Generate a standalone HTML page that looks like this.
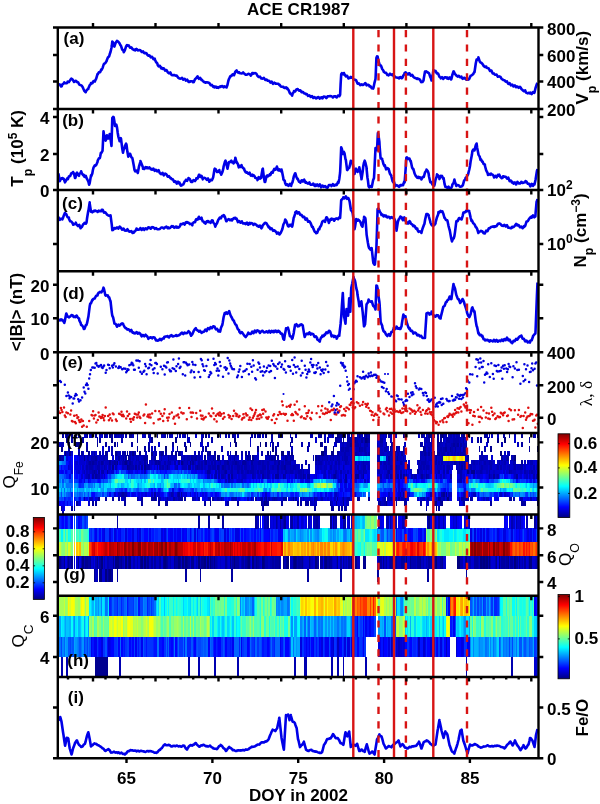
<!DOCTYPE html>
<html><head><meta charset="utf-8"><style>
html,body{margin:0;padding:0;background:#fff;}
svg{display:block;will-change:transform;}
</style></head><body>
<svg width="600" height="804" viewBox="0 0 600 804">
<rect width="600" height="804" fill="#fff"/>
<g fill="none" shape-rendering="crispEdges">
<path d="M62.1 512.4H63.9" stroke="#0000a0" stroke-width="5.23"/>
<path d="M60.7 507.9H62.5M70.7 507.9H72.5M73.6 507.9H75.4M262.4 507.9H264.3M313.9 507.9H315.8M331.1 507.9H334.4M338.3 507.9H340.1M341.1 507.9H343.0M344.0 507.9H347.2M425.5 507.9H427.4M435.6 507.9H437.4M438.4 507.9H440.3" stroke="#0000a0" stroke-width="5.23"/>
<path d="M62.1 507.9H63.9" stroke="#0000e1" stroke-width="5.23"/>
<path d="M63.5 507.9H65.4" stroke="#0000f1" stroke-width="5.23"/>
<path d="M59.3 503.4H61.1M62.1 503.4H65.4M66.4 503.4H68.2M332.5 503.4H334.4M338.3 503.4H340.1M391.2 503.4H393.0" stroke="#0000f1" stroke-width="5.23"/>
<path d="M60.7 503.4H62.5M69.3 503.4H71.1M73.6 503.4H75.4M79.3 503.4H81.1" stroke="#0002ff" stroke-width="5.23"/>
<path d="M65.0 503.4H66.8M67.8 503.4H69.7M70.7 503.4H72.5" stroke="#0022ff" stroke-width="5.23"/>
<path d="M76.4 503.4H78.3M92.2 503.4H94.0M95.0 503.4H96.9M123.6 503.4H125.5M140.8 503.4H142.6M158.0 503.4H159.8M165.1 503.4H168.4M203.8 503.4H205.6M209.5 503.4H211.3M226.7 503.4H228.5M236.7 503.4H238.5M261.0 503.4H262.8M266.7 503.4H268.6M281.0 503.4H282.9M296.8 503.4H298.6M299.6 503.4H301.5M305.4 503.4H308.6M329.7 503.4H331.5M378.3 503.4H381.6M395.5 503.4H397.3M404.1 503.4H407.3M419.8 503.4H421.7M439.9 503.4H441.7M462.7 503.4H464.6M489.9 503.4H491.8M521.4 503.4H526.1M537.1 503.4H539.0" stroke="#0000a0" stroke-width="5.23"/>
<path d="M77.9 503.4H79.7M87.9 503.4H89.7M225.2 503.4H227.1M312.5 503.4H314.3M339.7 503.4H343.0M386.9 503.4H388.7M427.0 503.4H428.8M461.3 503.4H463.1" stroke="#0000d0" stroke-width="5.23"/>
<path d="M262.4 503.4H264.3M309.6 503.4H311.5M313.9 503.4H315.8M384.1 503.4H385.9M458.5 503.4H460.3" stroke="#0000b0" stroke-width="5.23"/>
<path d="M263.9 503.4H265.7" stroke="#000080" stroke-width="5.23"/>
<path d="M265.3 503.4H267.1M335.4 503.4H337.2M342.6 503.4H344.4M385.5 503.4H387.3M434.1 503.4H437.4M441.3 503.4H443.1" stroke="#000090" stroke-width="5.23"/>
<path d="M311.1 503.4H312.9M315.4 503.4H317.2M331.1 503.4H332.9M345.4 503.4H348.7M381.2 503.4H384.4" stroke="#0000c0" stroke-width="5.23"/>
<path d="M334.0 503.4H335.8M336.8 503.4H338.7M344.0 503.4H345.8M388.3 503.4H391.6M425.5 503.4H427.4M437.0 503.4H440.3M459.9 503.4H461.7" stroke="#0000e1" stroke-width="5.23"/>
<path d="M57.8 498.8H59.7M63.5 498.8H65.4M82.1 498.8H84.0M223.8 498.8H225.6M226.7 498.8H228.5M229.5 498.8H231.4M241.0 498.8H244.2M245.3 498.8H247.1M418.4 498.8H420.2" stroke="#0012ff" stroke-width="5.23"/>
<path d="M59.3 498.8H61.1M62.1 498.8H63.9" stroke="#0053ff" stroke-width="5.23"/>
<path d="M60.7 498.8H62.5M70.7 498.8H72.5M76.4 498.8H78.3M80.7 498.8H82.5" stroke="#0043ff" stroke-width="5.23"/>
<path d="M65.0 498.8H66.8M67.8 498.8H71.1M77.9 498.8H79.7M87.9 498.8H89.7" stroke="#0022ff" stroke-width="5.23"/>
<path d="M66.4 498.8H68.2M75.0 498.8H76.8" stroke="#0033ff" stroke-width="5.23"/>
<path d="M73.6 498.8H75.4M85.0 498.8H86.8M93.6 498.8H95.4M225.2 498.8H227.1M236.7 498.8H238.5M239.5 498.8H241.4M243.8 498.8H245.7M248.1 498.8H250.0M478.5 498.8H481.7M488.5 498.8H490.3M518.5 498.8H520.4M522.8 498.8H524.7M528.6 498.8H530.4" stroke="#0002ff" stroke-width="5.23"/>
<path d="M79.3 498.8H81.1M86.4 498.8H88.3M92.2 498.8H94.0M163.7 498.8H165.5M195.2 498.8H197.0M202.3 498.8H204.2M205.2 498.8H207.0M228.1 498.8H229.9M249.6 498.8H251.4M256.7 498.8H258.5M262.4 498.8H264.3M293.9 498.8H295.7M296.8 498.8H298.6M301.1 498.8H302.9M312.5 498.8H314.3M325.4 498.8H327.2M328.2 498.8H330.1M331.1 498.8H332.9M335.4 498.8H337.2M396.9 498.8H398.8M424.1 498.8H425.9M429.8 498.8H431.7M434.1 498.8H436.0M459.9 498.8H461.7M484.2 498.8H486.0M489.9 498.8H491.8M494.2 498.8H496.1M524.3 498.8H527.5M531.4 498.8H533.3M534.3 498.8H536.1" stroke="#0000f1" stroke-width="5.23"/>
<path d="M83.6 498.8H85.4M97.9 498.8H99.7M105.0 498.8H106.9M112.2 498.8H114.0M117.9 498.8H119.7M123.6 498.8H125.5M136.5 498.8H138.3M140.8 498.8H142.6M150.8 498.8H154.1M172.3 498.8H175.5M179.4 498.8H182.7M183.7 498.8H185.6M212.3 498.8H214.2M220.9 498.8H222.8M251.0 498.8H252.8M255.3 498.8H257.1M261.0 498.8H262.8M273.9 498.8H275.7M282.5 498.8H287.2M295.3 498.8H297.2M313.9 498.8H315.8M336.8 498.8H338.7M342.6 498.8H344.4M356.9 498.8H360.1M368.3 498.8H370.1M392.6 498.8H394.5M395.5 498.8H397.3M398.4 498.8H400.2M439.9 498.8H441.7M458.5 498.8H460.3M461.3 498.8H464.6M465.6 498.8H467.4M469.9 498.8H471.7M508.5 498.8H511.8M512.8 498.8H514.7" stroke="#0000a0" stroke-width="5.23"/>
<path d="M89.3 498.8H92.6M137.9 498.8H139.8M175.1 498.8H177.0M193.7 498.8H195.6M218.1 498.8H219.9M222.4 498.8H224.2M231.0 498.8H232.8M233.8 498.8H235.6M246.7 498.8H248.5M276.7 498.8H278.6M291.0 498.8H292.9M309.6 498.8H311.5M316.8 498.8H318.6M334.0 498.8H335.8M341.1 498.8H343.0M345.4 498.8H347.2M378.3 498.8H380.2M381.2 498.8H384.4M388.3 498.8H390.2M394.1 498.8H395.9M417.0 498.8H418.8M419.8 498.8H423.1M435.6 498.8H437.4M441.3 498.8H443.1M445.6 498.8H447.4M482.8 498.8H484.6M485.6 498.8H488.9" stroke="#0000c0" stroke-width="5.23"/>
<path d="M95.0 498.8H98.3M120.8 498.8H124.0M155.1 498.8H156.9M162.3 498.8H164.1M165.1 498.8H167.0M168.0 498.8H171.3M176.6 498.8H178.4M213.8 498.8H217.0M219.5 498.8H221.3M252.4 498.8H254.2M258.1 498.8H260.0M269.6 498.8H272.8M278.2 498.8H282.9M289.6 498.8H291.4M303.9 498.8H310.0M311.1 498.8H312.9M319.7 498.8H321.5M326.8 498.8H328.6M329.7 498.8H331.5M344.0 498.8H345.8M399.8 498.8H401.6M405.5 498.8H408.8M425.5 498.8H427.4M428.4 498.8H430.2M437.0 498.8H438.8M448.4 498.8H450.3M537.1 498.8H539.0" stroke="#0000d0" stroke-width="5.23"/>
<path d="M139.4 498.8H141.2M160.8 498.8H162.7M170.9 498.8H172.7M196.6 498.8H198.4M203.8 498.8H205.6M206.6 498.8H208.5M238.1 498.8H239.9M266.7 498.8H268.6M288.2 498.8H290.0M318.2 498.8H320.1M322.5 498.8H325.8M332.5 498.8H334.4M338.3 498.8H341.5M349.7 498.8H351.5M376.9 498.8H378.7M379.8 498.8H381.6M391.2 498.8H393.0M432.7 498.8H434.5M444.1 498.8H446.0M449.9 498.8H451.7M457.0 498.8H458.9M477.1 498.8H478.9M481.3 498.8H483.2M495.7 498.8H498.9M527.1 498.8H529.0M532.9 498.8H534.7" stroke="#0000e1" stroke-width="5.23"/>
<path d="M153.7 498.8H155.5M265.3 498.8H267.1M292.5 498.8H294.3M404.1 498.8H405.9M438.4 498.8H440.3" stroke="#000090" stroke-width="5.23"/>
<path d="M158.0 498.8H161.2M166.6 498.8H168.4M178.0 498.8H179.8M192.3 498.8H194.1M198.0 498.8H199.9M208.1 498.8H211.3M216.6 498.8H218.5M232.4 498.8H234.2M235.2 498.8H237.1M259.6 498.8H261.4M263.9 498.8H265.7M268.2 498.8H270.0M272.4 498.8H274.3M275.3 498.8H277.1M299.6 498.8H301.5M302.5 498.8H304.3M315.4 498.8H317.2M321.1 498.8H322.9M346.8 498.8H350.1M384.1 498.8H385.9M386.9 498.8H388.7M389.8 498.8H391.6M401.2 498.8H404.5M422.7 498.8H424.5M427.0 498.8H428.8M442.7 498.8H444.5M464.2 498.8H466.0M467.0 498.8H468.9M471.3 498.8H473.2M520.0 498.8H523.2M530.0 498.8H531.8M535.7 498.8H537.5" stroke="#0000b0" stroke-width="5.23"/>
<path d="M447.0 498.8H448.8" stroke="#000080" stroke-width="5.23"/>
<path d="M57.8 494.3H59.7M63.5 494.3H65.4M73.6 494.3H75.4M77.9 494.3H79.7M86.4 494.3H88.3M100.7 494.3H102.6M103.6 494.3H105.4M232.4 494.3H234.2M235.2 494.3H237.1M255.3 494.3H257.1M273.9 494.3H275.7M279.6 494.3H281.4M298.2 494.3H300.0M301.1 494.3H302.9M311.1 494.3H312.9M479.9 494.3H481.7M485.6 494.3H488.9M515.7 494.3H518.9" stroke="#0073ff" stroke-width="5.23"/>
<path d="M59.3 494.3H61.1M65.0 494.3H66.8M82.1 494.3H84.0M220.9 494.3H224.2M233.8 494.3H235.6M241.0 494.3H242.8M302.5 494.3H305.8M309.6 494.3H311.5M361.2 494.3H363.0M520.0 494.3H523.2M528.6 494.3H530.4M535.7 494.3H539.0" stroke="#0094ff" stroke-width="5.23"/>
<path d="M60.7 494.3H62.5M69.3 494.3H71.1M87.9 494.3H89.7M96.5 494.3H98.3M252.4 494.3H254.2M269.6 494.3H271.4M272.4 494.3H274.3M285.3 494.3H288.6M312.5 494.3H314.3M359.7 494.3H361.6M362.6 494.3H364.4M437.0 494.3H438.8M478.5 494.3H480.3M482.8 494.3H484.6M492.8 494.3H494.6M524.3 494.3H526.1M530.0 494.3H531.8M532.9 494.3H534.7" stroke="#0043ff" stroke-width="5.23"/>
<path d="M62.1 494.3H63.9M223.8 494.3H225.6M236.7 494.3H238.5M239.5 494.3H241.4M243.8 494.3H245.7M299.6 494.3H301.5M305.4 494.3H307.2M422.7 494.3H424.5" stroke="#00a4ff" stroke-width="5.23"/>
<path d="M66.4 494.3H68.2M76.4 494.3H78.3M80.7 494.3H82.5M105.0 494.3H106.9M229.5 494.3H232.8M246.7 494.3H248.5M253.8 494.3H255.7M271.0 494.3H272.8M275.3 494.3H277.1M278.2 494.3H280.0M308.2 494.3H310.0M364.0 494.3H365.8M368.3 494.3H370.1M481.3 494.3H483.2M484.2 494.3H486.0M514.3 494.3H516.1M531.4 494.3H533.3M534.3 494.3H536.1" stroke="#0063ff" stroke-width="5.23"/>
<path d="M67.8 494.3H69.7M79.3 494.3H81.1M83.6 494.3H85.4M97.9 494.3H101.1M165.1 494.3H167.0M248.1 494.3H250.0M282.5 494.3H285.7M288.2 494.3H290.0M293.9 494.3H295.7M488.5 494.3H490.3M491.4 494.3H493.2M497.1 494.3H498.9M518.5 494.3H520.4" stroke="#0053ff" stroke-width="5.23"/>
<path d="M70.7 494.3H72.5M106.5 494.3H108.3M112.2 494.3H114.0M135.1 494.3H136.9M198.0 494.3H199.9M212.3 494.3H214.2M218.1 494.3H219.9M251.0 494.3H252.8M276.7 494.3H278.6M281.0 494.3H282.9M289.6 494.3H291.4M296.8 494.3H298.6M318.2 494.3H320.1M322.5 494.3H324.4M326.8 494.3H328.6M346.8 494.3H350.1M355.4 494.3H357.3M409.8 494.3H413.1M432.7 494.3H434.5M458.5 494.3H461.7M511.4 494.3H513.2" stroke="#0022ff" stroke-width="5.23"/>
<path d="M75.0 494.3H76.8M85.0 494.3H86.8M89.3 494.3H91.1M225.2 494.3H227.1M228.1 494.3H229.9M238.1 494.3H239.9M245.3 494.3H247.1M249.6 494.3H251.4M258.1 494.3H260.0M421.3 494.3H423.1M424.1 494.3H425.9M512.8 494.3H514.7M522.8 494.3H524.7M527.1 494.3H529.0" stroke="#0084ff" stroke-width="5.23"/>
<path d="M90.7 494.3H92.6M166.6 494.3H168.4M186.6 494.3H189.9M190.9 494.3H192.7M195.2 494.3H197.0M206.6 494.3H208.5M209.5 494.3H211.3M213.8 494.3H215.6M291.0 494.3H294.3M295.3 494.3H297.2M313.9 494.3H315.8M316.8 494.3H318.6M321.1 494.3H322.9M331.1 494.3H332.9M341.1 494.3H343.0M344.0 494.3H347.2M352.6 494.3H354.4M379.8 494.3H381.6M392.6 494.3H395.9M427.0 494.3H428.8M467.0 494.3H468.9M469.9 494.3H471.7M494.2 494.3H497.5M502.8 494.3H504.6" stroke="#0012ff" stroke-width="5.23"/>
<path d="M92.2 494.3H95.4M115.1 494.3H116.9M130.8 494.3H132.6M136.5 494.3H138.3M139.4 494.3H141.2M146.5 494.3H148.4M149.4 494.3H151.2M152.3 494.3H154.1M162.3 494.3H164.1M192.3 494.3H194.1M200.9 494.3H202.7M203.8 494.3H205.6M210.9 494.3H212.8M216.6 494.3H218.5M263.9 494.3H265.7M266.7 494.3H270.0M328.2 494.3H330.1M338.3 494.3H341.5M381.2 494.3H383.0M385.5 494.3H388.7M389.8 494.3H393.0M395.5 494.3H397.3M425.5 494.3H427.4M431.3 494.3H433.1M457.0 494.3H458.9M477.1 494.3H478.9" stroke="#0002ff" stroke-width="5.23"/>
<path d="M95.0 494.3H96.9M102.2 494.3H104.0M107.9 494.3H109.7M110.8 494.3H112.6M129.4 494.3H131.2M163.7 494.3H165.5M208.1 494.3H209.9M219.5 494.3H221.3M256.7 494.3H258.5M259.6 494.3H262.8M315.4 494.3H317.2M324.0 494.3H325.8M332.5 494.3H334.4M356.9 494.3H360.1M412.7 494.3H414.5M435.6 494.3H437.4M475.6 494.3H477.5M489.9 494.3H491.8M510.0 494.3H511.8M525.7 494.3H527.5" stroke="#0033ff" stroke-width="5.23"/>
<path d="M109.3 494.3H111.2M116.5 494.3H118.3M127.9 494.3H129.8M133.7 494.3H135.5M142.2 494.3H145.5M148.0 494.3H149.8M155.1 494.3H156.9M159.4 494.3H162.7M168.0 494.3H169.8M173.7 494.3H175.5M179.4 494.3H181.3M199.5 494.3H201.3M262.4 494.3H264.3M319.7 494.3H321.5M351.1 494.3H353.0M378.3 494.3H380.2M382.6 494.3H385.9M396.9 494.3H398.8M428.4 494.3H430.2M434.1 494.3H436.0M439.9 494.3H441.7M447.0 494.3H448.8M461.3 494.3H463.1M465.6 494.3H467.4M498.5 494.3H500.3M501.4 494.3H503.2M507.1 494.3H510.4" stroke="#0000f1" stroke-width="5.23"/>
<path d="M113.6 494.3H115.5M145.1 494.3H146.9M156.5 494.3H159.8M169.4 494.3H171.3M185.2 494.3H187.0M189.5 494.3H191.3M196.6 494.3H198.4M334.0 494.3H335.8M376.9 494.3H378.7M398.4 494.3H400.2M444.1 494.3H446.0" stroke="#0000d0" stroke-width="5.23"/>
<path d="M117.9 494.3H121.2M150.8 494.3H152.7M172.3 494.3H174.1M265.3 494.3H267.1M335.4 494.3H337.2M388.3 494.3H390.2M406.9 494.3H408.8M449.9 494.3H451.7M462.7 494.3H464.6M472.8 494.3H476.0M499.9 494.3H501.8M504.2 494.3H506.1" stroke="#0000c0" stroke-width="5.23"/>
<path d="M120.8 494.3H122.6M123.6 494.3H126.9M170.9 494.3H172.7M176.6 494.3H178.4M399.8 494.3H401.6M405.5 494.3H407.3M429.8 494.3H431.7M448.4 494.3H450.3M464.2 494.3H466.0" stroke="#0000b0" stroke-width="5.23"/>
<path d="M122.2 494.3H124.0M153.7 494.3H155.5M178.0 494.3H179.8M180.9 494.3H182.7M402.7 494.3H404.5M441.3 494.3H443.1" stroke="#0000a0" stroke-width="5.23"/>
<path d="M126.5 494.3H128.3M132.2 494.3H134.1M137.9 494.3H139.8M140.8 494.3H142.6M175.1 494.3H177.0M182.3 494.3H185.6M193.7 494.3H195.6M202.3 494.3H204.2M205.2 494.3H207.0M215.2 494.3H217.0M325.4 494.3H327.2M329.7 494.3H331.5M336.8 494.3H338.7M342.6 494.3H344.4M349.7 494.3H351.5M354.0 494.3H355.8M401.2 494.3H403.1M404.1 494.3H405.9M408.4 494.3H410.2M438.4 494.3H440.3M468.5 494.3H470.3M471.3 494.3H473.2M505.7 494.3H507.5" stroke="#0000e1" stroke-width="5.23"/>
<path d="M226.7 494.3H228.5M306.8 494.3H308.6M414.1 494.3H417.4M418.4 494.3H420.2" stroke="#00b4ff" stroke-width="5.23"/>
<path d="M242.4 494.3H244.2" stroke="#00e5ff" stroke-width="5.23"/>
<path d="M417.0 494.3H418.8" stroke="#00f5ff" stroke-width="5.23"/>
<path d="M419.8 494.3H421.7" stroke="#00c4ff" stroke-width="5.23"/>
<path d="M442.7 494.3H444.5M445.6 494.3H447.4" stroke="#000090" stroke-width="5.23"/>
<path d="M57.8 489.8H59.7M66.4 489.8H68.2M76.4 489.8H78.3M82.1 489.8H84.0M102.2 489.8H104.0M110.8 489.8H112.6M127.9 489.8H129.8M146.5 489.8H148.4M162.3 489.8H164.1M168.0 489.8H169.8M198.0 489.8H199.9M202.3 489.8H204.2M205.2 489.8H207.0M212.3 489.8H215.6M268.2 489.8H270.0M376.9 489.8H378.7M437.0 489.8H438.8M499.9 489.8H501.8" stroke="#0094ff" stroke-width="5.23"/>
<path d="M59.3 489.8H61.1M75.0 489.8H76.8M95.0 489.8H96.9M105.0 489.8H106.9M165.1 489.8H167.0M219.5 489.8H221.3M266.7 489.8H268.6M313.9 489.8H317.2M324.0 489.8H325.8M409.8 489.8H411.6M505.7 489.8H507.5M532.9 489.8H534.7" stroke="#00d4ff" stroke-width="5.23"/>
<path d="M60.7 489.8H62.5M106.5 489.8H111.2M132.2 489.8H134.1M140.8 489.8H142.6M193.7 489.8H195.6M196.6 489.8H198.4M203.8 489.8H205.6M263.9 489.8H267.1M354.0 489.8H355.8M428.4 489.8H430.2M438.4 489.8H440.3M459.9 489.8H461.7" stroke="#0084ff" stroke-width="5.23"/>
<path d="M62.1 489.8H63.9M65.0 489.8H66.8M73.6 489.8H75.4M77.9 489.8H79.7M83.6 489.8H85.4M93.6 489.8H95.4M99.3 489.8H101.1M163.7 489.8H165.5M215.2 489.8H219.9M328.2 489.8H331.5M332.5 489.8H334.4M358.3 489.8H360.1M434.1 489.8H436.0M501.4 489.8H503.2" stroke="#00c4ff" stroke-width="5.23"/>
<path d="M63.5 489.8H65.4M69.3 489.8H71.1M185.2 489.8H187.0M188.0 489.8H189.9M334.0 489.8H338.7M381.2 489.8H383.0M391.2 489.8H393.0M457.0 489.8H458.9" stroke="#0063ff" stroke-width="5.23"/>
<path d="M67.8 489.8H69.7M70.7 489.8H72.5M79.3 489.8H82.5M90.7 489.8H92.6M100.7 489.8H102.6M112.2 489.8H115.5M142.2 489.8H144.1M206.6 489.8H208.5M210.9 489.8H212.8M269.6 489.8H271.4M331.1 489.8H332.9M431.3 489.8H433.1M458.5 489.8H460.3M468.5 489.8H470.3M474.2 489.8H476.0M502.8 489.8H506.1" stroke="#00a4ff" stroke-width="5.23"/>
<path d="M85.0 489.8H86.8M89.3 489.8H91.1M103.6 489.8H105.4M285.3 489.8H288.6M291.0 489.8H292.9M295.3 489.8H297.2M325.4 489.8H327.2M359.7 489.8H361.6M435.6 489.8H437.4M477.1 489.8H478.9M511.4 489.8H513.2M531.4 489.8H533.3M535.7 489.8H539.0" stroke="#00e5ff" stroke-width="5.23"/>
<path d="M86.4 489.8H89.7M92.2 489.8H94.0M96.5 489.8H98.3M130.8 489.8H132.6M199.5 489.8H201.3M208.1 489.8H211.3M262.4 489.8H264.3M427.0 489.8H428.8M469.9 489.8H471.7" stroke="#00b4ff" stroke-width="5.23"/>
<path d="M97.9 489.8H99.7M166.6 489.8H168.4M220.9 489.8H222.8M246.7 489.8H248.5M289.6 489.8H291.4M311.1 489.8H312.9M319.7 489.8H321.5M361.2 489.8H364.4M425.5 489.8H427.4M475.6 489.8H477.5M478.5 489.8H480.3M497.1 489.8H498.9M508.5 489.8H510.4M528.6 489.8H530.4" stroke="#00f5ff" stroke-width="5.23"/>
<path d="M115.1 489.8H116.9M117.9 489.8H119.7M135.1 489.8H136.9M148.0 489.8H149.8M155.1 489.8H156.9M183.7 489.8H185.6M186.6 489.8H188.4M195.2 489.8H197.0M406.9 489.8H408.8M448.4 489.8H450.3M465.6 489.8H467.4" stroke="#0053ff" stroke-width="5.23"/>
<path d="M116.5 489.8H118.3M122.2 489.8H124.0M136.5 489.8H139.8M156.5 489.8H158.4M160.8 489.8H162.7M170.9 489.8H172.7M175.1 489.8H177.0M189.5 489.8H191.3M352.6 489.8H354.4M379.8 489.8H381.6M382.6 489.8H384.4M392.6 489.8H394.5M408.4 489.8H410.2M439.9 489.8H441.7M449.9 489.8H451.7M462.7 489.8H464.6" stroke="#0043ff" stroke-width="5.23"/>
<path d="M119.3 489.8H121.2M123.6 489.8H125.5M152.3 489.8H154.1M169.4 489.8H171.3M173.7 489.8H175.5M176.6 489.8H178.4M182.3 489.8H184.1M190.9 489.8H192.7M385.5 489.8H388.7M405.5 489.8H407.3M445.6 489.8H447.4" stroke="#0033ff" stroke-width="5.23"/>
<path d="M120.8 489.8H122.6M149.4 489.8H151.2M192.3 489.8H194.1M338.3 489.8H340.1M342.6 489.8H344.4M384.1 489.8H385.9M388.3 489.8H390.2M396.9 489.8H398.8" stroke="#0022ff" stroke-width="5.23"/>
<path d="M125.1 489.8H126.9M153.7 489.8H155.5M159.4 489.8H161.2M178.0 489.8H179.8M180.9 489.8H182.7M344.0 489.8H345.8M351.1 489.8H353.0M389.8 489.8H391.6M394.1 489.8H395.9M441.3 489.8H443.1M447.0 489.8H448.8" stroke="#0012ff" stroke-width="5.23"/>
<path d="M126.5 489.8H128.3M129.4 489.8H131.2M133.7 489.8H135.5M139.4 489.8H141.2M143.7 489.8H146.9M200.9 489.8H202.7M355.4 489.8H358.7M378.3 489.8H380.2M429.8 489.8H431.7M432.7 489.8H434.5M461.3 489.8H463.1M467.0 489.8H468.9M471.3 489.8H474.6" stroke="#0073ff" stroke-width="5.23"/>
<path d="M150.8 489.8H152.7M158.0 489.8H159.8M399.8 489.8H401.6M442.7 489.8H444.5" stroke="#0002ff" stroke-width="5.23"/>
<path d="M172.3 489.8H174.1M339.7 489.8H341.5M345.4 489.8H347.2M402.7 489.8H404.5" stroke="#0000e1" stroke-width="5.23"/>
<path d="M179.4 489.8H181.3M341.1 489.8H343.0M346.8 489.8H350.1M395.5 489.8H397.3M404.1 489.8H405.9M444.1 489.8H446.0M464.2 489.8H466.0" stroke="#0000f1" stroke-width="5.23"/>
<path d="M222.4 489.8H224.2M231.0 489.8H232.8M235.2 489.8H238.5M248.1 489.8H250.0M271.0 489.8H272.8M281.0 489.8H284.3M293.9 489.8H295.7M321.1 489.8H322.9M424.1 489.8H425.9M487.1 489.8H494.6M521.4 489.8H523.2M525.7 489.8H527.5M534.3 489.8H536.1" stroke="#16ffe9" stroke-width="5.23"/>
<path d="M223.8 489.8H225.6M232.4 489.8H235.6M249.6 489.8H251.4M253.8 489.8H255.7M256.7 489.8H258.5M273.9 489.8H277.1M283.9 489.8H285.7M288.2 489.8H290.0M292.5 489.8H294.3M296.8 489.8H300.0M308.2 489.8H310.0M365.4 489.8H368.7M421.3 489.8H424.5M482.8 489.8H484.6M495.7 489.8H497.5" stroke="#26ffd9" stroke-width="5.23"/>
<path d="M225.2 489.8H227.1M243.8 489.8H245.7M259.6 489.8H261.4M272.4 489.8H274.3M278.2 489.8H280.0M412.7 489.8H414.5M524.3 489.8H526.1M530.0 489.8H531.8" stroke="#47ffb8" stroke-width="5.23"/>
<path d="M226.7 489.8H229.9M245.3 489.8H247.1M251.0 489.8H254.2M312.5 489.8H314.3M316.8 489.8H320.1M322.5 489.8H324.4M326.8 489.8H328.6M364.0 489.8H365.8M368.3 489.8H370.1M494.2 489.8H496.1M498.5 489.8H500.3M507.1 489.8H508.9M510.0 489.8H511.8M527.1 489.8H529.0" stroke="#06fff9" stroke-width="5.23"/>
<path d="M229.5 489.8H231.4M238.1 489.8H239.9M255.3 489.8H257.1M261.0 489.8H262.8M309.6 489.8H311.5M411.2 489.8H413.1M479.9 489.8H481.7M484.2 489.8H487.5M520.0 489.8H521.8M522.8 489.8H524.7" stroke="#37ffc8" stroke-width="5.23"/>
<path d="M239.5 489.8H241.4M481.3 489.8H483.2M512.8 489.8H517.5M518.5 489.8H520.4" stroke="#67ff98" stroke-width="5.23"/>
<path d="M241.0 489.8H244.2M258.1 489.8H260.0M276.7 489.8H278.6M279.6 489.8H281.4M306.8 489.8H308.6M418.4 489.8H421.7M517.1 489.8H518.9" stroke="#57ffa8" stroke-width="5.23"/>
<path d="M299.6 489.8H301.5" stroke="#98ff67" stroke-width="5.23"/>
<path d="M301.1 489.8H302.9M303.9 489.8H305.8M414.1 489.8H415.9M417.0 489.8H418.8" stroke="#77ff88" stroke-width="5.23"/>
<path d="M302.5 489.8H304.3M305.4 489.8H307.2" stroke="#a8ff57" stroke-width="5.23"/>
<path d="M349.7 489.8H351.5M398.4 489.8H400.2M401.2 489.8H403.1" stroke="#0000d0" stroke-width="5.23"/>
<path d="M415.5 489.8H417.4" stroke="#88ff77" stroke-width="5.23"/>
<path d="M57.8 485.2H59.7M73.6 485.2H75.4M76.4 485.2H78.3M83.6 485.2H86.8M102.2 485.2H104.0M137.9 485.2H139.8M159.4 485.2H161.2M222.4 485.2H224.2M243.8 485.2H245.7M248.1 485.2H250.0M358.3 485.2H360.1M364.0 485.2H367.3M532.9 485.2H534.7" stroke="#0094ff" stroke-width="5.23"/>
<path d="M59.3 485.2H61.1M65.0 485.2H66.8M75.0 485.2H76.8M86.4 485.2H88.3M92.2 485.2H94.0M109.3 485.2H111.2M120.8 485.2H122.6M153.7 485.2H155.5M176.6 485.2H178.4M188.0 485.2H189.9M232.4 485.2H234.2M236.7 485.2H239.9M249.6 485.2H251.4M286.8 485.2H288.6M308.2 485.2H310.0M362.6 485.2H364.4M366.9 485.2H368.7M535.7 485.2H537.5" stroke="#00a4ff" stroke-width="5.23"/>
<path d="M60.7 485.2H62.5M96.5 485.2H99.7M122.2 485.2H124.0M136.5 485.2H138.3M156.5 485.2H159.8M162.3 485.2H164.1M170.9 485.2H174.1M202.3 485.2H205.6M218.1 485.2H219.9M229.5 485.2H231.4M235.2 485.2H237.1M241.0 485.2H242.8M263.9 485.2H265.7M289.6 485.2H291.4M306.8 485.2H308.6M359.7 485.2H361.6M376.9 485.2H380.2M415.5 485.2H417.4M534.3 485.2H536.1M537.1 485.2H539.0" stroke="#00b4ff" stroke-width="5.23"/>
<path d="M62.1 485.2H63.9M66.4 485.2H72.5M89.3 485.2H92.6M93.6 485.2H95.4M99.3 485.2H101.1M220.9 485.2H222.8M228.1 485.2H229.9M335.4 485.2H337.2M338.3 485.2H340.1M381.2 485.2H383.0M392.6 485.2H394.5M465.6 485.2H467.4" stroke="#0073ff" stroke-width="5.23"/>
<path d="M63.5 485.2H65.4M95.0 485.2H96.9M100.7 485.2H102.6M117.9 485.2H119.7M126.5 485.2H128.3M139.4 485.2H142.6M152.3 485.2H154.1M160.8 485.2H162.7M179.4 485.2H181.3M189.5 485.2H192.7M193.7 485.2H195.6M196.6 485.2H199.9M208.1 485.2H209.9M239.5 485.2H241.4M252.4 485.2H254.2M266.7 485.2H268.6M269.6 485.2H271.4M487.1 485.2H491.8M525.7 485.2H527.5M530.0 485.2H533.3" stroke="#00c4ff" stroke-width="5.23"/>
<path d="M77.9 485.2H79.7M173.7 485.2H175.5M355.4 485.2H357.3M388.3 485.2H390.2M441.3 485.2H443.1M448.4 485.2H450.3" stroke="#0053ff" stroke-width="5.23"/>
<path d="M79.3 485.2H81.1M342.6 485.2H344.4M395.5 485.2H397.3M402.7 485.2H404.5M447.0 485.2H448.8" stroke="#0022ff" stroke-width="5.23"/>
<path d="M80.7 485.2H84.0M346.8 485.2H348.7M352.6 485.2H354.4M404.1 485.2H405.9M444.1 485.2H446.0M458.5 485.2H463.1" stroke="#0033ff" stroke-width="5.23"/>
<path d="M87.9 485.2H89.7M175.1 485.2H177.0M178.0 485.2H179.8M223.8 485.2H228.5M231.0 485.2H232.8M242.4 485.2H244.2M246.7 485.2H248.5M354.0 485.2H355.8M356.9 485.2H358.7M386.9 485.2H388.7M405.5 485.2H408.8M439.9 485.2H441.7M449.9 485.2H451.7" stroke="#0063ff" stroke-width="5.23"/>
<path d="M103.6 485.2H106.9M107.9 485.2H109.7M123.6 485.2H125.5M127.9 485.2H129.8M149.4 485.2H152.7M169.4 485.2H171.3M186.6 485.2H188.4M195.2 485.2H197.0M255.3 485.2H257.1M271.0 485.2H272.8M291.0 485.2H292.9M361.2 485.2H363.0M414.1 485.2H415.9M485.6 485.2H487.5M491.4 485.2H493.2" stroke="#00d4ff" stroke-width="5.23"/>
<path d="M106.5 485.2H108.3M116.5 485.2H118.3M119.3 485.2H121.2M125.1 485.2H126.9M142.2 485.2H145.5M180.9 485.2H182.7M183.7 485.2H187.0M205.2 485.2H207.0M215.2 485.2H217.0M219.5 485.2H221.3M259.6 485.2H262.8M283.9 485.2H287.2M292.5 485.2H294.3M309.6 485.2H311.5M332.5 485.2H335.8M437.0 485.2H438.8M484.2 485.2H486.0M492.8 485.2H494.6M524.3 485.2H526.1M528.6 485.2H530.4" stroke="#00e5ff" stroke-width="5.23"/>
<path d="M110.8 485.2H112.6M113.6 485.2H115.5M129.4 485.2H131.2M135.1 485.2H136.9M145.1 485.2H146.9M155.1 485.2H156.9M182.3 485.2H184.1M199.5 485.2H201.3M209.5 485.2H211.3M212.3 485.2H214.2M251.0 485.2H252.8M258.1 485.2H260.0M273.9 485.2H275.7M288.2 485.2H290.0M293.9 485.2H295.7M299.6 485.2H301.5M302.5 485.2H307.2M311.1 485.2H312.9M419.8 485.2H423.1M427.0 485.2H428.8M429.8 485.2H431.7M468.5 485.2H470.3M472.8 485.2H474.6M477.1 485.2H478.9M481.3 485.2H483.2M520.0 485.2H521.8M522.8 485.2H524.7M527.1 485.2H529.0" stroke="#06fff9" stroke-width="5.23"/>
<path d="M112.2 485.2H114.0M133.7 485.2H135.5M192.3 485.2H194.1M200.9 485.2H202.7M206.6 485.2H208.5M216.6 485.2H218.5M253.8 485.2H255.7M265.3 485.2H267.1M268.2 485.2H270.0M275.3 485.2H278.6M295.3 485.2H297.2M301.1 485.2H302.9M408.4 485.2H410.2M412.7 485.2H414.5M417.0 485.2H418.8M422.7 485.2H425.9M431.3 485.2H433.1M469.9 485.2H471.7M478.5 485.2H480.3M515.7 485.2H517.5" stroke="#00f5ff" stroke-width="5.23"/>
<path d="M115.1 485.2H116.9M132.2 485.2H134.1M146.5 485.2H149.8M165.1 485.2H167.0M256.7 485.2H258.5M272.4 485.2H274.3M281.0 485.2H282.9M312.5 485.2H314.3M432.7 485.2H434.5M474.2 485.2H476.0M482.8 485.2H484.6M494.2 485.2H497.5" stroke="#26ffd9" stroke-width="5.23"/>
<path d="M130.8 485.2H132.6M210.9 485.2H212.8M296.8 485.2H298.6M428.4 485.2H430.2M471.3 485.2H473.2M517.1 485.2H520.4" stroke="#37ffc8" stroke-width="5.23"/>
<path d="M163.7 485.2H165.5M213.8 485.2H215.6M262.4 485.2H264.3M279.6 485.2H281.4M282.5 485.2H284.3M368.3 485.2H370.1M409.8 485.2H411.6M418.4 485.2H420.2M425.5 485.2H427.4M435.6 485.2H437.4M479.9 485.2H481.7M514.3 485.2H516.1M521.4 485.2H523.2" stroke="#16ffe9" stroke-width="5.23"/>
<path d="M166.6 485.2H168.4M278.2 485.2H280.0M498.5 485.2H501.8M511.4 485.2H513.2" stroke="#67ff98" stroke-width="5.23"/>
<path d="M168.0 485.2H169.8M298.2 485.2H300.0M434.1 485.2H436.0M475.6 485.2H477.5M508.5 485.2H510.4M512.8 485.2H514.7" stroke="#47ffb8" stroke-width="5.23"/>
<path d="M233.8 485.2H235.6M245.3 485.2H247.1M379.8 485.2H381.6M384.1 485.2H387.3M389.8 485.2H393.0M438.4 485.2H440.3M467.0 485.2H468.9" stroke="#0084ff" stroke-width="5.23"/>
<path d="M313.9 485.2H315.8M501.4 485.2H503.2M507.1 485.2H508.9" stroke="#88ff77" stroke-width="5.23"/>
<path d="M315.4 485.2H317.2M319.7 485.2H321.5M325.4 485.2H327.2M505.7 485.2H507.5M510.0 485.2H511.8" stroke="#77ff88" stroke-width="5.23"/>
<path d="M316.8 485.2H318.6M502.8 485.2H504.6" stroke="#a8ff57" stroke-width="5.23"/>
<path d="M318.2 485.2H320.1M321.1 485.2H322.9" stroke="#b8ff47" stroke-width="5.23"/>
<path d="M322.5 485.2H324.4" stroke="#d9ff26" stroke-width="5.23"/>
<path d="M324.0 485.2H325.8" stroke="#c8ff37" stroke-width="5.23"/>
<path d="M326.8 485.2H328.6M331.1 485.2H332.9M411.2 485.2H413.1M497.1 485.2H498.9M504.2 485.2H506.1" stroke="#57ffa8" stroke-width="5.23"/>
<path d="M328.2 485.2H331.5" stroke="#98ff67" stroke-width="5.23"/>
<path d="M336.8 485.2H338.7M382.6 485.2H384.4M442.7 485.2H444.5M445.6 485.2H447.4M457.0 485.2H458.9" stroke="#0043ff" stroke-width="5.23"/>
<path d="M339.7 485.2H341.5M348.3 485.2H351.5" stroke="#0000f1" stroke-width="5.23"/>
<path d="M341.1 485.2H343.0M351.1 485.2H353.0M399.8 485.2H403.1" stroke="#0002ff" stroke-width="5.23"/>
<path d="M344.0 485.2H347.2M394.1 485.2H395.9" stroke="#0000e1" stroke-width="5.23"/>
<path d="M396.9 485.2H398.8M462.7 485.2H466.0" stroke="#0012ff" stroke-width="5.23"/>
<path d="M398.4 485.2H400.2" stroke="#0000d0" stroke-width="5.23"/>
<path d="M57.8 480.7H59.7M203.8 480.7H207.0M210.9 480.7H212.8M325.4 480.7H330.1M331.1 480.7H332.9M431.3 480.7H433.1M468.5 480.7H470.3M474.2 480.7H476.0M497.1 480.7H498.9" stroke="#0094ff" stroke-width="5.23"/>
<path d="M59.3 480.7H61.1M65.0 480.7H66.8M67.8 480.7H69.7M202.3 480.7H204.2M209.5 480.7H211.3M263.9 480.7H267.1M334.0 480.7H335.8M427.0 480.7H428.8M475.6 480.7H477.5M511.4 480.7H513.2" stroke="#0073ff" stroke-width="5.23"/>
<path d="M60.7 480.7H62.5M107.9 480.7H109.7M140.8 480.7H142.6M212.3 480.7H214.2M429.8 480.7H431.7M432.7 480.7H434.5" stroke="#00a4ff" stroke-width="5.23"/>
<path d="M62.1 480.7H63.9M69.3 480.7H72.5M75.0 480.7H76.8M259.6 480.7H261.4M262.4 480.7H264.3M281.0 480.7H282.9M283.9 480.7H287.2M298.2 480.7H300.0M332.5 480.7H334.4M385.5 480.7H388.7M434.1 480.7H436.0M438.4 480.7H440.3M444.1 480.7H447.4M467.0 480.7H468.9M488.5 480.7H491.8M520.0 480.7H521.8M524.3 480.7H526.1" stroke="#0043ff" stroke-width="5.23"/>
<path d="M63.5 480.7H65.4M66.4 480.7H68.2M109.3 480.7H111.2M206.6 480.7H209.9M312.5 480.7H314.3M329.7 480.7H331.5M408.4 480.7H410.2M428.4 480.7H430.2M471.3 480.7H473.2M477.1 480.7H478.9M510.0 480.7H511.8" stroke="#0084ff" stroke-width="5.23"/>
<path d="M73.6 480.7H75.4M76.4 480.7H78.3M85.0 480.7H88.3M95.0 480.7H96.9M102.2 480.7H104.0M216.6 480.7H218.5M271.0 480.7H272.8M273.9 480.7H275.7M279.6 480.7H281.4M282.5 480.7H284.3M289.6 480.7H291.4M296.8 480.7H298.6M303.9 480.7H305.8M405.5 480.7H407.3M424.1 480.7H427.4M465.6 480.7H467.4M482.8 480.7H484.6M491.4 480.7H494.6M512.8 480.7H514.7M521.4 480.7H524.7M527.1 480.7H529.0M531.4 480.7H533.3M535.7 480.7H537.5" stroke="#0033ff" stroke-width="5.23"/>
<path d="M77.9 480.7H79.7M90.7 480.7H95.4M275.3 480.7H277.1M278.2 480.7H280.0M293.9 480.7H295.7M309.6 480.7H311.5M356.9 480.7H358.7M362.6 480.7H364.4M391.2 480.7H393.0M406.9 480.7H408.8M419.8 480.7H421.7M435.6 480.7H438.8M464.2 480.7H466.0M481.3 480.7H483.2M484.2 480.7H486.0M517.1 480.7H520.4" stroke="#0022ff" stroke-width="5.23"/>
<path d="M79.3 480.7H82.5M218.1 480.7H219.9M226.7 480.7H228.5M242.4 480.7H244.2M245.3 480.7H247.1M248.1 480.7H251.4M252.4 480.7H254.2M255.3 480.7H257.1M258.1 480.7H260.0M299.6 480.7H301.5M302.5 480.7H304.3M346.8 480.7H348.7M352.6 480.7H354.4M359.7 480.7H361.6M381.2 480.7H384.4M392.6 480.7H394.5M401.2 480.7H403.1M421.3 480.7H424.5M515.7 480.7H517.5M530.0 480.7H531.8" stroke="#0000f1" stroke-width="5.23"/>
<path d="M82.1 480.7H84.0M96.5 480.7H98.3M99.3 480.7H101.1M222.4 480.7H224.2M251.0 480.7H252.8M253.8 480.7H255.7M256.7 480.7H258.5M266.7 480.7H270.0M276.7 480.7H278.6M311.1 480.7H312.9M336.8 480.7H338.7M348.3 480.7H350.1M358.3 480.7H360.1M368.3 480.7H370.1M389.8 480.7H391.6M414.1 480.7H415.9M418.4 480.7H420.2M441.3 480.7H443.1M479.9 480.7H481.7M485.6 480.7H487.5M525.7 480.7H527.5M528.6 480.7H530.4M534.3 480.7H536.1" stroke="#0012ff" stroke-width="5.23"/>
<path d="M83.6 480.7H85.4M87.9 480.7H89.7M219.5 480.7H221.3M232.4 480.7H234.2M235.2 480.7H237.1M243.8 480.7H245.7M286.8 480.7H288.6M301.1 480.7H302.9M305.4 480.7H307.2M349.7 480.7H353.0M354.0 480.7H357.3M415.5 480.7H417.4M448.4 480.7H451.7M532.9 480.7H534.7M537.1 480.7H539.0" stroke="#0000e1" stroke-width="5.23"/>
<path d="M89.3 480.7H91.1M97.9 480.7H99.7M220.9 480.7H222.8M223.8 480.7H225.6M233.8 480.7H235.6M246.7 480.7H248.5M261.0 480.7H262.8M269.6 480.7H271.4M272.4 480.7H274.3M288.2 480.7H290.0M291.0 480.7H292.9M341.1 480.7H344.4M361.2 480.7H363.0M365.4 480.7H367.3M376.9 480.7H380.2M384.1 480.7H385.9M388.3 480.7H390.2M395.5 480.7H398.8M399.8 480.7H401.6M402.7 480.7H405.9M412.7 480.7H414.5M417.0 480.7H418.8M439.9 480.7H441.7M447.0 480.7H448.8M461.3 480.7H463.1M487.1 480.7H488.9" stroke="#0002ff" stroke-width="5.23"/>
<path d="M100.7 480.7H102.6M103.6 480.7H108.3M215.2 480.7H217.0M292.5 480.7H294.3M335.4 480.7H337.2M409.8 480.7H411.6M478.5 480.7H480.3M514.3 480.7H516.1" stroke="#0053ff" stroke-width="5.23"/>
<path d="M110.8 480.7H112.6M129.4 480.7H131.2M137.9 480.7H139.8M178.0 480.7H179.8M196.6 480.7H198.4M199.5 480.7H201.3M316.8 480.7H318.6M472.8 480.7H474.6" stroke="#00c4ff" stroke-width="5.23"/>
<path d="M112.2 480.7H114.0M175.1 480.7H177.0M322.5 480.7H324.4M507.1 480.7H508.9" stroke="#00e5ff" stroke-width="5.23"/>
<path d="M113.6 480.7H115.5M117.9 480.7H119.7M122.2 480.7H125.5M132.2 480.7H134.1M163.7 480.7H167.0M180.9 480.7H187.0M504.2 480.7H506.1" stroke="#26ffd9" stroke-width="5.23"/>
<path d="M115.1 480.7H118.3M148.0 480.7H149.8" stroke="#67ff98" stroke-width="5.23"/>
<path d="M119.3 480.7H122.6M130.8 480.7H132.6M186.6 480.7H189.9M501.4 480.7H503.2" stroke="#37ffc8" stroke-width="5.23"/>
<path d="M125.1 480.7H128.3M135.1 480.7H138.3M139.4 480.7H141.2M162.3 480.7H164.1M172.3 480.7H174.1M189.5 480.7H191.3M192.3 480.7H194.1M195.2 480.7H197.0M200.9 480.7H202.7M324.0 480.7H325.8" stroke="#00d4ff" stroke-width="5.23"/>
<path d="M127.9 480.7H129.8M145.1 480.7H146.9M153.7 480.7H158.4M169.4 480.7H171.3M176.6 480.7H178.4M179.4 480.7H181.3M190.9 480.7H192.7M193.7 480.7H195.6M319.7 480.7H321.5M502.8 480.7H504.6" stroke="#06fff9" stroke-width="5.23"/>
<path d="M133.7 480.7H135.5M142.2 480.7H144.1M146.5 480.7H148.4M158.0 480.7H161.2M170.9 480.7H172.7M173.7 480.7H175.5M499.9 480.7H501.8M505.7 480.7H507.5M508.5 480.7H510.4" stroke="#00f5ff" stroke-width="5.23"/>
<path d="M143.7 480.7H145.5M160.8 480.7H162.7M198.0 480.7H199.9M313.9 480.7H317.2M318.2 480.7H320.1M321.1 480.7H322.9M498.5 480.7H500.3" stroke="#00b4ff" stroke-width="5.23"/>
<path d="M149.4 480.7H151.2M152.3 480.7H154.1M166.6 480.7H168.4" stroke="#57ffa8" stroke-width="5.23"/>
<path d="M150.8 480.7H152.7M168.0 480.7H169.8" stroke="#16ffe9" stroke-width="5.23"/>
<path d="M213.8 480.7H215.6M295.3 480.7H297.2M411.2 480.7H413.1M442.7 480.7H444.5M469.9 480.7H471.7M494.2 480.7H497.5" stroke="#0063ff" stroke-width="5.23"/>
<path d="M225.2 480.7H227.1M241.0 480.7H242.8M339.7 480.7H341.5M344.0 480.7H345.8M364.0 480.7H365.8M458.5 480.7H460.3" stroke="#0000c0" stroke-width="5.23"/>
<path d="M228.1 480.7H229.9M459.9 480.7H461.7" stroke="#0000b0" stroke-width="5.23"/>
<path d="M229.5 480.7H232.8M236.7 480.7H241.4M306.8 480.7H310.0M338.3 480.7H340.1M366.9 480.7H368.7M379.8 480.7H381.6M394.1 480.7H395.9M398.4 480.7H400.2M457.0 480.7H458.9M462.7 480.7H464.6" stroke="#0000d0" stroke-width="5.23"/>
<path d="M345.4 480.7H347.2" stroke="#0000a0" stroke-width="5.23"/>
<path d="M57.8 476.2H59.7M107.9 476.2H109.7M127.9 476.2H129.8M130.8 476.2H132.6M139.4 476.2H141.2M143.7 476.2H145.5M166.6 476.2H168.4M502.8 476.2H504.6" stroke="#0053ff" stroke-width="5.23"/>
<path d="M59.3 476.2H62.5M110.8 476.2H112.6M136.5 476.2H138.3M142.2 476.2H144.1M193.7 476.2H195.6M196.6 476.2H198.4" stroke="#0073ff" stroke-width="5.23"/>
<path d="M62.1 476.2H63.9M132.2 476.2H135.5M140.8 476.2H142.6M145.1 476.2H146.9" stroke="#0063ff" stroke-width="5.23"/>
<path d="M63.5 476.2H66.8M70.7 476.2H72.5" stroke="#0043ff" stroke-width="5.23"/>
<path d="M66.4 476.2H69.7M77.9 476.2H79.7M106.5 476.2H108.3M198.0 476.2H199.9M200.9 476.2H204.2M321.1 476.2H322.9M501.4 476.2H503.2M507.1 476.2H511.8" stroke="#0022ff" stroke-width="5.23"/>
<path d="M69.3 476.2H71.1M89.3 476.2H91.1M102.2 476.2H104.0M219.5 476.2H221.3M225.2 476.2H227.1M229.5 476.2H231.4M236.7 476.2H238.5M251.0 476.2H252.8M255.3 476.2H257.1M261.0 476.2H262.8M273.9 476.2H275.7M285.3 476.2H287.2M289.6 476.2H291.4M292.5 476.2H294.3M305.4 476.2H307.2M309.6 476.2H314.3M338.3 476.2H340.1M344.0 476.2H345.8M346.8 476.2H351.5M368.3 476.2H370.1M381.2 476.2H383.0M409.8 476.2H411.6M429.8 476.2H431.7M437.0 476.2H438.8M441.3 476.2H443.1M447.0 476.2H450.3M467.0 476.2H468.9M469.9 476.2H471.7M474.2 476.2H477.5M484.2 476.2H486.0M504.2 476.2H506.1M517.1 476.2H518.9M522.8 476.2H524.7M527.1 476.2H529.0" stroke="#0000f1" stroke-width="5.23"/>
<path d="M73.6 476.2H76.8M203.8 476.2H205.6M212.3 476.2H214.2M318.2 476.2H321.5M431.3 476.2H434.5M471.3 476.2H473.2" stroke="#0012ff" stroke-width="5.23"/>
<path d="M76.4 476.2H78.3M79.3 476.2H81.1M82.1 476.2H84.0M105.0 476.2H106.9M205.2 476.2H207.0M209.5 476.2H211.3M216.6 476.2H218.5M271.0 476.2H272.8M316.8 476.2H318.6M326.8 476.2H328.6M329.7 476.2H331.5M341.1 476.2H343.0M354.0 476.2H355.8M364.0 476.2H367.3M392.6 476.2H394.5M398.4 476.2H400.2M408.4 476.2H410.2M417.0 476.2H418.8M434.1 476.2H436.0M464.2 476.2H466.0M468.5 476.2H470.3M482.8 476.2H484.6M498.5 476.2H500.3M505.7 476.2H507.5M511.4 476.2H513.2M521.4 476.2H523.2" stroke="#0002ff" stroke-width="5.23"/>
<path d="M80.7 476.2H82.5M85.0 476.2H86.8M93.6 476.2H95.4M100.7 476.2H102.6M210.9 476.2H212.8M232.4 476.2H237.1M238.1 476.2H239.9M241.0 476.2H242.8M245.3 476.2H247.1M256.7 476.2H258.5M259.6 476.2H261.4M265.3 476.2H267.1M279.6 476.2H281.4M288.2 476.2H290.0M315.4 476.2H317.2M322.5 476.2H324.4M328.2 476.2H330.1M331.1 476.2H332.9M336.8 476.2H338.7M339.7 476.2H341.5M342.6 476.2H344.4M384.1 476.2H385.9M395.5 476.2H397.3M404.1 476.2H405.9M406.9 476.2H408.8M412.7 476.2H414.5M424.1 476.2H425.9M428.4 476.2H430.2M458.5 476.2H460.3M461.3 476.2H464.6M477.1 476.2H480.3M487.1 476.2H488.9M491.4 476.2H493.2M494.2 476.2H496.1M520.0 476.2H521.8M524.3 476.2H526.1M530.0 476.2H531.8" stroke="#0000d0" stroke-width="5.23"/>
<path d="M83.6 476.2H85.4M90.7 476.2H92.6M99.3 476.2H101.1M226.7 476.2H228.5M239.5 476.2H241.4M246.7 476.2H251.4M269.6 476.2H271.4M278.2 476.2H280.0M281.0 476.2H282.9M286.8 476.2H288.6M291.0 476.2H292.9M293.9 476.2H295.7M296.8 476.2H298.6M313.9 476.2H315.8M325.4 476.2H327.2M358.3 476.2H361.6M366.9 476.2H368.7M376.9 476.2H380.2M382.6 476.2H384.4M388.3 476.2H390.2M401.2 476.2H403.1M418.4 476.2H420.2M438.4 476.2H440.3M444.1 476.2H447.4M457.0 476.2H458.9M465.6 476.2H467.4M479.9 476.2H483.2M485.6 476.2H487.5M512.8 476.2H514.7M518.5 476.2H520.4M531.4 476.2H533.3M534.3 476.2H536.1M537.1 476.2H539.0" stroke="#0000e1" stroke-width="5.23"/>
<path d="M86.4 476.2H88.3M103.6 476.2H105.4M206.6 476.2H209.9M213.8 476.2H215.6M223.8 476.2H225.6M242.4 476.2H245.7M253.8 476.2H255.7M258.1 476.2H260.0M263.9 476.2H265.7M268.2 476.2H270.0M272.4 476.2H274.3M298.2 476.2H300.0M301.1 476.2H302.9M324.0 476.2H325.8M335.4 476.2H337.2M361.2 476.2H363.0M391.2 476.2H393.0M419.8 476.2H421.7M422.7 476.2H424.5M439.9 476.2H441.7M442.7 476.2H444.5M472.8 476.2H474.6M489.9 476.2H491.8M495.7 476.2H497.5M514.3 476.2H516.1M525.7 476.2H527.5M528.6 476.2H530.4" stroke="#0000c0" stroke-width="5.23"/>
<path d="M87.9 476.2H89.7M96.5 476.2H99.7M215.2 476.2H217.0M218.1 476.2H219.9M220.9 476.2H224.2M252.4 476.2H254.2M266.7 476.2H268.6M283.9 476.2H285.7M295.3 476.2H297.2M299.6 476.2H301.5M303.9 476.2H305.8M332.5 476.2H334.4M351.1 476.2H354.4M379.8 476.2H381.6M385.5 476.2H388.7M389.8 476.2H391.6M394.1 476.2H395.9M396.9 476.2H398.8M411.2 476.2H413.1M414.1 476.2H417.4M427.0 476.2H428.8M435.6 476.2H437.4M459.9 476.2H461.7M497.1 476.2H498.9M532.9 476.2H534.7M535.7 476.2H537.5" stroke="#0000b0" stroke-width="5.23"/>
<path d="M92.2 476.2H94.0M95.0 476.2H96.9M228.1 476.2H229.9M231.0 476.2H232.8M262.4 476.2H264.3M275.3 476.2H278.6M282.5 476.2H284.3M302.5 476.2H304.3M306.8 476.2H310.0M334.0 476.2H335.8M345.4 476.2H347.2M355.4 476.2H358.7M362.6 476.2H364.4M399.8 476.2H401.6M402.7 476.2H404.5M405.5 476.2H407.3M421.3 476.2H423.1M425.5 476.2H427.4M449.9 476.2H451.7M488.5 476.2H490.3M492.8 476.2H494.6M515.7 476.2H517.5" stroke="#0000a0" stroke-width="5.23"/>
<path d="M109.3 476.2H111.2M163.7 476.2H165.5M199.5 476.2H201.3M499.9 476.2H501.8" stroke="#0033ff" stroke-width="5.23"/>
<path d="M112.2 476.2H115.5M129.4 476.2H131.2M135.1 476.2H136.9M146.5 476.2H148.4M165.1 476.2H167.0M168.0 476.2H169.8M186.6 476.2H188.4M189.5 476.2H191.3" stroke="#0084ff" stroke-width="5.23"/>
<path d="M115.1 476.2H116.9M159.4 476.2H161.2M172.3 476.2H177.0M178.0 476.2H181.3" stroke="#00c4ff" stroke-width="5.23"/>
<path d="M116.5 476.2H118.3M152.3 476.2H154.1" stroke="#00e5ff" stroke-width="5.23"/>
<path d="M117.9 476.2H122.6M156.5 476.2H158.4M170.9 476.2H172.7" stroke="#00f5ff" stroke-width="5.23"/>
<path d="M122.2 476.2H124.0M149.4 476.2H151.2" stroke="#16ffe9" stroke-width="5.23"/>
<path d="M123.6 476.2H126.9M148.0 476.2H149.8M158.0 476.2H159.8M176.6 476.2H178.4M195.2 476.2H197.0" stroke="#00a4ff" stroke-width="5.23"/>
<path d="M126.5 476.2H128.3M183.7 476.2H185.6M188.0 476.2H189.9M190.9 476.2H192.7" stroke="#00b4ff" stroke-width="5.23"/>
<path d="M137.9 476.2H139.8M160.8 476.2H164.1M192.3 476.2H194.1" stroke="#0094ff" stroke-width="5.23"/>
<path d="M150.8 476.2H152.7M155.1 476.2H156.9M180.9 476.2H182.7" stroke="#06fff9" stroke-width="5.23"/>
<path d="M153.7 476.2H155.5M169.4 476.2H171.3M182.3 476.2H184.1M185.2 476.2H187.0" stroke="#00d4ff" stroke-width="5.23"/>
<path d="M57.8 471.6H59.7M66.4 471.6H68.2M69.3 471.6H71.1M75.0 471.6H76.8M125.1 471.6H128.3M132.2 471.6H135.5M139.4 471.6H141.2M160.8 471.6H165.5" stroke="#0012ff" stroke-width="5.23"/>
<path d="M59.3 471.6H61.1M62.1 471.6H63.9M115.1 471.6H116.9M137.9 471.6H139.8M142.2 471.6H144.1M145.1 471.6H146.9M159.4 471.6H161.2M165.1 471.6H167.0M196.6 471.6H198.4M202.3 471.6H204.2M406.9 471.6H408.8" stroke="#0002ff" stroke-width="5.23"/>
<path d="M60.7 471.6H62.5M65.0 471.6H66.8M73.6 471.6H75.4M79.3 471.6H82.5M99.3 471.6H101.1M135.1 471.6H136.9M190.9 471.6H195.6M198.0 471.6H201.3M203.8 471.6H205.6M212.3 471.6H215.6M318.2 471.6H321.5M325.4 471.6H328.6M398.4 471.6H400.2M404.1 471.6H405.9M439.9 471.6H441.7M444.1 471.6H446.0M448.4 471.6H450.3M464.2 471.6H466.0M501.4 471.6H503.2M504.2 471.6H506.1" stroke="#0000f1" stroke-width="5.23"/>
<path d="M63.5 471.6H65.4M113.6 471.6H115.5M120.8 471.6H122.6M155.1 471.6H156.9M158.0 471.6H159.8M170.9 471.6H172.7M178.0 471.6H179.8M183.7 471.6H187.0M189.5 471.6H191.3" stroke="#0033ff" stroke-width="5.23"/>
<path d="M67.8 471.6H69.7M116.5 471.6H119.7M146.5 471.6H148.4M152.3 471.6H154.1M156.5 471.6H158.4M166.6 471.6H171.3M180.9 471.6H182.7M188.0 471.6H189.9" stroke="#0022ff" stroke-width="5.23"/>
<path d="M70.7 471.6H72.5M76.4 471.6H78.3M85.0 471.6H86.8M96.5 471.6H98.3M103.6 471.6H106.9M109.3 471.6H111.2M127.9 471.6H132.6M136.5 471.6H138.3M140.8 471.6H142.6M195.2 471.6H197.0M200.9 471.6H202.7M210.9 471.6H212.8M216.6 471.6H218.5M315.4 471.6H318.6M331.1 471.6H332.9M338.3 471.6H340.1M341.1 471.6H343.0M345.4 471.6H347.2M348.3 471.6H350.1M351.1 471.6H353.0M356.9 471.6H358.7M366.9 471.6H370.1M382.6 471.6H384.4M401.2 471.6H403.1M408.4 471.6H410.2M422.7 471.6H424.5M427.0 471.6H428.8M431.3 471.6H434.5M441.3 471.6H443.1M449.9 471.6H451.7M462.7 471.6H464.6M465.6 471.6H467.4M474.2 471.6H476.0M499.9 471.6H501.8M522.8 471.6H524.7M535.7 471.6H537.5" stroke="#0000e1" stroke-width="5.23"/>
<path d="M77.9 471.6H79.7M82.1 471.6H84.0M87.9 471.6H89.7M107.9 471.6H109.7M110.8 471.6H114.0M205.2 471.6H207.0M219.5 471.6H221.3M226.7 471.6H229.9M232.4 471.6H237.1M239.5 471.6H241.4M243.8 471.6H245.7M255.3 471.6H257.1M258.1 471.6H260.0M265.3 471.6H267.1M269.6 471.6H277.1M278.2 471.6H281.4M282.5 471.6H285.7M293.9 471.6H295.7M303.9 471.6H307.2M321.1 471.6H324.4M329.7 471.6H331.5M332.5 471.6H335.8M336.8 471.6H338.7M342.6 471.6H345.8M349.7 471.6H351.5M352.6 471.6H357.3M361.2 471.6H363.0M379.8 471.6H383.0M384.1 471.6H387.3M389.8 471.6H393.0M396.9 471.6H398.8M402.7 471.6H404.5M409.8 471.6H411.6M418.4 471.6H420.2M424.1 471.6H425.9M428.4 471.6H431.7M434.1 471.6H438.8M461.3 471.6H463.1M469.9 471.6H471.7M482.8 471.6H486.0M487.1 471.6H488.9M489.9 471.6H493.2M494.2 471.6H500.3M502.8 471.6H504.6M505.7 471.6H508.9M515.7 471.6H520.4M521.4 471.6H523.2M527.1 471.6H529.0M534.3 471.6H536.1" stroke="#0000d0" stroke-width="5.23"/>
<path d="M83.6 471.6H85.4M86.4 471.6H88.3M89.3 471.6H92.6M143.7 471.6H145.5M209.5 471.6H211.3M220.9 471.6H224.2M229.5 471.6H231.4M238.1 471.6H239.9M242.4 471.6H244.2M245.3 471.6H247.1M248.1 471.6H250.0M253.8 471.6H255.7M263.9 471.6H265.7M281.0 471.6H282.9M286.8 471.6H290.0M292.5 471.6H294.3M295.3 471.6H298.6M301.1 471.6H302.9M306.8 471.6H310.0M324.0 471.6H325.8M328.2 471.6H330.1M346.8 471.6H348.7M358.3 471.6H361.6M364.0 471.6H367.3M376.9 471.6H378.7M392.6 471.6H397.3M405.5 471.6H407.3M419.8 471.6H423.1M425.5 471.6H427.4M445.6 471.6H447.4M468.5 471.6H470.3M475.6 471.6H480.3M481.3 471.6H483.2M485.6 471.6H487.5M492.8 471.6H494.6M511.4 471.6H516.1M520.0 471.6H521.8M525.7 471.6H527.5M530.0 471.6H531.8M532.9 471.6H534.7M537.1 471.6H539.0" stroke="#0000c0" stroke-width="5.23"/>
<path d="M92.2 471.6H94.0M95.0 471.6H96.9M100.7 471.6H104.0M215.2 471.6H217.0M218.1 471.6H219.9M223.8 471.6H225.6M231.0 471.6H232.8M236.7 471.6H238.5M241.0 471.6H242.8M246.7 471.6H248.5M249.6 471.6H254.2M256.7 471.6H258.5M259.6 471.6H264.3M266.7 471.6H270.0M276.7 471.6H278.6M285.3 471.6H287.2M289.6 471.6H292.9M298.2 471.6H301.5M302.5 471.6H304.3M335.4 471.6H337.2M339.7 471.6H341.5M362.6 471.6H364.4M378.3 471.6H380.2M386.9 471.6H388.7M399.8 471.6H401.6M438.4 471.6H440.3M442.7 471.6H444.5M447.0 471.6H448.8M457.0 471.6H461.7M479.9 471.6H481.7M488.5 471.6H490.3M510.0 471.6H511.8M524.3 471.6H526.1M528.6 471.6H530.4M531.4 471.6H533.3" stroke="#0000b0" stroke-width="5.23"/>
<path d="M93.6 471.6H95.4M97.9 471.6H99.7M106.5 471.6H108.3M206.6 471.6H209.9M225.2 471.6H227.1M388.3 471.6H390.2M417.0 471.6H418.8M508.5 471.6H510.4" stroke="#0000a0" stroke-width="5.23"/>
<path d="M119.3 471.6H121.2M149.4 471.6H151.2" stroke="#0084ff" stroke-width="5.23"/>
<path d="M122.2 471.6H125.5M148.0 471.6H149.8M150.8 471.6H152.7M172.3 471.6H175.5M176.6 471.6H178.4" stroke="#0043ff" stroke-width="5.23"/>
<path d="M153.7 471.6H155.5M182.3 471.6H184.1" stroke="#0063ff" stroke-width="5.23"/>
<path d="M175.1 471.6H177.0M179.4 471.6H181.3M186.6 471.6H188.4" stroke="#0053ff" stroke-width="5.23"/>
<path d="M467.0 471.6H468.9M471.3 471.6H474.6" stroke="#000090" stroke-width="5.23"/>
<path d="M57.8 467.1H59.7M60.7 467.1H62.5M73.6 467.1H75.4M113.6 467.1H115.5M117.9 467.1H121.2M158.0 467.1H159.8M172.3 467.1H174.1M178.0 467.1H181.3" stroke="#0002ff" stroke-width="5.23"/>
<path d="M59.3 467.1H61.1" stroke="#0033ff" stroke-width="5.23"/>
<path d="M62.1 467.1H63.9" stroke="#0022ff" stroke-width="5.23"/>
<path d="M63.5 467.1H68.2" stroke="#0012ff" stroke-width="5.23"/>
<path d="M67.8 467.1H69.7M79.3 467.1H81.1M85.0 467.1H86.8M93.6 467.1H95.4M99.3 467.1H101.1M102.2 467.1H104.0M123.6 467.1H126.9M133.7 467.1H135.5M136.5 467.1H138.3M149.4 467.1H152.7M153.7 467.1H155.5M163.7 467.1H165.5M202.3 467.1H204.2M205.2 467.1H208.5M215.2 467.1H217.0M219.5 467.1H221.3M229.5 467.1H231.4M232.4 467.1H234.2M242.4 467.1H244.2M249.6 467.1H251.4M256.7 467.1H258.5M265.3 467.1H267.1M268.2 467.1H270.0M298.2 467.1H300.0M315.4 467.1H317.2M318.2 467.1H320.1M321.1 467.1H324.4M328.2 467.1H330.1M331.1 467.1H334.4M344.0 467.1H345.8M352.6 467.1H354.4M355.4 467.1H357.3M359.7 467.1H361.6M366.9 467.1H368.7M378.3 467.1H383.0M386.9 467.1H388.7M399.8 467.1H407.3M434.1 467.1H437.4M441.3 467.1H443.1M449.9 467.1H453.1M462.7 467.1H464.6M465.6 467.1H467.4M468.5 467.1H470.3M471.3 467.1H473.2M475.6 467.1H478.9M487.1 467.1H488.9M491.4 467.1H496.1M498.5 467.1H500.3M501.4 467.1H503.2M505.7 467.1H507.5M510.0 467.1H513.2M515.7 467.1H517.5M531.4 467.1H533.3" stroke="#0000d0" stroke-width="5.23"/>
<path d="M69.3 467.1H71.1M75.0 467.1H79.7M83.6 467.1H85.4M110.8 467.1H112.6M116.5 467.1H118.3M173.7 467.1H175.5M180.9 467.1H182.7M193.7 467.1H195.6M326.8 467.1H328.6M336.8 467.1H338.7M339.7 467.1H343.0M345.4 467.1H350.1M358.3 467.1H360.1M365.4 467.1H367.3M429.8 467.1H431.7M444.1 467.1H446.0M522.8 467.1H524.7M525.7 467.1H530.4M534.3 467.1H536.1" stroke="#0000e1" stroke-width="5.23"/>
<path d="M70.7 467.1H72.5M80.7 467.1H82.5M106.5 467.1H108.3M120.8 467.1H122.6M139.4 467.1H141.2M142.2 467.1H144.1M152.3 467.1H154.1M155.1 467.1H156.9M169.4 467.1H172.7M186.6 467.1H188.4M190.9 467.1H192.7" stroke="#0000f1" stroke-width="5.23"/>
<path d="M82.1 467.1H84.0M87.9 467.1H89.7M92.2 467.1H94.0M95.0 467.1H96.9M100.7 467.1H102.6M105.0 467.1H106.9M107.9 467.1H109.7M122.2 467.1H124.0M160.8 467.1H162.7M165.1 467.1H167.0M168.0 467.1H169.8M175.1 467.1H177.0M182.3 467.1H187.0M192.3 467.1H194.1M199.5 467.1H201.3M203.8 467.1H205.6M210.9 467.1H212.8M220.9 467.1H222.8M225.2 467.1H228.5M233.8 467.1H237.1M239.5 467.1H241.4M246.7 467.1H250.0M253.8 467.1H257.1M258.1 467.1H262.8M269.6 467.1H272.8M273.9 467.1H277.1M278.2 467.1H281.4M285.3 467.1H290.0M291.0 467.1H292.9M295.3 467.1H298.6M316.8 467.1H318.6M319.7 467.1H321.5M324.0 467.1H327.2M334.0 467.1H337.2M338.3 467.1H340.1M349.7 467.1H351.5M354.0 467.1H355.8M361.2 467.1H363.0M368.3 467.1H370.1M376.9 467.1H378.7M382.6 467.1H385.9M388.3 467.1H390.2M392.6 467.1H394.5M396.9 467.1H400.2M408.4 467.1H410.2M418.4 467.1H420.2M421.3 467.1H423.1M424.1 467.1H425.9M428.4 467.1H430.2M431.3 467.1H433.1M437.0 467.1H441.7M445.6 467.1H447.4M455.6 467.1H458.9M459.9 467.1H461.7M467.0 467.1H468.9M472.8 467.1H476.0M478.5 467.1H481.7M482.8 467.1H487.5M488.5 467.1H490.3M495.7 467.1H497.5M502.8 467.1H506.1M507.1 467.1H508.9M512.8 467.1H514.7M517.1 467.1H520.4M524.3 467.1H526.1M530.0 467.1H531.8M535.7 467.1H539.0" stroke="#0000c0" stroke-width="5.23"/>
<path d="M86.4 467.1H88.3M89.3 467.1H92.6M96.5 467.1H99.7M103.6 467.1H105.4M109.3 467.1H111.2M115.1 467.1H116.9M129.4 467.1H134.1M137.9 467.1H139.8M145.1 467.1H149.8M156.5 467.1H158.4M159.4 467.1H161.2M162.3 467.1H164.1M176.6 467.1H178.4M195.2 467.1H197.0M198.0 467.1H199.9M200.9 467.1H202.7M208.1 467.1H211.3M212.3 467.1H215.6M218.1 467.1H219.9M223.8 467.1H225.6M228.1 467.1H229.9M231.0 467.1H232.8M236.7 467.1H239.9M241.0 467.1H242.8M243.8 467.1H247.1M251.0 467.1H254.2M262.4 467.1H265.7M266.7 467.1H268.6M272.4 467.1H274.3M281.0 467.1H284.3M289.6 467.1H291.4M292.5 467.1H295.7M301.1 467.1H302.9M308.2 467.1H310.0M329.7 467.1H331.5M342.6 467.1H344.4M351.1 467.1H353.0M356.9 467.1H358.7M362.6 467.1H365.8M385.5 467.1H387.3M389.8 467.1H393.0M394.1 467.1H397.3M406.9 467.1H408.8M419.8 467.1H421.7M422.7 467.1H424.5M425.5 467.1H428.8M432.7 467.1H434.5M442.7 467.1H444.5M447.0 467.1H450.3M458.5 467.1H460.3M464.2 467.1H466.0M469.9 467.1H471.7M481.3 467.1H483.2M489.9 467.1H491.8M497.1 467.1H498.9M499.9 467.1H501.8M508.5 467.1H510.4M514.3 467.1H516.1M520.0 467.1H523.2M532.9 467.1H534.7" stroke="#0000b0" stroke-width="5.23"/>
<path d="M112.2 467.1H114.0M126.5 467.1H128.3M143.7 467.1H145.5" stroke="#000090" stroke-width="5.23"/>
<path d="M127.9 467.1H129.8M135.1 467.1H136.9M140.8 467.1H142.6M166.6 467.1H168.4M188.0 467.1H191.3M196.6 467.1H198.4M216.6 467.1H218.5M222.4 467.1H224.2M276.7 467.1H278.6M283.9 467.1H285.7M461.3 467.1H463.1" stroke="#0000a0" stroke-width="5.23"/>
<path d="M57.8 462.6H59.7" stroke="#0084ff" stroke-width="5.23"/>
<path d="M59.3 462.6H61.1" stroke="#00a4ff" stroke-width="5.23"/>
<path d="M60.7 462.6H62.5" stroke="#0094ff" stroke-width="5.23"/>
<path d="M62.1 462.6H65.4" stroke="#0073ff" stroke-width="5.23"/>
<path d="M65.0 462.6H66.8" stroke="#0063ff" stroke-width="5.23"/>
<path d="M66.4 462.6H68.2" stroke="#0012ff" stroke-width="5.23"/>
<path d="M67.8 462.6H69.7M70.7 462.6H72.5" stroke="#0002ff" stroke-width="5.23"/>
<path d="M69.3 462.6H71.1M75.0 462.6H76.8M85.0 462.6H86.8M172.3 462.6H174.1M176.6 462.6H178.4M195.2 462.6H197.0M324.0 462.6H325.8M332.5 462.6H334.4M341.1 462.6H343.0M352.6 462.6H354.4M356.9 462.6H358.7M381.2 462.6H383.0M408.4 462.6H410.2M528.6 462.6H530.4M534.3 462.6H536.1M537.1 462.6H539.0" stroke="#0000e1" stroke-width="5.23"/>
<path d="M73.6 462.6H75.4M77.9 462.6H79.7M117.9 462.6H119.7M175.1 462.6H177.0M179.4 462.6H181.3" stroke="#0000f1" stroke-width="5.23"/>
<path d="M76.4 462.6H78.3M79.3 462.6H85.4M96.5 462.6H98.3M103.6 462.6H105.4M120.8 462.6H122.6M132.2 462.6H135.5M136.5 462.6H138.3M142.2 462.6H144.1M145.1 462.6H146.9M149.4 462.6H151.2M152.3 462.6H154.1M160.8 462.6H164.1M165.1 462.6H167.0M170.9 462.6H172.7M188.0 462.6H189.9M196.6 462.6H198.4M202.3 462.6H204.2M206.6 462.6H208.5M209.5 462.6H211.3M212.3 462.6H214.2M215.2 462.6H218.5M220.9 462.6H224.2M241.0 462.6H242.8M248.1 462.6H251.4M269.6 462.6H274.3M279.6 462.6H281.4M283.9 462.6H285.7M291.0 462.6H294.3M322.5 462.6H324.4M326.8 462.6H328.6M329.7 462.6H331.5M334.0 462.6H335.8M336.8 462.6H338.7M339.7 462.6H341.5M342.6 462.6H345.8M348.3 462.6H351.5M359.7 462.6H361.6M368.3 462.6H370.1M395.5 462.6H400.2M402.7 462.6H404.5M417.0 462.6H418.8M428.4 462.6H433.1M437.0 462.6H438.8M439.9 462.6H441.7M442.7 462.6H447.4M448.4 462.6H450.3M452.7 462.6H454.6M467.0 462.6H468.9M477.1 462.6H478.9M481.3 462.6H483.2M492.8 462.6H494.6M499.9 462.6H501.8M505.7 462.6H508.9M510.0 462.6H513.2M532.9 462.6H534.7M535.7 462.6H537.5" stroke="#0000d0" stroke-width="5.23"/>
<path d="M86.4 462.6H88.3M99.3 462.6H101.1M105.0 462.6H109.7M110.8 462.6H112.6M119.3 462.6H121.2M127.9 462.6H129.8M135.1 462.6H136.9M137.9 462.6H139.8M140.8 462.6H142.6M150.8 462.6H152.7M153.7 462.6H155.5M166.6 462.6H168.4M183.7 462.6H187.0M190.9 462.6H192.7M193.7 462.6H195.6M199.5 462.6H201.3M208.1 462.6H209.9M218.1 462.6H219.9M228.1 462.6H232.8M238.1 462.6H241.4M246.7 462.6H248.5M252.4 462.6H258.5M261.0 462.6H262.8M263.9 462.6H267.1M268.2 462.6H270.0M275.3 462.6H278.6M293.9 462.6H295.7M316.8 462.6H318.6M321.1 462.6H322.9M325.4 462.6H327.2M328.2 462.6H330.1M331.1 462.6H332.9M346.8 462.6H348.7M355.4 462.6H357.3M358.3 462.6H360.1M361.2 462.6H363.0M364.0 462.6H368.7M382.6 462.6H384.4M385.5 462.6H388.7M389.8 462.6H393.0M401.2 462.6H403.1M404.1 462.6H405.9M419.8 462.6H421.7M425.5 462.6H428.8M447.0 462.6H448.8M449.9 462.6H453.1M457.0 462.6H458.9M459.9 462.6H461.7M462.7 462.6H464.6M471.3 462.6H473.2M474.2 462.6H477.5M479.9 462.6H481.7M482.8 462.6H484.6M485.6 462.6H488.9M491.4 462.6H493.2M497.1 462.6H498.9M501.4 462.6H504.6M524.3 462.6H526.1M527.1 462.6H529.0" stroke="#0000c0" stroke-width="5.23"/>
<path d="M87.9 462.6H89.7M90.7 462.6H92.6M93.6 462.6H96.9M97.9 462.6H99.7M102.2 462.6H104.0M112.2 462.6H114.0M115.1 462.6H116.9M122.2 462.6H124.0M126.5 462.6H128.3M130.8 462.6H132.6M139.4 462.6H141.2M156.5 462.6H158.4M159.4 462.6H161.2M163.7 462.6H165.5M168.0 462.6H171.3M173.7 462.6H175.5M182.3 462.6H184.1M186.6 462.6H188.4M198.0 462.6H199.9M200.9 462.6H202.7M203.8 462.6H205.6M210.9 462.6H212.8M213.8 462.6H215.6M219.5 462.6H221.3M223.8 462.6H227.1M232.4 462.6H235.6M236.7 462.6H238.5M245.3 462.6H247.1M258.1 462.6H261.4M262.4 462.6H264.3M266.7 462.6H268.6M273.9 462.6H275.7M281.0 462.6H284.3M285.3 462.6H290.0M305.4 462.6H307.2M315.4 462.6H317.2M318.2 462.6H321.5M335.4 462.6H337.2M338.3 462.6H340.1M345.4 462.6H347.2M351.1 462.6H353.0M354.0 462.6H355.8M362.6 462.6H364.4M376.9 462.6H381.6M384.1 462.6H385.9M388.3 462.6H390.2M392.6 462.6H395.9M399.8 462.6H401.6M418.4 462.6H420.2M421.3 462.6H425.9M432.7 462.6H437.4M438.4 462.6H440.3M441.3 462.6H443.1M455.6 462.6H457.4M461.3 462.6H463.1M464.2 462.6H467.4M472.8 462.6H474.6M478.5 462.6H480.3M484.2 462.6H486.0M488.5 462.6H491.8M498.5 462.6H500.3M504.2 462.6H506.1M512.8 462.6H516.1M530.0 462.6H533.3" stroke="#0000b0" stroke-width="5.23"/>
<path d="M89.3 462.6H91.1M92.2 462.6H94.0M100.7 462.6H102.6M109.3 462.6H111.2M113.6 462.6H115.5M123.6 462.6H125.5M129.4 462.6H131.2M143.7 462.6H145.5M146.5 462.6H148.4M155.1 462.6H156.9M158.0 462.6H159.8M178.0 462.6H179.8M192.3 462.6H194.1M205.2 462.6H207.0M226.7 462.6H228.5M235.2 462.6H237.1M242.4 462.6H245.7M251.0 462.6H252.8M278.2 462.6H280.0M289.6 462.6H291.4M454.2 462.6H456.0M458.5 462.6H460.3M521.4 462.6H523.2" stroke="#0000a0" stroke-width="5.23"/>
<path d="M116.5 462.6H118.3M125.1 462.6H126.9M180.9 462.6H182.7M189.5 462.6H191.3" stroke="#000090" stroke-width="5.23"/>
<path d="M405.5 462.6H407.3" stroke="#000080" stroke-width="5.23"/>
<path d="M57.8 458.1H61.1M83.6 458.1H85.4M127.9 458.1H129.8M252.4 458.1H254.2M315.4 458.1H317.2" stroke="#000090" stroke-width="5.23"/>
<path d="M60.7 458.1H63.9M86.4 458.1H89.7M90.7 458.1H95.4M102.2 458.1H105.4M106.5 458.1H108.3M129.4 458.1H131.2M135.1 458.1H136.9M137.9 458.1H139.8M142.2 458.1H144.1M145.1 458.1H146.9M150.8 458.1H152.7M160.8 458.1H162.7M175.1 458.1H177.0M180.9 458.1H182.7M183.7 458.1H185.6M186.6 458.1H189.9M192.3 458.1H195.6M198.0 458.1H199.9M209.5 458.1H211.3M213.8 458.1H215.6M229.5 458.1H231.4M248.1 458.1H250.0M268.2 458.1H271.4M272.4 458.1H274.3M276.7 458.1H278.6M286.8 458.1H288.6M291.0 458.1H294.3M312.5 458.1H314.3M316.8 458.1H318.6M321.1 458.1H322.9M326.8 458.1H328.6M329.7 458.1H331.5M332.5 458.1H334.4M336.8 458.1H340.1M341.1 458.1H343.0M344.0 458.1H348.7M351.1 458.1H353.0M354.0 458.1H355.8M378.3 458.1H380.2M391.2 458.1H393.0M394.1 458.1H395.9M402.7 458.1H404.5M419.8 458.1H421.7M424.1 458.1H425.9M432.7 458.1H434.5M441.3 458.1H443.1M479.9 458.1H484.6M505.7 458.1H507.5M511.4 458.1H514.7" stroke="#0000b0" stroke-width="5.23"/>
<path d="M63.5 458.1H65.4" stroke="#0084ff" stroke-width="5.23"/>
<path d="M65.0 458.1H66.8" stroke="#0073ff" stroke-width="5.23"/>
<path d="M66.4 458.1H68.2M69.3 458.1H71.1M76.4 458.1H78.3" stroke="#0000e1" stroke-width="5.23"/>
<path d="M67.8 458.1H69.7M70.7 458.1H72.5M73.6 458.1H76.8" stroke="#0002ff" stroke-width="5.23"/>
<path d="M77.9 458.1H79.7" stroke="#0000f1" stroke-width="5.23"/>
<path d="M79.3 458.1H84.0M85.0 458.1H86.8M89.3 458.1H91.1M97.9 458.1H99.7M112.2 458.1H114.0M116.5 458.1H118.3M119.3 458.1H121.2M123.6 458.1H125.5M130.8 458.1H132.6M133.7 458.1H135.5M139.4 458.1H141.2M159.4 458.1H161.2M162.3 458.1H168.4M189.5 458.1H191.3M199.5 458.1H202.7M206.6 458.1H208.5M231.0 458.1H232.8M236.7 458.1H238.5M241.0 458.1H242.8M256.7 458.1H258.5M281.0 458.1H282.9M283.9 458.1H285.7M328.2 458.1H330.1M334.0 458.1H335.8M339.7 458.1H341.5M348.3 458.1H350.1M386.9 458.1H388.7M392.6 458.1H394.5M401.2 458.1H403.1M404.1 458.1H405.9M427.0 458.1H428.8M431.3 458.1H433.1M437.0 458.1H438.8M464.2 458.1H466.0M491.4 458.1H493.2M502.8 458.1H504.6" stroke="#0000d0" stroke-width="5.23"/>
<path d="M95.0 458.1H96.9M117.9 458.1H119.7M122.2 458.1H124.0M125.1 458.1H126.9M143.7 458.1H145.5M146.5 458.1H148.4M153.7 458.1H155.5M168.0 458.1H169.8M190.9 458.1H192.7M195.2 458.1H197.0M203.8 458.1H205.6M212.3 458.1H214.2M218.1 458.1H219.9M233.8 458.1H235.6M246.7 458.1H248.5M249.6 458.1H251.4M271.0 458.1H272.8M273.9 458.1H275.7M285.3 458.1H287.2M289.6 458.1H291.4M318.2 458.1H320.1M388.3 458.1H390.2M396.9 458.1H398.8M435.6 458.1H437.4M467.0 458.1H468.9M501.4 458.1H503.2M507.1 458.1H508.9" stroke="#0000a0" stroke-width="5.23"/>
<path d="M96.5 458.1H98.3M99.3 458.1H102.6M105.0 458.1H106.9M115.1 458.1H116.9M120.8 458.1H122.6M132.2 458.1H134.1M136.5 458.1H138.3M140.8 458.1H142.6M152.3 458.1H154.1M169.4 458.1H175.5M182.3 458.1H184.1M185.2 458.1H187.0M196.6 458.1H198.4M208.1 458.1H209.9M210.9 458.1H212.8M222.4 458.1H224.2M228.1 458.1H229.9M232.4 458.1H234.2M235.2 458.1H237.1M245.3 458.1H247.1M253.8 458.1H257.1M265.3 458.1H268.6M282.5 458.1H284.3M288.2 458.1H290.0M319.7 458.1H321.5M322.5 458.1H327.2M331.1 458.1H332.9M335.4 458.1H337.2M342.6 458.1H344.4M349.7 458.1H351.5M352.6 458.1H354.4M376.9 458.1H378.7M385.5 458.1H387.3M389.8 458.1H391.6M395.5 458.1H397.3M398.4 458.1H401.6M421.3 458.1H424.5M425.5 458.1H427.4M428.4 458.1H431.7M434.1 458.1H436.0M438.4 458.1H441.7M465.6 458.1H467.4M478.5 458.1H480.3M484.2 458.1H487.5M504.2 458.1H506.1" stroke="#0000c0" stroke-width="5.23"/>
<path d="M216.6 458.1H218.5M514.3 458.1H516.1" stroke="#000080" stroke-width="5.23"/>
<path d="M355.4 458.1H357.3M381.2 458.1H383.0" stroke="#06fff9" stroke-width="5.23"/>
<path d="M356.9 458.1H358.7M361.2 458.1H363.0" stroke="#00f5ff" stroke-width="5.23"/>
<path d="M358.3 458.1H360.1M384.1 458.1H385.9" stroke="#00b4ff" stroke-width="5.23"/>
<path d="M359.7 458.1H361.6" stroke="#00d4ff" stroke-width="5.23"/>
<path d="M362.6 458.1H364.4M365.4 458.1H367.3M368.3 458.1H370.1M382.6 458.1H384.4" stroke="#00c4ff" stroke-width="5.23"/>
<path d="M364.0 458.1H365.8M366.9 458.1H368.7M379.8 458.1H381.6" stroke="#00e5ff" stroke-width="5.23"/>
<path d="M442.7 458.1H444.5" stroke="#c8ff37" stroke-width="5.23"/>
<path d="M444.1 458.1H446.0M457.0 458.1H458.9" stroke="#f9ff06" stroke-width="5.23"/>
<path d="M445.6 458.1H447.4M451.3 458.1H453.1M458.5 458.1H461.7" stroke="#ffe500" stroke-width="5.23"/>
<path d="M447.0 458.1H448.8M449.9 458.1H451.7" stroke="#e9ff16" stroke-width="5.23"/>
<path d="M448.4 458.1H450.3M454.2 458.1H456.0M461.3 458.1H463.1" stroke="#ffd500" stroke-width="5.23"/>
<path d="M452.7 458.1H454.6" stroke="#ffc400" stroke-width="5.23"/>
<path d="M455.6 458.1H457.4" stroke="#b8ff47" stroke-width="5.23"/>
<path d="M462.7 458.1H464.6" stroke="#fff500" stroke-width="5.23"/>
<path d="M63.5 453.5H65.4M67.8 453.5H69.7M70.7 453.5H72.5M82.1 453.5H84.0M92.2 453.5H94.0M95.0 453.5H96.9M102.2 453.5H104.0M152.3 453.5H155.5M180.9 453.5H182.7M200.9 453.5H202.7M256.7 453.5H258.5M286.8 453.5H288.6M349.7 453.5H351.5M358.3 453.5H360.1M361.2 453.5H364.4M366.9 453.5H368.7M384.1 453.5H387.3M395.5 453.5H397.3M399.8 453.5H401.6M402.7 453.5H404.5M429.8 453.5H431.7M445.6 453.5H447.4M465.6 453.5H467.4" stroke="#0000d0" stroke-width="5.23"/>
<path d="M65.0 453.5H66.8M150.8 453.5H152.7M235.2 453.5H237.1M275.3 453.5H277.1M281.0 453.5H284.3M321.1 453.5H324.4M499.9 453.5H501.8" stroke="#000080" stroke-width="5.23"/>
<path d="M66.4 453.5H68.2M90.7 453.5H92.6M110.8 453.5H112.6M117.9 453.5H121.2M130.8 453.5H132.6M145.1 453.5H146.9M162.3 453.5H164.1M193.7 453.5H195.6M226.7 453.5H228.5M269.6 453.5H271.4M338.3 453.5H344.4M345.4 453.5H350.1M352.6 453.5H355.8M356.9 453.5H358.7M359.7 453.5H361.6M364.0 453.5H365.8M376.9 453.5H378.7M379.8 453.5H384.4M386.9 453.5H390.2M391.2 453.5H393.0M398.4 453.5H400.2M419.8 453.5H421.7M422.7 453.5H424.5M427.0 453.5H428.8M439.9 453.5H441.7M444.1 453.5H446.0M448.4 453.5H451.7M452.7 453.5H454.6M455.6 453.5H457.4M458.5 453.5H460.3M504.2 453.5H506.1M507.1 453.5H508.9" stroke="#0000c0" stroke-width="5.23"/>
<path d="M69.3 453.5H71.1M87.9 453.5H89.7M105.0 453.5H106.9M115.1 453.5H116.9M132.2 453.5H134.1M139.4 453.5H141.2M160.8 453.5H162.7M175.1 453.5H177.0M178.0 453.5H181.3M208.1 453.5H209.9M266.7 453.5H268.6M291.0 453.5H292.9M331.1 453.5H334.4" stroke="#000090" stroke-width="5.23"/>
<path d="M77.9 453.5H79.7M80.7 453.5H82.5M93.6 453.5H95.4M99.3 453.5H101.1M123.6 453.5H125.5M126.5 453.5H128.3M129.4 453.5H131.2M165.1 453.5H167.0M170.9 453.5H172.7M198.0 453.5H199.9M206.6 453.5H208.5M209.5 453.5H211.3M213.8 453.5H215.6M245.3 453.5H247.1M288.2 453.5H290.0M336.8 453.5H338.7M394.1 453.5H395.9M401.2 453.5H403.1M424.1 453.5H425.9M428.4 453.5H430.2M431.3 453.5H433.1M437.0 453.5H440.3M459.9 453.5H461.7M464.2 453.5H466.0" stroke="#0000a0" stroke-width="5.23"/>
<path d="M106.5 453.5H108.3M116.5 453.5H118.3M122.2 453.5H124.0M133.7 453.5H135.5M155.1 453.5H156.9M159.4 453.5H161.2M229.5 453.5H231.4M241.0 453.5H242.8M248.1 453.5H250.0M261.0 453.5H262.8M324.0 453.5H327.2M344.0 453.5H345.8M351.1 453.5H353.0M355.4 453.5H357.3M365.4 453.5H367.3M368.3 453.5H370.1M378.3 453.5H380.2M389.8 453.5H391.6M392.6 453.5H394.5M396.9 453.5H398.8M421.3 453.5H423.1M425.5 453.5H427.4M432.7 453.5H434.5M441.3 453.5H444.5M447.0 453.5H448.8M451.3 453.5H453.1M454.2 453.5H456.0M457.0 453.5H458.9M461.3 453.5H464.6M481.3 453.5H483.2M508.5 453.5H510.4" stroke="#0000b0" stroke-width="5.23"/>
<path d="M60.7 449.0H62.5M205.2 449.0H207.0M256.7 449.0H258.5M389.8 449.0H391.6M422.7 449.0H424.5M489.9 449.0H491.8M537.1 449.0H539.0" stroke="#000090" stroke-width="5.23"/>
<path d="M67.8 449.0H69.7M86.4 449.0H88.3M136.5 449.0H138.3M143.7 449.0H145.5M148.0 449.0H149.8M176.6 449.0H178.4M275.3 449.0H277.1M324.0 449.0H327.2M358.3 449.0H360.1M378.3 449.0H380.2M395.5 449.0H397.3M398.4 449.0H400.2M424.1 449.0H425.9M444.1 449.0H447.4M449.9 449.0H451.7M454.2 449.0H456.0M459.9 449.0H461.7M462.7 449.0H466.0M478.5 449.0H480.3M528.6 449.0H530.4" stroke="#0000a0" stroke-width="5.23"/>
<path d="M77.9 449.0H79.7M107.9 449.0H109.7M150.8 449.0H152.7M291.0 449.0H292.9M344.0 449.0H345.8M348.3 449.0H351.5M355.4 449.0H358.7M362.6 449.0H364.4M365.4 449.0H367.3M368.3 449.0H370.1M376.9 449.0H378.7M379.8 449.0H383.0M391.2 449.0H393.0M396.9 449.0H398.8M429.8 449.0H431.7M441.3 449.0H443.1M447.0 449.0H450.3M452.7 449.0H454.6M455.6 449.0H460.3M465.6 449.0H467.4" stroke="#0000c0" stroke-width="5.23"/>
<path d="M102.2 449.0H104.0M172.3 449.0H174.1M339.7 449.0H341.5M352.6 449.0H355.8M366.9 449.0H368.7M382.6 449.0H384.4M386.9 449.0H388.7M425.5 449.0H428.8M431.3 449.0H433.1M461.3 449.0H463.1" stroke="#0000d0" stroke-width="5.23"/>
<path d="M110.8 449.0H112.6M153.7 449.0H155.5M202.3 449.0H204.2M220.9 449.0H222.8M306.8 449.0H308.6M341.1 449.0H344.4M345.4 449.0H348.7M351.1 449.0H353.0M359.7 449.0H363.0M364.0 449.0H365.8M384.1 449.0H387.3M392.6 449.0H394.5M402.7 449.0H404.5M428.4 449.0H430.2M437.0 449.0H441.7M442.7 449.0H444.5M451.3 449.0H453.1M484.2 449.0H486.0" stroke="#0000b0" stroke-width="5.23"/>
<path d="M165.1 449.0H167.0M185.2 449.0H187.0M272.4 449.0H274.3M332.5 449.0H334.4" stroke="#000080" stroke-width="5.23"/>
<path d="M59.3 444.5H61.1M62.1 444.5H63.9M79.3 444.5H81.1M206.6 444.5H208.5M229.5 444.5H231.4M249.6 444.5H251.4M341.1 444.5H344.4M345.4 444.5H347.2M354.0 444.5H355.8M358.3 444.5H360.1M404.1 444.5H405.9M421.3 444.5H423.1M424.1 444.5H425.9M427.0 444.5H431.7M439.9 444.5H443.1M447.0 444.5H451.7M461.3 444.5H463.1M464.2 444.5H466.0M517.1 444.5H518.9" stroke="#0000c0" stroke-width="5.23"/>
<path d="M60.7 444.5H62.5M86.4 444.5H88.3M116.5 444.5H118.3M148.0 444.5H149.8M276.7 444.5H278.6M301.1 444.5H302.9M308.2 444.5H310.0M321.1 444.5H322.9M335.4 444.5H337.2M346.8 444.5H350.1M351.1 444.5H354.4M355.4 444.5H358.7M359.7 444.5H361.6M364.0 444.5H368.7M376.9 444.5H378.7M379.8 444.5H383.0M431.3 444.5H433.1M438.4 444.5H440.3M444.1 444.5H447.4M451.3 444.5H453.1M454.2 444.5H457.4M462.7 444.5H464.6M501.4 444.5H503.2" stroke="#0000b0" stroke-width="5.23"/>
<path d="M67.8 444.5H69.7M105.0 444.5H106.9M130.8 444.5H132.6M172.3 444.5H174.1M183.7 444.5H185.6M272.4 444.5H274.3M391.2 444.5H393.0M419.8 444.5H421.7M437.0 444.5H438.8M452.7 444.5H454.6M457.0 444.5H458.9M459.9 444.5H461.7M465.6 444.5H467.4M521.4 444.5H523.2" stroke="#0000a0" stroke-width="5.23"/>
<path d="M75.0 444.5H76.8M77.9 444.5H79.7M235.2 444.5H237.1M259.6 444.5H261.4M265.3 444.5H267.1M319.7 444.5H321.5" stroke="#000080" stroke-width="5.23"/>
<path d="M76.4 444.5H78.3M96.5 444.5H98.3M113.6 444.5H115.5M189.5 444.5H191.3M289.6 444.5H291.4M349.7 444.5H351.5M385.5 444.5H387.3" stroke="#000090" stroke-width="5.23"/>
<path d="M158.0 444.5H159.8M199.5 444.5H202.7M269.6 444.5H271.4M334.0 444.5H335.8M339.7 444.5H341.5M344.0 444.5H345.8M361.2 444.5H364.4M368.3 444.5H370.1M378.3 444.5H380.2M382.6 444.5H385.9M425.5 444.5H427.4M442.7 444.5H444.5M458.5 444.5H460.3M485.6 444.5H487.5" stroke="#0000d0" stroke-width="5.23"/>
<path d="M66.4 439.9H68.2M110.8 439.9H112.6M150.8 439.9H152.7M175.1 439.9H177.0M342.6 439.9H344.4M366.9 439.9H368.7M437.0 439.9H438.8M497.1 439.9H498.9" stroke="#000090" stroke-width="5.23"/>
<path d="M70.7 439.9H72.5M82.1 439.9H84.0M96.5 439.9H98.3M120.8 439.9H122.6M200.9 439.9H202.7M210.9 439.9H212.8M271.0 439.9H272.8M324.0 439.9H325.8M336.8 439.9H340.1M346.8 439.9H350.1M351.1 439.9H353.0M355.4 439.9H358.7M364.0 439.9H365.8M425.5 439.9H427.4M428.4 439.9H430.2M445.6 439.9H450.3M452.7 439.9H458.9M459.9 439.9H461.7M465.6 439.9H467.4" stroke="#0000b0" stroke-width="5.23"/>
<path d="M73.6 439.9H75.4M186.6 439.9H189.9M249.6 439.9H251.4M339.7 439.9H341.5M358.3 439.9H361.6M362.6 439.9H364.4M389.8 439.9H391.6M424.1 439.9H425.9M427.0 439.9H428.8M431.3 439.9H433.1M442.7 439.9H444.5M449.9 439.9H453.1M458.5 439.9H460.3M461.3 439.9H463.1M471.3 439.9H473.2" stroke="#0000c0" stroke-width="5.23"/>
<path d="M99.3 439.9H101.1M136.5 439.9H138.3M291.0 439.9H292.9M335.4 439.9H337.2M349.7 439.9H351.5M352.6 439.9H355.8M361.2 439.9H363.0M368.3 439.9H370.1M379.8 439.9H383.0M439.9 439.9H441.7M462.7 439.9H464.6M477.1 439.9H478.9M479.9 439.9H481.7M487.1 439.9H488.9M528.6 439.9H530.4" stroke="#0000a0" stroke-width="5.23"/>
<path d="M149.4 439.9H151.2M315.4 439.9H317.2M326.8 439.9H328.6M376.9 439.9H380.2M382.6 439.9H385.9M444.1 439.9H446.0M464.2 439.9H466.0M514.3 439.9H516.1" stroke="#0000d0" stroke-width="5.23"/>
<path d="M233.8 439.9H235.6M365.4 439.9H367.3M504.2 439.9H506.1" stroke="#000080" stroke-width="5.23"/>
<path d="M62.1 435.4H63.9M95.0 435.4H96.9M110.8 435.4H112.6M120.8 435.4H122.6M136.5 435.4H138.3M148.0 435.4H151.2M166.6 435.4H168.4M251.0 435.4H252.8M253.8 435.4H255.7M271.0 435.4H272.8M279.6 435.4H281.4M339.7 435.4H341.5M342.6 435.4H344.4M368.3 435.4H370.1M392.6 435.4H394.5M425.5 435.4H427.4M431.3 435.4H433.1M437.0 435.4H438.8M442.7 435.4H444.5M445.6 435.4H447.4M484.2 435.4H486.0M502.8 435.4H504.6M508.5 435.4H510.4M532.9 435.4H534.7" stroke="#0000a0" stroke-width="5.23"/>
<path d="M65.0 435.4H66.8M67.8 435.4H69.7M83.6 435.4H85.4M89.3 435.4H91.1M100.7 435.4H102.6M106.5 435.4H108.3M113.6 435.4H115.5M195.2 435.4H197.0M200.9 435.4H202.7M332.5 435.4H334.4M384.1 435.4H385.9M395.5 435.4H397.3M427.0 435.4H428.8M451.3 435.4H453.1M454.2 435.4H456.0M488.5 435.4H490.3" stroke="#0000d0" stroke-width="5.23"/>
<path d="M66.4 435.4H68.2M86.4 435.4H88.3M103.6 435.4H105.4M109.3 435.4H111.2M205.2 435.4H207.0M265.3 435.4H267.1M336.8 435.4H338.7M441.3 435.4H443.1" stroke="#000080" stroke-width="5.23"/>
<path d="M70.7 435.4H72.5M129.4 435.4H132.6M156.5 435.4H158.4M216.6 435.4H218.5M232.4 435.4H234.2M258.1 435.4H261.4M278.2 435.4H280.0M319.7 435.4H321.5M331.1 435.4H332.9M338.3 435.4H340.1M341.1 435.4H343.0M344.0 435.4H345.8M346.8 435.4H348.7M358.3 435.4H360.1M365.4 435.4H367.3M402.7 435.4H404.5M421.3 435.4H423.1M428.4 435.4H431.7M439.9 435.4H441.7M462.7 435.4H464.6M521.4 435.4H523.2M537.1 435.4H539.0" stroke="#000090" stroke-width="5.23"/>
<path d="M75.0 435.4H76.8M77.9 435.4H79.7M90.7 435.4H92.6M105.0 435.4H106.9M115.1 435.4H116.9M117.9 435.4H119.7M125.1 435.4H126.9M160.8 435.4H162.7M163.7 435.4H165.5M169.4 435.4H171.3M179.4 435.4H181.3M183.7 435.4H185.6M186.6 435.4H188.4M202.3 435.4H204.2M219.5 435.4H221.3M225.2 435.4H227.1M228.1 435.4H229.9M256.7 435.4H258.5M295.3 435.4H297.2M309.6 435.4H312.9M318.2 435.4H320.1M348.3 435.4H350.1M351.1 435.4H353.0M359.7 435.4H361.6M364.0 435.4H365.8M366.9 435.4H368.7M378.3 435.4H381.6M385.5 435.4H387.3M388.3 435.4H390.2M432.7 435.4H434.5M449.9 435.4H451.7M452.7 435.4H454.6M455.6 435.4H460.3M461.3 435.4H463.1M485.6 435.4H487.5" stroke="#0000b0" stroke-width="5.23"/>
<path d="M85.0 435.4H86.8M99.3 435.4H101.1M116.5 435.4H118.3M119.3 435.4H121.2M122.2 435.4H124.0M132.2 435.4H134.1M142.2 435.4H145.5M162.3 435.4H164.1M170.9 435.4H172.7M176.6 435.4H178.4M182.3 435.4H184.1M208.1 435.4H209.9M233.8 435.4H235.6M236.7 435.4H238.5M262.4 435.4H264.3M281.0 435.4H282.9M289.6 435.4H291.4M324.0 435.4H325.8M328.2 435.4H331.5M356.9 435.4H358.7M361.2 435.4H363.0M376.9 435.4H378.7M381.2 435.4H384.4M389.8 435.4H391.6M394.1 435.4H395.9M418.4 435.4H420.2M422.7 435.4H424.5M444.1 435.4H446.0M448.4 435.4H450.3M468.5 435.4H470.3M491.4 435.4H493.2M497.1 435.4H498.9M514.3 435.4H516.1M534.3 435.4H536.1" stroke="#0000c0" stroke-width="5.23"/>
<path d="M93.6 575.2H95.4M107.9 575.2H109.7" stroke="#000090" stroke-width="14.05"/>
<path d="M95.0 575.2H98.3" stroke="#0000c0" stroke-width="14.05"/>
<path d="M99.3 575.2H102.6M105.0 575.2H106.9M109.3 575.2H111.2" stroke="#000080" stroke-width="14.05"/>
<path d="M102.2 575.2H105.4" stroke="#0000d0" stroke-width="14.05"/>
<path d="M106.5 575.2H108.3" stroke="#0000b0" stroke-width="14.05"/>
<path d="M110.8 575.2H112.6M116.5 575.2H118.3M185.2 575.2H187.0M199.5 575.2H201.3M231.0 575.2H232.8M306.8 575.2H308.6M339.7 575.2H341.5M376.9 575.2H378.7M427.0 575.2H428.8M465.6 575.2H467.4" stroke="#0000a0" stroke-width="14.05"/>
<path d="M57.8 561.9H61.1M63.5 561.9H65.4M67.8 561.9H69.7M70.7 561.9H72.5M77.9 561.9H79.7M85.0 561.9H88.3M89.3 561.9H91.1M96.5 561.9H98.3M112.2 561.9H114.0M120.8 561.9H122.6M127.9 561.9H129.8M139.4 561.9H141.2M146.5 561.9H149.8M162.3 561.9H164.1M165.1 561.9H167.0M173.7 561.9H175.5M179.4 561.9H181.3M186.6 561.9H188.4M190.9 561.9H194.1M200.9 561.9H204.2M213.8 561.9H215.6M229.5 561.9H231.4M246.7 561.9H248.5M255.3 561.9H257.1M263.9 561.9H265.7M278.2 561.9H280.0M285.3 561.9H287.2M292.5 561.9H294.3M295.3 561.9H297.2M301.1 561.9H302.9M308.2 561.9H310.0M324.0 561.9H325.8M328.2 561.9H330.1M336.8 561.9H338.7M355.4 561.9H357.3M362.6 561.9H365.8M382.6 561.9H384.4M409.8 561.9H411.6M419.8 561.9H421.7M431.3 561.9H433.1M434.1 561.9H436.0M441.3 561.9H443.1M464.2 561.9H466.0M481.3 561.9H483.2M484.2 561.9H486.0M495.7 561.9H497.5M507.1 561.9H508.9M518.5 561.9H520.4" stroke="#000090" stroke-width="14.05"/>
<path d="M60.7 561.9H62.5M66.4 561.9H68.2M69.3 561.9H71.1M80.7 561.9H82.5M83.6 561.9H85.4M95.0 561.9H96.9M103.6 561.9H105.4M106.5 561.9H109.7M122.2 561.9H124.0M132.2 561.9H135.5M136.5 561.9H138.3M145.1 561.9H146.9M169.4 561.9H171.3M183.7 561.9H185.6M195.2 561.9H197.0M199.5 561.9H201.3M212.3 561.9H214.2M215.2 561.9H217.0M241.0 561.9H242.8M253.8 561.9H255.7M258.1 561.9H260.0M265.3 561.9H268.6M269.6 561.9H272.8M273.9 561.9H275.7M283.9 561.9H285.7M296.8 561.9H298.6M309.6 561.9H311.5M345.4 561.9H347.2M388.3 561.9H390.2M392.6 561.9H394.5M411.2 561.9H415.9M422.7 561.9H424.5M425.5 561.9H427.4M429.8 561.9H431.7M432.7 561.9H434.5M459.9 561.9H463.1M468.5 561.9H471.7M477.1 561.9H478.9M487.1 561.9H488.9M489.9 561.9H491.8M494.2 561.9H496.1M504.2 561.9H506.1M521.4 561.9H523.2M535.7 561.9H537.5" stroke="#0000b0" stroke-width="14.05"/>
<path d="M62.1 561.9H63.9M92.2 561.9H94.0M109.3 561.9H112.6M126.5 561.9H128.3M142.2 561.9H144.1M149.4 561.9H151.2M155.1 561.9H159.8M168.0 561.9H169.8M180.9 561.9H182.7M196.6 561.9H198.4M205.2 561.9H207.0M208.1 561.9H209.9M216.6 561.9H218.5M219.5 561.9H221.3M226.7 561.9H228.5M231.0 561.9H232.8M238.1 561.9H239.9M243.8 561.9H245.7M249.6 561.9H251.4M259.6 561.9H261.4M268.2 561.9H270.0M289.6 561.9H292.9M302.5 561.9H304.3M311.1 561.9H312.9M331.1 561.9H332.9M335.4 561.9H337.2M344.0 561.9H345.8M349.7 561.9H351.5M356.9 561.9H360.1M384.1 561.9H385.9M396.9 561.9H401.6M404.1 561.9H405.9M415.5 561.9H417.4M421.3 561.9H423.1M427.0 561.9H428.8M437.0 561.9H440.3M467.0 561.9H468.9M478.5 561.9H480.3M499.9 561.9H501.8M512.8 561.9H514.7M520.0 561.9H521.8M527.1 561.9H529.0M534.3 561.9H536.1" stroke="#0000c0" stroke-width="14.05"/>
<path d="M65.0 561.9H66.8M79.3 561.9H81.1M93.6 561.9H95.4M251.0 561.9H252.8M322.5 561.9H324.4M338.3 561.9H340.1M341.1 561.9H343.0M376.9 561.9H378.7M462.7 561.9H464.6M497.1 561.9H498.9M537.1 561.9H539.0" stroke="#0000e1" stroke-width="14.05"/>
<path d="M73.6 561.9H75.4M76.4 561.9H78.3M90.7 561.9H92.6M97.9 561.9H99.7M102.2 561.9H104.0M105.0 561.9H106.9M113.6 561.9H115.5M123.6 561.9H125.5M130.8 561.9H132.6M135.1 561.9H136.9M137.9 561.9H139.8M152.3 561.9H154.1M160.8 561.9H162.7M170.9 561.9H174.1M189.5 561.9H191.3M193.7 561.9H195.6M218.1 561.9H219.9M220.9 561.9H225.6M228.1 561.9H229.9M239.5 561.9H241.4M261.0 561.9H262.8M279.6 561.9H281.4M303.9 561.9H308.6M312.5 561.9H315.8M332.5 561.9H335.8M346.8 561.9H348.7M381.2 561.9H383.0M386.9 561.9H388.7M406.9 561.9H410.2M424.1 561.9H425.9M442.7 561.9H446.0M471.3 561.9H474.6M491.4 561.9H494.6M508.5 561.9H510.4M517.1 561.9H518.9M522.8 561.9H524.7M525.7 561.9H527.5M531.4 561.9H534.7" stroke="#0000d0" stroke-width="14.05"/>
<path d="M82.1 561.9H84.0M100.7 561.9H102.6M115.1 561.9H119.7M125.1 561.9H126.9M129.4 561.9H131.2M140.8 561.9H142.6M143.7 561.9H145.5M163.7 561.9H165.5M178.0 561.9H179.8M182.3 561.9H184.1M185.2 561.9H187.0M198.0 561.9H199.9M203.8 561.9H205.6M206.6 561.9H208.5M209.5 561.9H211.3M233.8 561.9H235.6M248.1 561.9H250.0M252.4 561.9H254.2M262.4 561.9H264.3M282.5 561.9H284.3M286.8 561.9H288.6M293.9 561.9H295.7M315.4 561.9H317.2M325.4 561.9H327.2M351.1 561.9H353.0M391.2 561.9H393.0M405.5 561.9H407.3M435.6 561.9H437.4M457.0 561.9H460.3M465.6 561.9H467.4M479.9 561.9H481.7M482.8 561.9H484.6M485.6 561.9H487.5M488.5 561.9H490.3M498.5 561.9H500.3M514.3 561.9H516.1M528.6 561.9H531.8" stroke="#000080" stroke-width="14.05"/>
<path d="M87.9 561.9H89.7M99.3 561.9H101.1M119.3 561.9H121.2M150.8 561.9H152.7M153.7 561.9H155.5M159.4 561.9H161.2M166.6 561.9H168.4M175.1 561.9H178.4M188.0 561.9H189.9M210.9 561.9H212.8M225.2 561.9H227.1M232.4 561.9H234.2M235.2 561.9H238.5M242.4 561.9H244.2M245.3 561.9H247.1M256.7 561.9H258.5M272.4 561.9H274.3M275.3 561.9H278.6M298.2 561.9H301.5M316.8 561.9H318.6M319.7 561.9H322.9M326.8 561.9H328.6M329.7 561.9H331.5M339.7 561.9H341.5M342.6 561.9H344.4M348.3 561.9H350.1M378.3 561.9H381.6M385.5 561.9H387.3M389.8 561.9H391.6M394.1 561.9H397.3M401.2 561.9H404.5M417.0 561.9H420.2M428.4 561.9H430.2M439.9 561.9H441.7M474.2 561.9H477.5M501.4 561.9H504.6M505.7 561.9H507.5M510.0 561.9H513.2M515.7 561.9H517.5M524.3 561.9H526.1" stroke="#0000a0" stroke-width="14.05"/>
<path d="M57.8 548.5H61.1M381.2 548.5H383.0M437.0 548.5H438.8M458.5 548.5H460.3" stroke="#c8ff37" stroke-width="14.05"/>
<path d="M60.7 548.5H62.5M86.4 548.5H88.3M455.6 548.5H457.4" stroke="#98ff67" stroke-width="14.05"/>
<path d="M62.1 548.5H65.4M66.4 548.5H68.2M70.7 548.5H72.5M82.1 548.5H84.0M438.4 548.5H440.3M457.0 548.5H458.9M461.3 548.5H463.1M464.2 548.5H466.0" stroke="#88ff77" stroke-width="14.05"/>
<path d="M65.0 548.5H66.8M69.3 548.5H71.1M83.6 548.5H86.8M384.1 548.5H385.9M448.4 548.5H450.3M454.2 548.5H456.0M459.9 548.5H461.7M462.7 548.5H464.6M467.0 548.5H468.9" stroke="#b8ff47" stroke-width="14.05"/>
<path d="M67.8 548.5H69.7M87.9 548.5H89.7M379.8 548.5H381.6M391.2 548.5H393.0" stroke="#d9ff26" stroke-width="14.05"/>
<path d="M73.6 548.5H75.4M282.5 548.5H284.3M292.5 548.5H294.3M299.6 548.5H301.5M305.4 548.5H307.2M329.7 548.5H332.9M349.7 548.5H351.5M429.8 548.5H431.7" stroke="#ffd500" stroke-width="14.05"/>
<path d="M76.4 548.5H78.3M285.3 548.5H287.2M293.9 548.5H297.2M298.2 548.5H300.0M308.2 548.5H311.5M315.4 548.5H317.2M318.2 548.5H320.1M334.0 548.5H335.8M336.8 548.5H338.7M425.5 548.5H427.4M428.4 548.5H430.2M432.7 548.5H434.5M435.6 548.5H437.4" stroke="#ffc400" stroke-width="14.05"/>
<path d="M77.9 548.5H79.7M338.3 548.5H340.1M376.9 548.5H378.7" stroke="#ffe500" stroke-width="14.05"/>
<path d="M79.3 548.5H81.1M286.8 548.5H288.6M296.8 548.5H298.6M302.5 548.5H304.3M322.5 548.5H324.4M325.4 548.5H327.2M346.8 548.5H350.1M351.1 548.5H353.0" stroke="#ffb400" stroke-width="14.05"/>
<path d="M80.7 548.5H82.5M439.9 548.5H441.7M445.6 548.5H448.8M465.6 548.5H467.4" stroke="#a8ff57" stroke-width="14.05"/>
<path d="M89.3 548.5H91.1M398.4 548.5H400.2M415.5 548.5H417.4M421.3 548.5H423.1M511.4 548.5H513.2M514.3 548.5H517.5M520.0 548.5H521.8M524.3 548.5H526.1M531.4 548.5H533.3" stroke="#ff4300" stroke-width="14.05"/>
<path d="M90.7 548.5H92.6M195.2 548.5H197.0M203.8 548.5H205.6M206.6 548.5H208.5M212.3 548.5H215.6M276.7 548.5H280.0M401.2 548.5H403.1M404.1 548.5H405.9M406.9 548.5H408.8M414.1 548.5H415.9M418.4 548.5H420.2" stroke="#ff2200" stroke-width="14.05"/>
<path d="M92.2 548.5H94.0M102.2 548.5H104.0M106.5 548.5H108.3M115.1 548.5H116.9M122.2 548.5H124.0M140.8 548.5H142.6M146.5 548.5H148.4M152.3 548.5H154.1M166.6 548.5H168.4M183.7 548.5H185.6M202.3 548.5H204.2M208.1 548.5H209.9M210.9 548.5H212.8M222.4 548.5H224.2M245.3 548.5H247.1M251.0 548.5H252.8M255.3 548.5H258.5M263.9 548.5H267.1M281.0 548.5H282.9M417.0 548.5H418.8M481.3 548.5H483.2M487.1 548.5H488.9" stroke="#e10000" stroke-width="14.05"/>
<path d="M93.6 548.5H95.4M103.6 548.5H105.4M113.6 548.5H115.5M119.3 548.5H121.2M126.5 548.5H128.3M158.0 548.5H159.8M168.0 548.5H169.8M172.3 548.5H174.1M192.3 548.5H195.6M196.6 548.5H199.9M216.6 548.5H218.5M220.9 548.5H222.8M228.1 548.5H229.9M233.8 548.5H235.6M236.7 548.5H238.5M239.5 548.5H241.4M246.7 548.5H248.5M271.0 548.5H272.8M489.9 548.5H493.2M499.9 548.5H501.8" stroke="#d00000" stroke-width="14.05"/>
<path d="M95.0 548.5H96.9M188.0 548.5H189.9M205.2 548.5H207.0M261.0 548.5H264.3M272.4 548.5H277.1M279.6 548.5H281.4M396.9 548.5H398.8M402.7 548.5H404.5M412.7 548.5H414.5M510.0 548.5H511.8M522.8 548.5H524.7M525.7 548.5H527.5M528.6 548.5H530.4" stroke="#ff1200" stroke-width="14.05"/>
<path d="M96.5 548.5H98.3M269.6 548.5H271.4M395.5 548.5H397.3M408.4 548.5H410.2M419.8 548.5H421.7M424.1 548.5H425.9M518.5 548.5H520.4M527.1 548.5H529.0M535.7 548.5H537.5" stroke="#ff3300" stroke-width="14.05"/>
<path d="M97.9 548.5H101.1M107.9 548.5H109.7M190.9 548.5H192.7M200.9 548.5H202.7M232.4 548.5H234.2M259.6 548.5H261.4M266.7 548.5H270.0M409.8 548.5H411.6M422.7 548.5H424.5" stroke="#ff0200" stroke-width="14.05"/>
<path d="M100.7 548.5H102.6M182.3 548.5H184.1M185.2 548.5H188.4M189.5 548.5H191.3M199.5 548.5H201.3M219.5 548.5H221.3M235.2 548.5H237.1M238.1 548.5H239.9M241.0 548.5H242.8M258.1 548.5H260.0M411.2 548.5H413.1" stroke="#f10000" stroke-width="14.05"/>
<path d="M105.0 548.5H106.9M110.8 548.5H114.0M120.8 548.5H122.6M129.4 548.5H132.6M135.1 548.5H136.9M145.1 548.5H146.9M162.3 548.5H164.1M170.9 548.5H172.7M178.0 548.5H182.7M209.5 548.5H211.3M215.2 548.5H217.0M225.2 548.5H228.5M231.0 548.5H232.8M242.4 548.5H245.7M249.6 548.5H251.4M252.4 548.5H254.2M469.9 548.5H471.7M494.2 548.5H496.1M498.5 548.5H500.3M501.4 548.5H503.2M508.5 548.5H510.4" stroke="#c00000" stroke-width="14.05"/>
<path d="M109.3 548.5H111.2M117.9 548.5H119.7M125.1 548.5H126.9M133.7 548.5H135.5M136.5 548.5H138.3M142.2 548.5H144.1M149.4 548.5H152.7M163.7 548.5H165.5M173.7 548.5H175.5M218.1 548.5H219.9M223.8 548.5H225.6M248.1 548.5H250.0M472.8 548.5H474.6M475.6 548.5H477.5M504.2 548.5H506.1M507.1 548.5H508.9" stroke="#b00000" stroke-width="14.05"/>
<path d="M116.5 548.5H118.3M123.6 548.5H125.5M156.5 548.5H158.4M471.3 548.5H473.2M477.1 548.5H480.3M488.5 548.5H490.3M497.1 548.5H498.9" stroke="#900000" stroke-width="14.05"/>
<path d="M127.9 548.5H129.8M143.7 548.5H145.5M148.0 548.5H149.8M153.7 548.5H156.9M159.4 548.5H161.2M169.4 548.5H171.3M176.6 548.5H178.4M229.5 548.5H231.4M253.8 548.5H255.7M479.9 548.5H481.7M482.8 548.5H487.5M495.7 548.5H497.5M505.7 548.5H507.5" stroke="#a00000" stroke-width="14.05"/>
<path d="M132.2 548.5H134.1M137.9 548.5H141.2M160.8 548.5H162.7M165.1 548.5H167.0M175.1 548.5H177.0M474.2 548.5H476.0M492.8 548.5H494.6M502.8 548.5H504.6" stroke="#800000" stroke-width="14.05"/>
<path d="M283.9 548.5H285.7M306.8 548.5H308.6M311.1 548.5H312.9M316.8 548.5H318.6M326.8 548.5H328.6M335.4 548.5H337.2M341.1 548.5H343.0M344.0 548.5H345.8M427.0 548.5H428.8" stroke="#ff9400" stroke-width="14.05"/>
<path d="M288.2 548.5H290.0M312.5 548.5H314.3M319.7 548.5H322.9M324.0 548.5H325.8M328.2 548.5H330.1M342.6 548.5H344.4M537.1 548.5H539.0" stroke="#ff8400" stroke-width="14.05"/>
<path d="M289.6 548.5H292.9M301.1 548.5H302.9M303.9 548.5H305.8M313.9 548.5H315.8M332.5 548.5H334.4M339.7 548.5H341.5M345.4 548.5H347.2M431.3 548.5H433.1M434.1 548.5H436.0" stroke="#ffa400" stroke-width="14.05"/>
<path d="M352.6 548.5H355.8" stroke="#00f5ff" stroke-width="14.05"/>
<path d="M355.4 548.5H357.3M362.6 548.5H364.4" stroke="#37ffc8" stroke-width="14.05"/>
<path d="M356.9 548.5H358.7" stroke="#26ffd9" stroke-width="14.05"/>
<path d="M358.3 548.5H360.1" stroke="#16ffe9" stroke-width="14.05"/>
<path d="M359.7 548.5H361.6M364.0 548.5H365.8" stroke="#06fff9" stroke-width="14.05"/>
<path d="M361.2 548.5H363.0M371.2 548.5H373.0M374.0 548.5H377.3" stroke="#47ffb8" stroke-width="14.05"/>
<path d="M365.4 548.5H367.3M372.6 548.5H374.4" stroke="#57ffa8" stroke-width="14.05"/>
<path d="M366.9 548.5H368.7M369.7 548.5H371.6M441.3 548.5H446.0M451.3 548.5H454.6" stroke="#77ff88" stroke-width="14.05"/>
<path d="M368.3 548.5H370.1M449.9 548.5H451.7" stroke="#67ff98" stroke-width="14.05"/>
<path d="M378.3 548.5H380.2M386.9 548.5H388.7M468.5 548.5H470.3" stroke="#e9ff16" stroke-width="14.05"/>
<path d="M382.6 548.5H384.4M385.5 548.5H387.3M392.6 548.5H394.5" stroke="#fff500" stroke-width="14.05"/>
<path d="M388.3 548.5H391.6M394.1 548.5H395.9" stroke="#f9ff06" stroke-width="14.05"/>
<path d="M399.8 548.5H401.6M405.5 548.5H407.3M521.4 548.5H523.2M530.0 548.5H531.8M534.3 548.5H536.1" stroke="#ff5300" stroke-width="14.05"/>
<path d="M512.8 548.5H514.7M517.1 548.5H518.9" stroke="#ff6300" stroke-width="14.05"/>
<path d="M532.9 548.5H534.7" stroke="#ff7300" stroke-width="14.05"/>
<path d="M57.8 535.2H59.7M76.4 535.2H78.3M86.4 535.2H88.3M354.0 535.2H355.8M356.9 535.2H358.7" stroke="#37ffc8" stroke-width="14.05"/>
<path d="M59.3 535.2H61.1M62.1 535.2H63.9M83.6 535.2H86.8M362.6 535.2H364.4M434.1 535.2H436.0" stroke="#47ffb8" stroke-width="14.05"/>
<path d="M60.7 535.2H62.5M322.5 535.2H324.4M371.2 535.2H373.0M448.4 535.2H453.1M455.6 535.2H457.4" stroke="#00f5ff" stroke-width="14.05"/>
<path d="M63.5 535.2H65.4M358.3 535.2H360.1M428.4 535.2H430.2" stroke="#67ff98" stroke-width="14.05"/>
<path d="M65.0 535.2H66.8M67.8 535.2H69.7M321.1 535.2H322.9M324.0 535.2H325.8M326.8 535.2H328.6M368.3 535.2H370.1M438.4 535.2H440.3M441.3 535.2H444.5M458.5 535.2H460.3M461.3 535.2H463.1" stroke="#06fff9" stroke-width="14.05"/>
<path d="M66.4 535.2H68.2M70.7 535.2H72.5M73.6 535.2H75.4M77.9 535.2H79.7M82.1 535.2H84.0M352.6 535.2H354.4M355.4 535.2H357.3M359.7 535.2H361.6M427.0 535.2H428.8" stroke="#57ffa8" stroke-width="14.05"/>
<path d="M69.3 535.2H71.1M87.9 535.2H89.7M325.4 535.2H327.2M457.0 535.2H458.9M459.9 535.2H461.7M465.6 535.2H468.9" stroke="#16ffe9" stroke-width="14.05"/>
<path d="M79.3 535.2H81.1M361.2 535.2H363.0M369.7 535.2H371.6M439.9 535.2H441.7M452.7 535.2H454.6M468.5 535.2H470.3" stroke="#26ffd9" stroke-width="14.05"/>
<path d="M80.7 535.2H82.5M364.0 535.2H365.8M432.7 535.2H434.5" stroke="#77ff88" stroke-width="14.05"/>
<path d="M89.3 535.2H91.1M96.5 535.2H99.7M100.7 535.2H102.6M105.0 535.2H109.7M123.6 535.2H125.5M140.8 535.2H142.6M148.0 535.2H149.8M153.7 535.2H155.5M158.0 535.2H161.2M180.9 535.2H182.7M188.0 535.2H189.9M199.5 535.2H201.3M210.9 535.2H212.8M219.5 535.2H221.3M233.8 535.2H235.6M242.4 535.2H244.2M249.6 535.2H251.4M255.3 535.2H257.1M258.1 535.2H260.0M269.6 535.2H271.4M272.4 535.2H275.7M276.7 535.2H278.6M396.9 535.2H398.8M406.9 535.2H408.8M415.5 535.2H417.4M471.3 535.2H473.2M475.6 535.2H477.5M484.2 535.2H486.0M491.4 535.2H493.2M494.2 535.2H496.1M508.5 535.2H510.4M512.8 535.2H514.7" stroke="#0033ff" stroke-width="14.05"/>
<path d="M90.7 535.2H92.6M116.5 535.2H118.3M120.8 535.2H124.0M126.5 535.2H128.3M133.7 535.2H136.9M142.2 535.2H144.1M150.8 535.2H152.7M155.1 535.2H158.4M165.1 535.2H167.0M172.3 535.2H174.1M190.9 535.2H192.7M198.0 535.2H199.9M203.8 535.2H205.6M209.5 535.2H211.3M225.2 535.2H227.1M229.5 535.2H231.4M248.1 535.2H250.0M252.4 535.2H254.2M262.4 535.2H264.3M275.3 535.2H277.1M398.4 535.2H400.2M405.5 535.2H407.3M421.3 535.2H424.5M481.3 535.2H483.2M489.9 535.2H491.8M495.7 535.2H497.5M501.4 535.2H503.2M507.1 535.2H508.9M510.0 535.2H511.8M521.4 535.2H523.2M531.4 535.2H533.3" stroke="#0022ff" stroke-width="14.05"/>
<path d="M92.2 535.2H94.0M112.2 535.2H114.0M166.6 535.2H168.4M186.6 535.2H188.4M192.3 535.2H194.1M195.2 535.2H197.0M202.3 535.2H204.2M212.3 535.2H214.2M218.1 535.2H219.9M220.9 535.2H224.2M228.1 535.2H229.9M231.0 535.2H232.8M239.5 535.2H241.4M261.0 535.2H262.8M386.9 535.2H388.7M401.2 535.2H404.5M412.7 535.2H415.9M417.0 535.2H418.8M472.8 535.2H474.6M522.8 535.2H524.7M535.7 535.2H537.5" stroke="#0043ff" stroke-width="14.05"/>
<path d="M93.6 535.2H95.4M110.8 535.2H112.6M130.8 535.2H132.6M152.3 535.2H154.1M175.1 535.2H177.0M200.9 535.2H202.7M206.6 535.2H208.5M213.8 535.2H215.6M232.4 535.2H234.2M245.3 535.2H248.5M251.0 535.2H252.8M256.7 535.2H258.5M271.0 535.2H272.8M399.8 535.2H401.6M478.5 535.2H480.3M488.5 535.2H490.3M492.8 535.2H494.6M499.9 535.2H501.8M505.7 535.2H507.5M514.3 535.2H516.1M524.3 535.2H526.1" stroke="#0012ff" stroke-width="14.05"/>
<path d="M95.0 535.2H96.9M102.2 535.2H104.0M119.3 535.2H121.2M149.4 535.2H151.2M169.4 535.2H172.7M173.7 535.2H175.5M176.6 535.2H181.3M182.3 535.2H184.1M185.2 535.2H187.0M189.5 535.2H191.3M196.6 535.2H198.4M208.1 535.2H209.9M215.2 535.2H218.5M226.7 535.2H228.5M238.1 535.2H239.9M268.2 535.2H270.0M278.2 535.2H281.4M409.8 535.2H411.6M419.8 535.2H421.7M424.1 535.2H425.9M515.7 535.2H517.5M532.9 535.2H534.7" stroke="#0000f1" stroke-width="14.05"/>
<path d="M99.3 535.2H101.1M115.1 535.2H116.9M117.9 535.2H119.7M127.9 535.2H131.2M137.9 535.2H139.8M143.7 535.2H148.4M162.3 535.2H164.1M168.0 535.2H169.8M183.7 535.2H185.6M205.2 535.2H207.0M241.0 535.2H242.8M243.8 535.2H245.7M253.8 535.2H255.7M259.6 535.2H261.4M263.9 535.2H268.6M281.0 535.2H282.9M395.5 535.2H397.3M404.1 535.2H405.9M408.4 535.2H410.2M411.2 535.2H413.1M418.4 535.2H420.2M477.1 535.2H478.9M485.6 535.2H487.5M498.5 535.2H500.3M517.1 535.2H518.9M520.0 535.2H521.8M525.7 535.2H527.5M528.6 535.2H530.4M534.3 535.2H536.1" stroke="#0002ff" stroke-width="14.05"/>
<path d="M103.6 535.2H105.4M109.3 535.2H111.2M113.6 535.2H115.5M125.1 535.2H126.9M132.2 535.2H134.1M136.5 535.2H138.3M139.4 535.2H141.2M160.8 535.2H162.7M163.7 535.2H165.5M193.7 535.2H195.6M223.8 535.2H225.6M235.2 535.2H238.5M469.9 535.2H471.7M474.2 535.2H476.0M479.9 535.2H481.7M482.8 535.2H484.6M487.1 535.2H488.9M497.1 535.2H498.9M502.8 535.2H506.1M511.4 535.2H513.2M518.5 535.2H520.4M527.1 535.2H529.0M530.0 535.2H531.8M537.1 535.2H539.0" stroke="#0000e1" stroke-width="14.05"/>
<path d="M282.5 535.2H284.3M305.4 535.2H307.2M319.7 535.2H321.5M335.4 535.2H337.2M339.7 535.2H341.5M348.3 535.2H350.1" stroke="#00c4ff" stroke-width="14.05"/>
<path d="M283.9 535.2H285.7M289.6 535.2H291.4M296.8 535.2H298.6M303.9 535.2H305.8M312.5 535.2H314.3M318.2 535.2H320.1M328.2 535.2H330.1M331.1 535.2H332.9M346.8 535.2H348.7" stroke="#00b4ff" stroke-width="14.05"/>
<path d="M285.3 535.2H287.2M308.2 535.2H310.0M365.4 535.2H368.7M372.6 535.2H374.4M375.5 535.2H377.3M437.0 535.2H438.8M444.1 535.2H448.8M454.2 535.2H456.0M462.7 535.2H466.0" stroke="#00e5ff" stroke-width="14.05"/>
<path d="M286.8 535.2H288.6M295.3 535.2H297.2M311.1 535.2H312.9M338.3 535.2H340.1M341.1 535.2H343.0M374.0 535.2H375.9" stroke="#00d4ff" stroke-width="14.05"/>
<path d="M288.2 535.2H290.0M293.9 535.2H295.7M299.6 535.2H301.5M316.8 535.2H318.6M332.5 535.2H334.4M342.6 535.2H344.4M345.4 535.2H347.2M349.7 535.2H351.5M376.9 535.2H378.7M385.5 535.2H387.3" stroke="#0084ff" stroke-width="14.05"/>
<path d="M291.0 535.2H294.3M298.2 535.2H300.0M302.5 535.2H304.3M313.9 535.2H315.8M336.8 535.2H338.7M378.3 535.2H380.2M384.1 535.2H385.9M394.1 535.2H395.9" stroke="#00a4ff" stroke-width="14.05"/>
<path d="M301.1 535.2H302.9M306.8 535.2H308.6M309.6 535.2H311.5M315.4 535.2H317.2M329.7 535.2H331.5M334.0 535.2H335.8M351.1 535.2H353.0" stroke="#0094ff" stroke-width="14.05"/>
<path d="M344.0 535.2H345.8M379.8 535.2H381.6M388.3 535.2H390.2M392.6 535.2H394.5" stroke="#0073ff" stroke-width="14.05"/>
<path d="M381.2 535.2H384.4M389.8 535.2H393.0" stroke="#0053ff" stroke-width="14.05"/>
<path d="M425.5 535.2H427.4M429.8 535.2H431.7" stroke="#98ff67" stroke-width="14.05"/>
<path d="M431.3 535.2H433.1M435.6 535.2H437.4" stroke="#88ff77" stroke-width="14.05"/>
<path d="M57.8 521.8H59.7M60.7 521.8H62.5M66.4 521.8H68.2M69.3 521.8H71.1M79.3 521.8H82.5M388.3 521.8H390.2M404.1 521.8H405.9M514.3 521.8H516.1" stroke="#0012ff" stroke-width="14.05"/>
<path d="M59.3 521.8H61.1M85.0 521.8H86.8" stroke="#0022ff" stroke-width="14.05"/>
<path d="M62.1 521.8H63.9M65.0 521.8H66.8M70.7 521.8H72.5M77.9 521.8H79.7M262.4 521.8H264.3M298.2 521.8H301.5M303.9 521.8H305.8M331.1 521.8H332.9M449.9 521.8H451.7M458.5 521.8H461.7M505.7 521.8H507.5M522.8 521.8H524.7" stroke="#0002ff" stroke-width="14.05"/>
<path d="M63.5 521.8H65.4M76.4 521.8H78.3M83.6 521.8H85.4" stroke="#0033ff" stroke-width="14.05"/>
<path d="M67.8 521.8H69.7M73.6 521.8H75.4M86.4 521.8H88.3" stroke="#0043ff" stroke-width="14.05"/>
<path d="M82.1 521.8H84.0" stroke="#0053ff" stroke-width="14.05"/>
<path d="M116.5 521.8H118.3M198.0 521.8H199.9M208.1 521.8H209.9M222.4 521.8H224.2M255.3 521.8H257.1M266.7 521.8H268.6M275.3 521.8H277.1M279.6 521.8H281.4M291.0 521.8H292.9M315.4 521.8H318.6M332.5 521.8H334.4M342.6 521.8H345.8M534.3 521.8H536.1" stroke="#0000a0" stroke-width="14.05"/>
<path d="M256.7 521.8H258.5M265.3 521.8H267.1M276.7 521.8H278.6M289.6 521.8H291.4M308.2 521.8H310.0M318.2 521.8H320.1M334.0 521.8H335.8M348.3 521.8H350.1M351.1 521.8H353.0M378.3 521.8H380.2M385.5 521.8H387.3M395.5 521.8H397.3M401.2 521.8H404.5M427.0 521.8H428.8M455.6 521.8H457.4" stroke="#0000c0" stroke-width="14.05"/>
<path d="M259.6 521.8H261.4M285.3 521.8H287.2M292.5 521.8H294.3M341.1 521.8H343.0M381.2 521.8H384.4M392.6 521.8H394.5M398.4 521.8H401.6M432.7 521.8H434.5M437.0 521.8H438.8M451.3 521.8H453.1M457.0 521.8H458.9M467.0 521.8H468.9M504.2 521.8H506.1M510.0 521.8H511.8" stroke="#0000f1" stroke-width="14.05"/>
<path d="M263.9 521.8H265.7M282.5 521.8H284.3M296.8 521.8H298.6M313.9 521.8H315.8M335.4 521.8H337.2M386.9 521.8H388.7M389.8 521.8H391.6M394.1 521.8H395.9M434.1 521.8H436.0M438.4 521.8H440.3M442.7 521.8H444.5M465.6 521.8H467.4M511.4 521.8H513.2M515.7 521.8H517.5M520.0 521.8H521.8M525.7 521.8H527.5" stroke="#0000b0" stroke-width="14.05"/>
<path d="M269.6 521.8H271.4M272.4 521.8H274.3M281.0 521.8H282.9M293.9 521.8H295.7M301.1 521.8H302.9M312.5 521.8H314.3M435.6 521.8H437.4M452.7 521.8H454.6M468.5 521.8H470.3M508.5 521.8H510.4M512.8 521.8H514.7M517.1 521.8H520.4M537.1 521.8H539.0" stroke="#0000d0" stroke-width="14.05"/>
<path d="M271.0 521.8H272.8M273.9 521.8H275.7M278.2 521.8H280.0M286.8 521.8H288.6M295.3 521.8H297.2M302.5 521.8H304.3M305.4 521.8H307.2M309.6 521.8H311.5M339.7 521.8H341.5M346.8 521.8H348.7M379.8 521.8H381.6M391.2 521.8H393.0M429.8 521.8H431.7M439.9 521.8H443.1M444.1 521.8H446.0M454.2 521.8H456.0M464.2 521.8H466.0M521.4 521.8H523.2M535.7 521.8H537.5" stroke="#0000e1" stroke-width="14.05"/>
<path d="M283.9 521.8H285.7M329.7 521.8H331.5M428.4 521.8H430.2" stroke="#000090" stroke-width="14.05"/>
<path d="M352.6 521.8H354.4" stroke="#0084ff" stroke-width="14.05"/>
<path d="M354.0 521.8H355.8" stroke="#00a4ff" stroke-width="14.05"/>
<path d="M355.4 521.8H357.3M362.6 521.8H364.4" stroke="#00b4ff" stroke-width="14.05"/>
<path d="M356.9 521.8H360.1M361.2 521.8H363.0M364.0 521.8H365.8" stroke="#00c4ff" stroke-width="14.05"/>
<path d="M359.7 521.8H361.6" stroke="#00e5ff" stroke-width="14.05"/>
<path d="M365.4 521.8H367.3M369.7 521.8H371.6M374.0 521.8H375.9" stroke="#67ff98" stroke-width="14.05"/>
<path d="M366.9 521.8H370.1" stroke="#88ff77" stroke-width="14.05"/>
<path d="M371.2 521.8H374.4M375.5 521.8H377.3" stroke="#98ff67" stroke-width="14.05"/>
<path d="M60.7 667.3H62.5M66.4 667.3H68.2M119.3 667.3H121.2M188.0 667.3H189.9M198.0 667.3H199.9M213.8 667.3H215.6M236.7 667.3H238.5M293.9 667.3H295.7M303.9 667.3H307.2M331.1 667.3H332.9M336.8 667.3H338.7M342.6 667.3H344.4M365.4 667.3H367.3M465.6 667.3H467.4M511.4 667.3H513.2" stroke="#0000b0" stroke-width="21.30"/>
<path d="M95.0 667.3H108.3" stroke="#000090" stroke-width="21.30"/>
<path d="M534.3 667.3H537.5" stroke="#0000d0" stroke-width="21.30"/>
<path d="M537.1 667.3H539.0" stroke="#0033ff" stroke-width="21.30"/>
<path d="M57.8 646.7H59.7M122.2 646.7H124.0M130.8 646.7H132.6M152.3 646.7H154.1M172.3 646.7H174.1M183.7 646.7H185.6M186.6 646.7H191.3M192.3 646.7H194.1M212.3 646.7H214.2M215.2 646.7H217.0M226.7 646.7H229.9M231.0 646.7H232.8M238.1 646.7H239.9M253.8 646.7H255.7M263.9 646.7H267.1M273.9 646.7H275.7M288.2 646.7H290.0M324.0 646.7H325.8M335.4 646.7H337.2M342.6 646.7H344.4M361.2 646.7H363.0M389.8 646.7H391.6M394.1 646.7H395.9M412.7 646.7H415.9M425.5 646.7H427.4M441.3 646.7H443.1M537.1 646.7H539.0" stroke="#0022ff" stroke-width="21.30"/>
<path d="M59.3 646.7H61.1M77.9 646.7H79.7M80.7 646.7H82.5M87.9 646.7H89.7M156.5 646.7H159.8M173.7 646.7H175.5M185.2 646.7H187.0M292.5 646.7H294.3M484.2 646.7H487.5M492.8 646.7H494.6M499.9 646.7H501.8M502.8 646.7H504.6M505.7 646.7H507.5M515.7 646.7H517.5M522.8 646.7H524.7M525.7 646.7H527.5M531.4 646.7H533.3" stroke="#0073ff" stroke-width="21.30"/>
<path d="M60.7 646.7H62.5M69.3 646.7H71.1M83.6 646.7H85.4M86.4 646.7H88.3M116.5 646.7H118.3M126.5 646.7H129.8M133.7 646.7H135.5M195.2 646.7H197.0M198.0 646.7H201.3M223.8 646.7H225.6M243.8 646.7H247.1M251.0 646.7H252.8M261.0 646.7H262.8M269.6 646.7H271.4M282.5 646.7H284.3M328.2 646.7H330.1M345.4 646.7H347.2M349.7 646.7H351.5M508.5 646.7H510.4M511.4 646.7H513.2M535.7 646.7H537.5" stroke="#0043ff" stroke-width="21.30"/>
<path d="M62.1 646.7H63.9M76.4 646.7H78.3M469.9 646.7H471.7M472.8 646.7H474.6M478.5 646.7H480.3M487.1 646.7H488.9M489.9 646.7H491.8M504.2 646.7H506.1M507.1 646.7H508.9M510.0 646.7H511.8M527.1 646.7H529.0" stroke="#0084ff" stroke-width="21.30"/>
<path d="M63.5 646.7H65.4M70.7 646.7H72.5M85.0 646.7H86.8M119.3 646.7H121.2M165.1 646.7H167.0M168.0 646.7H169.8M178.0 646.7H179.8M182.3 646.7H184.1M202.3 646.7H204.2M205.2 646.7H208.5M209.5 646.7H211.3M233.8 646.7H238.5M239.5 646.7H241.4M249.6 646.7H251.4M255.3 646.7H257.1M271.0 646.7H272.8M275.3 646.7H280.0M530.0 646.7H531.8" stroke="#0063ff" stroke-width="21.30"/>
<path d="M65.0 646.7H66.8M73.6 646.7H75.4M296.8 646.7H300.0M477.1 646.7H478.9M482.8 646.7H484.6M514.3 646.7H516.1M521.4 646.7H523.2M532.9 646.7H534.7" stroke="#00a4ff" stroke-width="21.30"/>
<path d="M66.4 646.7H68.2M75.0 646.7H76.8M82.1 646.7H84.0M295.3 646.7H297.2M479.9 646.7H483.2M494.2 646.7H496.1M512.8 646.7H514.7" stroke="#0094ff" stroke-width="21.30"/>
<path d="M67.8 646.7H69.7M72.1 646.7H74.0M79.3 646.7H81.1M89.3 646.7H91.1M105.0 646.7H106.9M142.2 646.7H144.1M190.9 646.7H192.7M196.6 646.7H198.4M200.9 646.7H202.7M203.8 646.7H205.6M210.9 646.7H212.8M222.4 646.7H224.2M258.1 646.7H261.4M283.9 646.7H285.7M289.6 646.7H291.4M498.5 646.7H500.3M518.5 646.7H521.8M524.3 646.7H526.1M528.6 646.7H530.4" stroke="#0053ff" stroke-width="21.30"/>
<path d="M90.7 646.7H92.6M93.6 646.7H96.9M109.3 646.7H111.2M135.1 646.7H136.9M140.8 646.7H142.6M232.4 646.7H234.2M241.0 646.7H242.8M279.6 646.7H281.4M305.4 646.7H307.2M308.2 646.7H310.0M312.5 646.7H314.3M318.2 646.7H320.1M325.4 646.7H328.6M338.3 646.7H340.1M362.6 646.7H364.4M379.8 646.7H381.6M424.1 646.7H425.9M437.0 646.7H438.8M448.4 646.7H450.3M462.7 646.7H464.6M467.0 646.7H470.3" stroke="#0000f1" stroke-width="21.30"/>
<path d="M92.2 646.7H94.0M97.9 646.7H99.7M106.5 646.7H108.3M123.6 646.7H125.5M137.9 646.7H139.8M145.1 646.7H146.9M153.7 646.7H156.9M159.4 646.7H162.7M169.4 646.7H171.3M216.6 646.7H218.5M229.5 646.7H231.4M248.1 646.7H250.0M262.4 646.7H264.3M268.2 646.7H270.0M281.0 646.7H282.9M303.9 646.7H305.8M306.8 646.7H308.6M315.4 646.7H317.2M329.7 646.7H331.5M354.0 646.7H355.8M381.2 646.7H383.0M386.9 646.7H388.7M408.4 646.7H410.2M417.0 646.7H418.8M419.8 646.7H423.1" stroke="#0012ff" stroke-width="21.30"/>
<path d="M96.5 646.7H98.3M102.2 646.7H105.4M113.6 646.7H116.9M125.1 646.7H126.9M136.5 646.7H138.3M139.4 646.7H141.2M143.7 646.7H145.5M146.5 646.7H152.7M163.7 646.7H165.5M166.6 646.7H168.4M176.6 646.7H178.4M179.4 646.7H182.7M220.9 646.7H222.8M242.4 646.7H244.2M252.4 646.7H254.2M256.7 646.7H258.5M272.4 646.7H274.3M301.1 646.7H304.3M309.6 646.7H311.5M313.9 646.7H315.8M316.8 646.7H318.6M322.5 646.7H324.4M334.0 646.7H335.8M341.1 646.7H343.0M355.4 646.7H357.3M358.3 646.7H361.6M364.0 646.7H365.8M406.9 646.7H408.8M411.2 646.7H413.1M415.5 646.7H417.4M434.1 646.7H436.0M438.4 646.7H440.3M442.7 646.7H444.5M464.2 646.7H467.4M534.3 646.7H536.1" stroke="#0033ff" stroke-width="21.30"/>
<path d="M99.3 646.7H101.1M110.8 646.7H114.0M117.9 646.7H119.7M120.8 646.7H122.6M129.4 646.7H131.2M132.2 646.7H134.1M162.3 646.7H164.1M170.9 646.7H172.7M175.1 646.7H177.0M193.7 646.7H195.6M208.1 646.7H209.9M213.8 646.7H215.6M218.1 646.7H221.3M225.2 646.7H227.1M246.7 646.7H248.5M266.7 646.7H268.6M285.3 646.7H288.6M311.1 646.7H312.9M319.7 646.7H321.5M339.7 646.7H341.5M352.6 646.7H354.4M356.9 646.7H358.7M384.1 646.7H387.3M404.1 646.7H407.3M409.8 646.7H411.6M427.0 646.7H430.2M435.6 646.7H437.4M444.1 646.7H446.0M447.0 646.7H448.8M457.0 646.7H461.7" stroke="#0002ff" stroke-width="21.30"/>
<path d="M100.7 646.7H102.6M107.9 646.7H109.7M299.6 646.7H301.5M321.1 646.7H322.9M331.1 646.7H332.9M344.0 646.7H345.8M346.8 646.7H350.1M351.1 646.7H353.0M378.3 646.7H380.2M382.6 646.7H384.4M388.3 646.7H390.2M396.9 646.7H398.8M401.2 646.7H403.1M431.3 646.7H433.1M439.9 646.7H441.7M461.3 646.7H463.1" stroke="#0000e1" stroke-width="21.30"/>
<path d="M291.0 646.7H292.9M471.3 646.7H473.2M488.5 646.7H490.3" stroke="#00c4ff" stroke-width="21.30"/>
<path d="M293.9 646.7H295.7M474.2 646.7H477.5M491.4 646.7H493.2M495.7 646.7H497.5M501.4 646.7H503.2M517.1 646.7H518.9" stroke="#00b4ff" stroke-width="21.30"/>
<path d="M332.5 646.7H334.4M392.6 646.7H394.5M395.5 646.7H397.3M399.8 646.7H401.6M402.7 646.7H404.5M422.7 646.7H424.5M429.8 646.7H431.7M455.6 646.7H457.4" stroke="#0000d0" stroke-width="21.30"/>
<path d="M336.8 646.7H338.7M391.2 646.7H393.0M398.4 646.7H400.2M418.4 646.7H420.2M432.7 646.7H434.5M445.6 646.7H447.4" stroke="#0000c0" stroke-width="21.30"/>
<path d="M497.1 646.7H498.9" stroke="#00d4ff" stroke-width="21.30"/>
<path d="M57.8 626.1H61.1M65.0 626.1H66.8M83.6 626.1H85.4M87.9 626.1H89.7M293.9 626.1H297.2M301.1 626.1H302.9M312.5 626.1H314.3M339.7 626.1H341.5M345.4 626.1H347.2M349.7 626.1H351.5M381.2 626.1H383.0M386.9 626.1H388.7M468.5 626.1H470.3" stroke="#00a4ff" stroke-width="21.30"/>
<path d="M60.7 626.1H62.5M76.4 626.1H78.3M80.7 626.1H82.5M209.5 626.1H211.3M216.6 626.1H218.5M231.0 626.1H232.8M238.1 626.1H239.9M296.8 626.1H298.6M431.3 626.1H433.1M434.1 626.1H437.4M459.9 626.1H461.7" stroke="#00f5ff" stroke-width="21.30"/>
<path d="M62.1 626.1H63.9M75.0 626.1H76.8M85.0 626.1H86.8M220.9 626.1H222.8M223.8 626.1H225.6M228.1 626.1H229.9M235.2 626.1H237.1M289.6 626.1H291.4M406.9 626.1H408.8M421.3 626.1H423.1M424.1 626.1H425.9M441.3 626.1H443.1M458.5 626.1H460.3M465.6 626.1H468.9" stroke="#00e5ff" stroke-width="21.30"/>
<path d="M63.5 626.1H65.4M66.4 626.1H69.7M79.3 626.1H81.1M222.4 626.1H224.2M232.4 626.1H234.2M305.4 626.1H307.2M309.6 626.1H311.5M322.5 626.1H325.8M326.8 626.1H328.6M329.7 626.1H331.5M332.5 626.1H334.4M385.5 626.1H387.3M404.1 626.1H405.9M438.4 626.1H440.3M442.7 626.1H444.5M457.0 626.1H458.9M535.7 626.1H539.0" stroke="#00c4ff" stroke-width="21.30"/>
<path d="M69.3 626.1H71.1M72.1 626.1H74.0M77.9 626.1H79.7M302.5 626.1H304.3M311.1 626.1H312.9M316.8 626.1H318.6M379.8 626.1H381.6M382.6 626.1H384.4M388.3 626.1H391.6M409.8 626.1H411.6M425.5 626.1H427.4M462.7 626.1H464.6" stroke="#00b4ff" stroke-width="21.30"/>
<path d="M70.7 626.1H72.5M86.4 626.1H88.3M236.7 626.1H238.5M292.5 626.1H294.3M298.2 626.1H300.0M405.5 626.1H407.3M417.0 626.1H420.2M444.1 626.1H446.0" stroke="#06fff9" stroke-width="21.30"/>
<path d="M73.6 626.1H75.4M291.0 626.1H292.9M306.8 626.1H308.6M315.4 626.1H317.2M325.4 626.1H327.2M328.2 626.1H330.1M331.1 626.1H332.9M334.0 626.1H337.2M338.3 626.1H340.1M378.3 626.1H380.2M464.2 626.1H466.0" stroke="#0094ff" stroke-width="21.30"/>
<path d="M82.1 626.1H84.0M219.5 626.1H221.3M259.6 626.1H261.4M268.2 626.1H270.0M278.2 626.1H280.0M283.9 626.1H288.6M428.4 626.1H430.2M432.7 626.1H434.5M439.9 626.1H441.7M471.3 626.1H473.2M479.9 626.1H481.7M518.5 626.1H520.4M531.4 626.1H534.7" stroke="#16ffe9" stroke-width="21.30"/>
<path d="M89.3 626.1H91.1M102.2 626.1H104.0M122.2 626.1H124.0M155.1 626.1H158.4M166.6 626.1H169.8M173.7 626.1H177.0M178.0 626.1H179.8M249.6 626.1H251.4M252.4 626.1H254.2M401.2 626.1H403.1M472.8 626.1H474.6M481.3 626.1H483.2M495.7 626.1H497.5" stroke="#98ff67" stroke-width="21.30"/>
<path d="M90.7 626.1H92.6M159.4 626.1H161.2M162.3 626.1H164.1M165.1 626.1H167.0M172.3 626.1H174.1M185.2 626.1H188.4M195.2 626.1H198.4M248.1 626.1H250.0M288.2 626.1H290.0M474.2 626.1H476.0M499.9 626.1H501.8M507.1 626.1H508.9M517.1 626.1H518.9M528.6 626.1H530.4" stroke="#77ff88" stroke-width="21.30"/>
<path d="M92.2 626.1H94.0M96.5 626.1H99.7M125.1 626.1H126.9M132.2 626.1H134.1M135.1 626.1H136.9M137.9 626.1H141.2M142.2 626.1H144.1M148.0 626.1H149.8M158.0 626.1H159.8M176.6 626.1H178.4M182.3 626.1H184.1M192.3 626.1H194.1M199.5 626.1H201.3M395.5 626.1H397.3" stroke="#a8ff57" stroke-width="21.30"/>
<path d="M93.6 626.1H95.4M160.8 626.1H162.7M169.4 626.1H171.3M193.7 626.1H195.6M253.8 626.1H257.1M258.1 626.1H260.0M271.0 626.1H274.3M281.0 626.1H282.9M478.5 626.1H480.3M487.1 626.1H488.9M504.2 626.1H506.1" stroke="#47ffb8" stroke-width="21.30"/>
<path d="M95.0 626.1H96.9M100.7 626.1H102.6M107.9 626.1H109.7M163.7 626.1H165.5M180.9 626.1H182.7M183.7 626.1H185.6M188.0 626.1H189.9M190.9 626.1H192.7M246.7 626.1H248.5M251.0 626.1H252.8M256.7 626.1H258.5M269.6 626.1H271.4M276.7 626.1H278.6M485.6 626.1H487.5M488.5 626.1H491.8M494.2 626.1H496.1M497.1 626.1H498.9M520.0 626.1H521.8" stroke="#57ffa8" stroke-width="21.30"/>
<path d="M99.3 626.1H101.1M140.8 626.1H142.6M170.9 626.1H172.7M179.4 626.1H181.3M200.9 626.1H204.2M205.2 626.1H207.0M208.1 626.1H209.9M261.0 626.1H264.3M398.4 626.1H401.6M482.8 626.1H484.6M491.4 626.1H493.2M530.0 626.1H531.8" stroke="#88ff77" stroke-width="21.30"/>
<path d="M103.6 626.1H108.3M198.0 626.1H199.9M203.8 626.1H205.6M241.0 626.1H242.8M245.3 626.1H247.1M265.3 626.1H268.6M273.9 626.1H275.7M279.6 626.1H281.4M282.5 626.1H284.3M469.9 626.1H471.7M498.5 626.1H500.3M510.0 626.1H513.2M514.3 626.1H516.1M525.7 626.1H527.5" stroke="#67ff98" stroke-width="21.30"/>
<path d="M109.3 626.1H111.2M119.3 626.1H121.2M145.1 626.1H146.9M152.3 626.1H154.1M445.6 626.1H447.4M448.4 626.1H450.3" stroke="#d9ff26" stroke-width="21.30"/>
<path d="M110.8 626.1H112.6M115.1 626.1H116.9M117.9 626.1H119.7M126.5 626.1H128.3M129.4 626.1H132.6" stroke="#e9ff16" stroke-width="21.30"/>
<path d="M112.2 626.1H114.0M116.5 626.1H118.3M136.5 626.1H138.3M396.9 626.1H398.8M402.7 626.1H404.5" stroke="#c8ff37" stroke-width="21.30"/>
<path d="M113.6 626.1H115.5M120.8 626.1H122.6M127.9 626.1H129.8M149.4 626.1H152.7M447.0 626.1H448.8" stroke="#f9ff06" stroke-width="21.30"/>
<path d="M123.6 626.1H125.5M133.7 626.1H135.5M143.7 626.1H145.5M146.5 626.1H148.4M153.7 626.1H155.5M189.5 626.1H191.3M206.6 626.1H208.5" stroke="#b8ff47" stroke-width="21.30"/>
<path d="M210.9 626.1H212.8M213.8 626.1H217.0M225.2 626.1H227.1M229.5 626.1H231.4M233.8 626.1H235.6M263.9 626.1H265.7M275.3 626.1H277.1M408.4 626.1H410.2M411.2 626.1H414.5M415.5 626.1H417.4M419.8 626.1H421.7M437.0 626.1H438.8M484.2 626.1H486.0M492.8 626.1H494.6M501.4 626.1H503.2M512.8 626.1H514.7M515.7 626.1H517.5M521.4 626.1H524.7M527.1 626.1H529.0" stroke="#26ffd9" stroke-width="21.30"/>
<path d="M212.3 626.1H214.2M218.1 626.1H219.9M226.7 626.1H228.5M346.8 626.1H350.1M414.1 626.1H415.9M422.7 626.1H424.5M427.0 626.1H428.8M429.8 626.1H431.7M455.6 626.1H457.4M461.3 626.1H463.1M534.3 626.1H536.1" stroke="#00d4ff" stroke-width="21.30"/>
<path d="M239.5 626.1H241.4M242.4 626.1H245.7M475.6 626.1H478.9M502.8 626.1H504.6M505.7 626.1H507.5M508.5 626.1H510.4M524.3 626.1H526.1" stroke="#37ffc8" stroke-width="21.30"/>
<path d="M299.6 626.1H301.5M319.7 626.1H321.5M342.6 626.1H344.4" stroke="#0084ff" stroke-width="21.30"/>
<path d="M303.9 626.1H305.8M308.2 626.1H310.0M313.9 626.1H315.8M351.1 626.1H353.0M391.2 626.1H393.0" stroke="#0063ff" stroke-width="21.30"/>
<path d="M318.2 626.1H320.1M321.1 626.1H322.9M336.8 626.1H338.7M341.1 626.1H343.0M344.0 626.1H345.8M392.6 626.1H394.5" stroke="#0073ff" stroke-width="21.30"/>
<path d="M352.6 626.1H354.4M361.2 626.1H363.0M374.0 626.1H375.9M394.1 626.1H395.9M454.2 626.1H456.0" stroke="#0043ff" stroke-width="21.30"/>
<path d="M354.0 626.1H355.8M359.7 626.1H361.6M364.0 626.1H365.8M451.3 626.1H453.1" stroke="#0033ff" stroke-width="21.30"/>
<path d="M355.4 626.1H357.3" stroke="#0022ff" stroke-width="21.30"/>
<path d="M356.9 626.1H358.7M365.4 626.1H367.3M368.3 626.1H371.6M452.7 626.1H454.6" stroke="#0000f1" stroke-width="21.30"/>
<path d="M358.3 626.1H360.1M384.1 626.1H385.9" stroke="#0053ff" stroke-width="21.30"/>
<path d="M362.6 626.1H364.4" stroke="#0002ff" stroke-width="21.30"/>
<path d="M366.9 626.1H368.7M371.2 626.1H374.4M449.9 626.1H451.7" stroke="#0012ff" stroke-width="21.30"/>
<path d="M57.8 605.5H59.7M63.5 605.5H65.4M79.3 605.5H81.1M87.9 605.5H89.7M344.0 605.5H345.8M346.8 605.5H348.7M394.1 605.5H395.9" stroke="#c8ff37" stroke-width="21.30"/>
<path d="M59.3 605.5H63.9M66.4 605.5H68.2M75.0 605.5H78.3M345.4 605.5H347.2M418.4 605.5H420.2M424.1 605.5H425.9M427.0 605.5H428.8M434.1 605.5H436.0M442.7 605.5H444.5" stroke="#a8ff57" stroke-width="21.30"/>
<path d="M65.0 605.5H66.8M77.9 605.5H79.7M85.0 605.5H86.8M349.7 605.5H351.5M385.5 605.5H387.3M388.3 605.5H390.2M444.1 605.5H446.0" stroke="#98ff67" stroke-width="21.30"/>
<path d="M67.8 605.5H69.7M80.7 605.5H82.5M303.9 605.5H305.8M306.8 605.5H308.6M309.6 605.5H311.5M315.4 605.5H317.2M326.8 605.5H328.6M332.5 605.5H334.4M462.7 605.5H464.6" stroke="#fff500" stroke-width="21.30"/>
<path d="M69.3 605.5H71.1M83.6 605.5H85.4M86.4 605.5H88.3M339.7 605.5H341.5M379.8 605.5H381.6" stroke="#d9ff26" stroke-width="21.30"/>
<path d="M70.7 605.5H74.0M82.1 605.5H84.0M311.1 605.5H314.3M316.8 605.5H318.6M375.5 605.5H377.3" stroke="#f9ff06" stroke-width="21.30"/>
<path d="M73.6 605.5H75.4M299.6 605.5H301.5M324.0 605.5H325.8M341.1 605.5H343.0M351.1 605.5H353.0M376.9 605.5H378.7M381.2 605.5H384.4M458.5 605.5H460.3M468.5 605.5H470.3" stroke="#e9ff16" stroke-width="21.30"/>
<path d="M89.3 605.5H91.1M93.6 605.5H95.4M156.5 605.5H158.4M160.8 605.5H162.7M168.0 605.5H169.8M172.3 605.5H174.1M183.7 605.5H187.0M192.3 605.5H194.1M195.2 605.5H197.0M499.9 605.5H501.8M515.7 605.5H517.5M528.6 605.5H530.4" stroke="#00f5ff" stroke-width="21.30"/>
<path d="M90.7 605.5H92.6M103.6 605.5H105.4M155.1 605.5H156.9M158.0 605.5H159.8M182.3 605.5H184.1M189.5 605.5H191.3M196.6 605.5H198.4M199.5 605.5H201.3M208.1 605.5H209.9M241.0 605.5H242.8M243.8 605.5H245.7M402.7 605.5H404.5" stroke="#00d4ff" stroke-width="21.30"/>
<path d="M92.2 605.5H94.0M96.5 605.5H98.3M242.4 605.5H244.2M248.1 605.5H250.0" stroke="#00b4ff" stroke-width="21.30"/>
<path d="M95.0 605.5H96.9M279.6 605.5H281.4M283.9 605.5H287.2M472.8 605.5H474.6M488.5 605.5H490.3" stroke="#00a4ff" stroke-width="21.30"/>
<path d="M97.9 605.5H99.7M246.7 605.5H248.5M249.6 605.5H252.8M276.7 605.5H278.6M282.5 605.5H284.3M399.8 605.5H401.6M481.3 605.5H483.2M485.6 605.5H487.5" stroke="#0094ff" stroke-width="21.30"/>
<path d="M99.3 605.5H101.1M163.7 605.5H165.5M253.8 605.5H255.7" stroke="#00c4ff" stroke-width="21.30"/>
<path d="M100.7 605.5H102.6M106.5 605.5H108.3M136.5 605.5H138.3M142.2 605.5H144.1M239.5 605.5H241.4M245.3 605.5H247.1M275.3 605.5H277.1M278.2 605.5H280.0M281.0 605.5H282.9M288.2 605.5H290.0M401.2 605.5H403.1M475.6 605.5H477.5M492.8 605.5H494.6M498.5 605.5H500.3" stroke="#0084ff" stroke-width="21.30"/>
<path d="M102.2 605.5H104.0M107.9 605.5H109.7M188.0 605.5H189.9M206.6 605.5H208.5M396.9 605.5H400.2" stroke="#00e5ff" stroke-width="21.30"/>
<path d="M105.0 605.5H106.9M125.1 605.5H126.9M133.7 605.5H135.5M143.7 605.5H146.9M153.7 605.5H155.5M286.8 605.5H288.6M395.5 605.5H397.3M471.3 605.5H473.2M478.5 605.5H480.3M489.9 605.5H491.8" stroke="#0073ff" stroke-width="21.30"/>
<path d="M109.3 605.5H111.2M116.5 605.5H118.3M120.8 605.5H122.6M146.5 605.5H148.4M494.2 605.5H497.5" stroke="#0022ff" stroke-width="21.30"/>
<path d="M110.8 605.5H112.6M127.9 605.5H129.8M132.2 605.5H134.1M150.8 605.5H152.7M482.8 605.5H484.6M491.4 605.5H493.2M497.1 605.5H498.9M537.1 605.5H539.0" stroke="#0033ff" stroke-width="21.30"/>
<path d="M112.2 605.5H114.0M117.9 605.5H119.7M123.6 605.5H125.5M135.1 605.5H136.9M149.4 605.5H151.2M252.4 605.5H254.2M487.1 605.5H488.9" stroke="#0063ff" stroke-width="21.30"/>
<path d="M113.6 605.5H116.9M122.2 605.5H124.0M129.4 605.5H132.6M139.4 605.5H142.6M148.0 605.5H149.8M477.1 605.5H478.9M484.2 605.5H486.0" stroke="#0043ff" stroke-width="21.30"/>
<path d="M119.3 605.5H121.2M152.3 605.5H154.1M447.0 605.5H448.8M469.9 605.5H471.7M474.2 605.5H476.0M479.9 605.5H481.7" stroke="#0053ff" stroke-width="21.30"/>
<path d="M126.5 605.5H128.3M137.9 605.5H139.8M445.6 605.5H447.4M535.7 605.5H537.5" stroke="#0012ff" stroke-width="21.30"/>
<path d="M159.4 605.5H161.2M212.3 605.5H214.2M258.1 605.5H260.0M263.9 605.5H265.7M266.7 605.5H268.6M296.8 605.5H298.6M405.5 605.5H407.3M441.3 605.5H443.1M508.5 605.5H510.4M514.3 605.5H516.1M517.1 605.5H518.9M532.9 605.5H534.7" stroke="#47ffb8" stroke-width="21.30"/>
<path d="M162.3 605.5H164.1M165.1 605.5H167.0M175.1 605.5H177.0M203.8 605.5H207.0M291.0 605.5H292.9M501.4 605.5H503.2M511.4 605.5H514.7M531.4 605.5H533.3" stroke="#06fff9" stroke-width="21.30"/>
<path d="M166.6 605.5H168.4M169.4 605.5H172.7M173.7 605.5H175.5M178.0 605.5H179.8M198.0 605.5H199.9M200.9 605.5H202.7M213.8 605.5H215.6M271.0 605.5H272.8M292.5 605.5H294.3M295.3 605.5H297.2M298.2 605.5H300.0M527.1 605.5H529.0M530.0 605.5H531.8" stroke="#37ffc8" stroke-width="21.30"/>
<path d="M176.6 605.5H178.4M179.4 605.5H181.3M190.9 605.5H192.7M193.7 605.5H195.6M210.9 605.5H212.8M223.8 605.5H225.6M231.0 605.5H234.2M235.2 605.5H237.1M259.6 605.5H261.4M262.4 605.5H264.3M293.9 605.5H295.7M518.5 605.5H520.4M521.4 605.5H523.2M524.3 605.5H526.1" stroke="#26ffd9" stroke-width="21.30"/>
<path d="M180.9 605.5H182.7M186.6 605.5H188.4M202.3 605.5H204.2M226.7 605.5H231.4M255.3 605.5H257.1M269.6 605.5H271.4M505.7 605.5H507.5M520.0 605.5H521.8M522.8 605.5H524.7" stroke="#16ffe9" stroke-width="21.30"/>
<path d="M209.5 605.5H211.3M256.7 605.5H258.5M289.6 605.5H291.4M404.1 605.5H405.9M428.4 605.5H430.2M502.8 605.5H506.1M525.7 605.5H527.5" stroke="#57ffa8" stroke-width="21.30"/>
<path d="M215.2 605.5H217.0M218.1 605.5H219.9M220.9 605.5H224.2M225.2 605.5H227.1M261.0 605.5H262.8M265.3 605.5H267.1M268.2 605.5H270.0M272.4 605.5H274.3M378.3 605.5H380.2M391.2 605.5H393.0M409.8 605.5H411.6M415.5 605.5H417.4M425.5 605.5H427.4" stroke="#77ff88" stroke-width="21.30"/>
<path d="M216.6 605.5H218.5M219.5 605.5H221.3M233.8 605.5H235.6M238.1 605.5H239.9M273.9 605.5H275.7M406.9 605.5H410.2M411.2 605.5H414.5M431.3 605.5H433.1M507.1 605.5H508.9M510.0 605.5H511.8" stroke="#67ff98" stroke-width="21.30"/>
<path d="M236.7 605.5H238.5M342.6 605.5H344.4M417.0 605.5H418.8M421.3 605.5H423.1M429.8 605.5H431.7M432.7 605.5H434.5M437.0 605.5H440.3" stroke="#88ff77" stroke-width="21.30"/>
<path d="M301.1 605.5H302.9M322.5 605.5H324.4M328.2 605.5H332.9M336.8 605.5H338.7M467.0 605.5H468.9" stroke="#ffd500" stroke-width="21.30"/>
<path d="M302.5 605.5H304.3M308.2 605.5H310.0M455.6 605.5H458.9" stroke="#ffe500" stroke-width="21.30"/>
<path d="M305.4 605.5H307.2M318.2 605.5H321.5M325.4 605.5H327.2M335.4 605.5H337.2M338.3 605.5H340.1M464.2 605.5H466.0" stroke="#ffc400" stroke-width="21.30"/>
<path d="M313.9 605.5H315.8M321.1 605.5H322.9M459.9 605.5H461.7M465.6 605.5H467.4" stroke="#ffb400" stroke-width="21.30"/>
<path d="M334.0 605.5H335.8M461.3 605.5H463.1" stroke="#ffa400" stroke-width="21.30"/>
<path d="M348.3 605.5H350.1M384.1 605.5H385.9M386.9 605.5H388.7M389.8 605.5H391.6M392.6 605.5H394.5M414.1 605.5H415.9M419.8 605.5H421.7M422.7 605.5H424.5M435.6 605.5H437.4M439.9 605.5H441.7" stroke="#b8ff47" stroke-width="21.30"/>
<path d="M352.6 605.5H354.4M359.7 605.5H361.6M362.6 605.5H367.3M369.7 605.5H371.6" stroke="#ff3300" stroke-width="21.30"/>
<path d="M354.0 605.5H355.8M449.9 605.5H451.7M452.7 605.5H454.6" stroke="#ff4300" stroke-width="21.30"/>
<path d="M355.4 605.5H357.3M366.9 605.5H370.1M371.2 605.5H373.0M451.3 605.5H453.1" stroke="#ff8400" stroke-width="21.30"/>
<path d="M356.9 605.5H358.7M361.2 605.5H363.0" stroke="#ff5300" stroke-width="21.30"/>
<path d="M358.3 605.5H360.1M374.0 605.5H375.9" stroke="#ff6300" stroke-width="21.30"/>
<path d="M372.6 605.5H374.4M454.2 605.5H456.0" stroke="#ff1200" stroke-width="21.30"/>
<path d="M448.4 605.5H450.3M534.3 605.5H536.1" stroke="#0000f1" stroke-width="21.30"/>
</g>
<path d="M58.5 411.2h0.01M60.1 412.9h0.01M60.9 408.1h0.01M61.6 410.0h0.01M62.4 412.1h0.01M64.0 407.5h0.01M64.8 415.4h0.01M65.6 416.9h0.01M66.4 412.4h0.01M67.9 413.2h0.01M70.3 414.4h0.01M71.1 410.6h0.01M71.9 421.1h0.01M72.7 421.6h0.01M74.2 415.8h0.01M75.0 422.1h0.01M75.8 423.3h0.01M76.6 415.2h0.01M77.4 418.0h0.01M78.2 417.3h0.01M79.0 420.3h0.01M79.7 421.9h0.01M80.5 421.7h0.01M81.3 419.5h0.01M82.1 426.8h0.01M82.9 420.9h0.01M83.7 425.6h0.01M86.8 426.8h0.01M89.2 420.9h0.01M91.6 415.0h0.01M92.3 415.5h0.01M93.1 411.3h0.01M93.9 418.5h0.01M94.7 415.5h0.01M95.5 414.9h0.01M96.3 422.6h0.01M97.8 420.0h0.01M98.6 412.5h0.01M99.4 416.4h0.01M100.2 416.7h0.01M101.0 418.1h0.01M101.8 416.9h0.01M102.6 414.9h0.01M103.4 418.0h0.01M104.1 420.3h0.01M104.9 415.9h0.01M105.7 407.5h0.01M108.1 416.1h0.01M108.9 420.3h0.01M109.7 414.4h0.01M110.4 418.3h0.01M112.0 420.6h0.01M112.8 413.5h0.01M113.6 414.3h0.01M115.9 419.6h0.01M116.7 421.1h0.01M119.1 413.7h0.01M120.7 414.6h0.01M121.5 411.7h0.01M122.2 416.0h0.01M123.0 414.8h0.01M123.8 416.2h0.01M126.2 418.4h0.01M127.0 411.4h0.01M127.8 416.1h0.01M129.3 413.9h0.01M130.1 419.1h0.01M130.9 421.8h0.01M132.5 418.8h0.01M133.3 419.8h0.01M134.0 417.2h0.01M134.8 413.7h0.01M136.4 414.4h0.01M137.2 417.4h0.01M138.0 414.6h0.01M138.8 412.5h0.01M139.6 416.8h0.01M140.3 417.9h0.01M143.5 415.6h0.01M144.3 414.5h0.01M145.1 422.9h0.01M145.9 404.4h0.01M147.4 416.4h0.01M148.2 414.7h0.01M149.0 417.3h0.01M149.8 414.5h0.01M150.6 417.6h0.01M152.1 413.6h0.01M153.7 423.3h0.01M155.3 410.9h0.01M158.4 419.4h0.01M159.2 411.3h0.01M160.0 419.0h0.01M160.8 413.8h0.01M162.4 415.9h0.01M163.2 421.1h0.01M164.0 413.4h0.01M164.7 409.3h0.01M167.1 417.7h0.01M167.9 420.6h0.01M168.7 417.6h0.01M169.5 413.9h0.01M171.8 412.5h0.01M173.4 418.4h0.01M174.2 416.8h0.01M175.0 423.7h0.01M176.5 415.5h0.01M177.3 415.2h0.01M178.1 414.6h0.01M178.9 417.5h0.01M179.7 408.1h0.01M181.3 412.5h0.01M182.8 413.5h0.01M183.6 413.2h0.01M186.8 419.3h0.01M189.1 408.1h0.01M190.7 412.6h0.01M191.5 417.1h0.01M192.3 412.5h0.01M193.1 412.8h0.01M196.2 413.1h0.01M197.0 418.5h0.01M200.2 410.8h0.01M200.9 415.6h0.01M201.7 418.7h0.01M202.5 415.7h0.01M203.3 419.6h0.01M204.1 418.2h0.01M205.7 416.9h0.01M208.8 413.4h0.01M210.4 415.8h0.01M211.2 416.3h0.01M212.0 408.5h0.01M213.5 413.2h0.01M214.3 419.3h0.01M215.9 415.7h0.01M216.7 421.4h0.01M217.5 414.1h0.01M218.3 413.5h0.01M219.0 415.3h0.01M219.8 412.4h0.01M220.6 415.8h0.01M221.4 414.0h0.01M223.0 418.8h0.01M223.8 413.3h0.01M224.5 416.9h0.01M228.5 415.0h0.01M229.3 417.4h0.01M230.1 416.2h0.01M231.6 419.1h0.01M233.2 416.0h0.01M234.0 410.8h0.01M235.6 413.5h0.01M236.4 415.9h0.01M237.1 414.5h0.01M238.7 417.0h0.01M239.5 416.1h0.01M241.9 419.6h0.01M242.6 418.3h0.01M243.4 414.2h0.01M244.2 417.6h0.01M245.8 413.4h0.01M246.6 415.4h0.01M247.4 415.3h0.01M248.9 419.7h0.01M249.7 417.4h0.01M250.5 408.6h0.01M251.3 419.9h0.01M252.1 410.1h0.01M252.9 417.8h0.01M253.7 415.9h0.01M254.5 414.2h0.01M255.2 412.6h0.01M256.0 410.0h0.01M256.8 418.9h0.01M257.6 416.2h0.01M258.4 415.4h0.01M259.2 418.8h0.01M260.0 414.6h0.01M260.7 414.9h0.01M261.5 417.3h0.01M262.3 410.0h0.01M263.1 413.8h0.01M263.9 409.5h0.01M265.5 411.4h0.01M266.3 417.6h0.01M267.0 418.5h0.01M267.8 418.8h0.01M268.6 417.0h0.01M271.8 420.0h0.01M273.3 415.4h0.01M274.1 414.3h0.01M274.9 423.1h0.01M276.5 419.1h0.01M278.1 415.1h0.01M279.6 411.9h0.01M280.4 413.8h0.01M281.2 414.0h0.01M282.0 401.4h0.01M282.8 405.2h0.01M283.6 413.8h0.01M285.1 414.7h0.01M285.9 414.0h0.01M286.7 406.8h0.01M287.5 420.7h0.01M289.1 406.1h0.01M289.9 406.7h0.01M290.7 404.8h0.01M291.4 414.9h0.01M292.2 414.1h0.01M293.0 415.0h0.01M293.8 420.7h0.01M294.6 404.8h0.01M295.4 412.1h0.01M296.2 413.3h0.01M296.9 401.4h0.01M297.7 414.4h0.01M299.3 409.4h0.01M300.9 417.2h0.01M301.7 416.4h0.01M304.0 418.3h0.01M304.8 406.3h0.01M305.6 418.7h0.01M306.4 413.3h0.01M307.2 416.3h0.01M308.0 412.8h0.01M308.8 410.4h0.01M310.3 418.1h0.01M311.1 419.2h0.01M311.9 412.8h0.01M316.6 413.3h0.01M318.2 406.3h0.01M319.8 417.0h0.01M321.3 410.5h0.01M322.1 405.9h0.01M322.9 413.4h0.01M324.5 414.1h0.01M325.3 408.5h0.01M326.1 412.8h0.01M326.9 413.1h0.01M327.6 409.5h0.01M328.4 411.7h0.01M329.2 412.0h0.01M330.0 411.6h0.01M330.8 419.9h0.01M331.6 410.1h0.01M333.1 410.1h0.01M333.9 408.7h0.01M334.7 413.9h0.01M335.5 413.4h0.01M336.3 414.5h0.01M337.1 409.2h0.01M337.9 412.1h0.01M338.7 412.3h0.01M339.4 410.8h0.01M340.2 406.9h0.01M341.0 406.2h0.01M341.8 415.5h0.01M343.4 414.9h0.01M344.2 409.1h0.01M345.0 415.6h0.01M345.7 410.9h0.01M346.5 407.5h0.01M347.3 407.7h0.01M348.9 409.2h0.01M349.7 404.8h0.01M350.5 405.1h0.01M351.2 402.8h0.01M352.0 402.2h0.01M352.8 407.5h0.01M353.6 403.2h0.01M354.4 408.3h0.01M355.2 407.3h0.01M356.8 402.2h0.01M358.3 403.3h0.01M359.9 405.7h0.01M362.3 404.7h0.01M363.1 401.9h0.01M365.4 404.1h0.01M366.2 406.8h0.01M367.0 405.0h0.01M367.8 403.7h0.01M368.6 407.9h0.01M370.1 410.7h0.01M370.9 411.1h0.01M371.7 414.9h0.01M372.5 412.2h0.01M373.3 419.9h0.01M374.1 415.7h0.01M374.9 414.5h0.01M375.6 413.8h0.01M377.2 415.1h0.01M378.8 417.4h0.01M379.6 408.5h0.01M380.4 411.6h0.01M383.5 413.4h0.01M384.3 414.3h0.01M385.9 409.3h0.01M386.7 407.9h0.01M387.4 411.2h0.01M389.0 415.4h0.01M389.8 408.9h0.01M390.6 412.4h0.01M391.4 408.7h0.01M392.2 413.7h0.01M393.0 410.6h0.01M394.5 409.5h0.01M395.3 411.6h0.01M396.9 411.3h0.01M398.5 412.1h0.01M400.0 410.7h0.01M400.8 412.4h0.01M401.6 412.9h0.01M402.4 408.6h0.01M403.2 412.2h0.01M404.0 405.7h0.01M404.8 408.8h0.01M405.5 410.7h0.01M406.3 408.8h0.01M407.1 411.2h0.01M409.5 408.5h0.01M410.3 413.5h0.01M411.1 409.4h0.01M411.8 410.3h0.01M412.6 411.8h0.01M414.2 410.7h0.01M415.0 413.7h0.01M415.8 411.9h0.01M417.4 405.3h0.01M418.1 410.6h0.01M418.9 408.6h0.01M419.7 407.8h0.01M420.5 412.1h0.01M421.3 414.8h0.01M422.9 410.1h0.01M425.2 413.4h0.01M426.0 411.3h0.01M426.8 410.3h0.01M427.6 413.8h0.01M428.4 408.5h0.01M429.2 409.2h0.01M429.9 412.2h0.01M430.7 414.1h0.01M431.5 412.2h0.01M432.3 415.2h0.01M433.1 417.8h0.01M433.9 419.9h0.01M435.5 421.4h0.01M436.2 423.3h0.01M437.0 422.3h0.01M438.6 424.8h0.01M440.2 421.6h0.01M442.5 420.2h0.01M443.3 422.3h0.01M444.1 418.3h0.01M444.9 418.1h0.01M446.5 422.0h0.01M447.3 416.4h0.01M448.0 417.0h0.01M448.8 415.6h0.01M449.6 413.8h0.01M450.4 414.4h0.01M452.0 415.1h0.01M452.8 416.7h0.01M453.6 413.8h0.01M454.3 414.6h0.01M455.1 410.1h0.01M455.9 413.1h0.01M456.7 412.3h0.01M457.5 408.2h0.01M458.3 412.6h0.01M459.1 408.7h0.01M459.8 407.7h0.01M460.6 407.1h0.01M461.4 411.5h0.01M463.8 404.5h0.01M464.6 405.7h0.01M465.4 407.6h0.01M466.1 402.8h0.01M466.9 406.2h0.01M468.5 423.2h0.01M469.3 409.9h0.01M470.1 412.8h0.01M470.9 410.2h0.01M472.4 424.8h0.01M473.2 415.8h0.01M474.0 411.9h0.01M474.8 416.2h0.01M477.9 409.8h0.01M478.7 416.7h0.01M479.5 421.9h0.01M480.3 416.7h0.01M481.1 407.1h0.01M481.9 418.2h0.01M483.5 410.6h0.01M485.8 417.5h0.01M486.6 412.9h0.01M488.2 418.4h0.01M489.0 413.4h0.01M489.8 419.0h0.01M491.3 407.7h0.01M492.1 411.7h0.01M492.9 415.2h0.01M494.5 413.4h0.01M495.3 418.9h0.01M496.0 418.2h0.01M497.6 416.3h0.01M498.4 416.7h0.01M499.2 417.2h0.01M500.0 417.0h0.01M500.8 412.8h0.01M501.6 413.4h0.01M503.1 415.3h0.01M503.9 413.0h0.01M504.7 412.4h0.01M507.1 416.1h0.01M507.9 415.6h0.01M508.6 421.0h0.01M509.4 408.9h0.01M511.0 410.3h0.01M512.6 419.5h0.01M514.1 419.2h0.01M514.9 410.3h0.01M518.1 414.8h0.01M518.9 410.1h0.01M520.4 416.7h0.01M521.2 416.0h0.01M522.8 427.9h0.01M523.6 416.1h0.01M525.2 412.5h0.01M526.0 419.7h0.01M526.7 417.8h0.01M527.5 416.5h0.01M528.3 407.8h0.01M529.1 415.9h0.01M529.9 415.4h0.01M530.7 414.0h0.01M532.2 414.3h0.01M533.0 420.7h0.01M533.8 420.5h0.01M534.6 419.8h0.01M535.4 427.5h0.01M536.2 415.6h0.01M537.0 414.8h0.01M537.8 423.8h0.01" stroke="#e01010" stroke-width="2.5" stroke-linecap="round"/>
<path d="M60.1 381.1h0.01M60.9 381.9h0.01M64.8 384.8h0.01M66.4 396.0h0.01M67.9 392.4h0.01M68.7 395.4h0.01M69.5 398.3h0.01M70.3 396.8h0.01M71.1 397.1h0.01M72.7 403.6h0.01M73.5 398.6h0.01M74.2 398.5h0.01M75.0 395.8h0.01M75.8 394.0h0.01M76.6 394.9h0.01M78.2 399.3h0.01M79.0 401.4h0.01M80.5 400.3h0.01M82.1 397.4h0.01M83.7 387.5h0.01M84.5 391.8h0.01M85.3 393.6h0.01M86.0 385.1h0.01M86.8 383.5h0.01M87.6 385.1h0.01M88.4 388.8h0.01M89.2 378.6h0.01M90.0 374.2h0.01M90.8 370.1h0.01M92.3 367.5h0.01M93.1 367.4h0.01M94.7 367.8h0.01M95.5 363.4h0.01M96.3 363.1h0.01M97.1 365.6h0.01M98.6 366.7h0.01M99.4 366.0h0.01M101.0 365.1h0.01M101.8 367.2h0.01M102.6 368.0h0.01M103.4 366.4h0.01M104.1 365.5h0.01M105.7 372.7h0.01M106.5 369.9h0.01M108.1 364.8h0.01M108.9 365.1h0.01M109.7 368.2h0.01M112.0 365.8h0.01M112.8 367.5h0.01M113.6 364.8h0.01M114.4 363.3h0.01M115.9 366.4h0.01M118.3 368.0h0.01M119.1 366.6h0.01M119.9 367.6h0.01M120.7 367.3h0.01M122.2 369.2h0.01M123.8 368.6h0.01M125.4 368.7h0.01M126.2 372.2h0.01M127.0 371.0h0.01M127.8 369.3h0.01M128.5 369.8h0.01M129.3 365.3h0.01M130.9 364.6h0.01M131.7 362.8h0.01M132.5 363.5h0.01M133.3 365.2h0.01M134.0 369.7h0.01M134.8 369.8h0.01M136.4 360.4h0.01M138.0 360.5h0.01M138.8 367.7h0.01M139.6 361.3h0.01M140.3 371.8h0.01M141.9 373.8h0.01M143.5 371.8h0.01M144.3 370.7h0.01M145.1 364.1h0.01M145.9 366.3h0.01M146.6 374.2h0.01M148.2 368.2h0.01M149.0 367.8h0.01M149.8 364.2h0.01M150.6 359.9h0.01M151.4 365.2h0.01M152.9 369.6h0.01M153.7 373.0h0.01M154.5 368.2h0.01M155.3 363.1h0.01M156.1 363.1h0.01M156.9 363.9h0.01M157.7 373.6h0.01M160.8 366.7h0.01M162.4 369.2h0.01M164.0 365.8h0.01M164.7 374.6h0.01M165.5 366.5h0.01M166.3 367.4h0.01M167.1 362.5h0.01M167.9 362.2h0.01M169.5 369.7h0.01M170.2 371.2h0.01M171.0 371.2h0.01M172.6 368.3h0.01M173.4 359.4h0.01M174.2 369.0h0.01M175.8 370.9h0.01M176.5 366.3h0.01M178.1 363.9h0.01M178.9 358.6h0.01M179.7 367.9h0.01M180.5 366.8h0.01M182.8 374.2h0.01M183.6 362.3h0.01M184.4 362.2h0.01M185.2 375.4h0.01M186.0 362.8h0.01M186.8 364.0h0.01M187.6 365.2h0.01M189.1 364.5h0.01M190.7 372.3h0.01M191.5 370.6h0.01M192.3 362.1h0.01M193.1 364.6h0.01M193.9 372.0h0.01M194.6 377.5h0.01M195.4 364.9h0.01M198.6 372.1h0.01M200.2 377.0h0.01M200.9 358.9h0.01M201.7 360.3h0.01M202.5 364.2h0.01M203.3 366.3h0.01M204.1 370.3h0.01M204.9 370.8h0.01M206.4 365.9h0.01M208.0 359.7h0.01M208.8 377.0h0.01M209.6 375.0h0.01M210.4 372.0h0.01M211.2 373.2h0.01M213.5 358.8h0.01M214.3 365.0h0.01M215.1 362.9h0.01M215.9 364.3h0.01M216.7 370.7h0.01M217.5 368.5h0.01M218.3 375.5h0.01M219.0 370.8h0.01M219.8 361.9h0.01M220.6 366.0h0.01M223.0 376.8h0.01M224.5 367.4h0.01M225.3 367.3h0.01M226.1 369.7h0.01M226.9 368.5h0.01M227.7 358.1h0.01M228.5 373.4h0.01M229.3 360.6h0.01M230.1 363.6h0.01M230.8 365.8h0.01M231.6 367.6h0.01M232.4 368.9h0.01M234.0 369.3h0.01M237.1 377.3h0.01M237.9 375.6h0.01M238.7 371.8h0.01M239.5 369.6h0.01M240.3 366.0h0.01M241.9 377.0h0.01M243.4 371.4h0.01M245.0 370.8h0.01M246.6 369.2h0.01M247.4 363.8h0.01M248.9 374.2h0.01M249.7 363.9h0.01M251.3 366.7h0.01M252.1 371.8h0.01M252.9 360.2h0.01M253.7 365.5h0.01M255.2 378.3h0.01M256.0 379.6h0.01M257.6 369.8h0.01M258.4 362.6h0.01M259.2 363.8h0.01M260.0 367.6h0.01M260.7 371.8h0.01M262.3 371.2h0.01M263.1 375.4h0.01M263.9 366.6h0.01M264.7 372.3h0.01M266.3 370.9h0.01M267.0 367.7h0.01M268.6 365.4h0.01M269.4 372.0h0.01M270.2 366.0h0.01M271.0 371.0h0.01M271.8 360.7h0.01M273.3 364.0h0.01M274.1 365.4h0.01M274.9 378.1h0.01M275.7 366.4h0.01M277.3 368.7h0.01M278.1 363.9h0.01M279.6 362.4h0.01M281.2 367.1h0.01M282.0 364.6h0.01M283.6 369.1h0.01M284.4 369.8h0.01M285.1 361.3h0.01M285.9 372.4h0.01M288.3 366.3h0.01M289.1 366.8h0.01M289.9 366.7h0.01M290.7 370.7h0.01M292.2 360.0h0.01M293.0 373.7h0.01M293.8 365.1h0.01M294.6 357.6h0.01M295.4 366.9h0.01M296.2 372.4h0.01M297.7 366.6h0.01M299.3 369.1h0.01M300.9 375.4h0.01M301.7 360.7h0.01M302.5 372.9h0.01M304.8 365.8h0.01M305.6 369.8h0.01M306.4 377.4h0.01M307.2 374.0h0.01M308.0 371.7h0.01M308.8 369.4h0.01M309.5 371.5h0.01M310.3 362.4h0.01M311.1 358.9h0.01M311.9 365.0h0.01M312.7 367.1h0.01M313.5 365.1h0.01M314.3 372.8h0.01M315.0 373.0h0.01M315.8 372.3h0.01M316.6 365.2h0.01M317.4 368.6h0.01M318.2 363.0h0.01M319.8 367.6h0.01M320.6 374.3h0.01M321.3 369.9h0.01M322.1 370.9h0.01M322.9 369.6h0.01M323.7 372.9h0.01M325.3 369.5h0.01M326.1 362.1h0.01M327.6 365.7h0.01M328.4 372.0h0.01M329.2 402.3h0.01M331.6 406.2h0.01M332.4 404.6h0.01M333.9 395.9h0.01M334.7 412.4h0.01M335.5 409.9h0.01M336.3 405.4h0.01M337.1 402.9h0.01M337.9 412.4h0.01M338.7 404.4h0.01M340.2 385.8h0.01M341.0 362.8h0.01M341.8 363.6h0.01M342.6 365.6h0.01M343.4 365.2h0.01M344.2 367.4h0.01M345.0 366.8h0.01M345.7 370.8h0.01M347.3 381.4h0.01M348.1 385.1h0.01M348.9 384.1h0.01M349.7 388.8h0.01M351.2 399.1h0.01M353.6 389.3h0.01M354.4 383.2h0.01M355.2 381.9h0.01M356.0 380.7h0.01M356.8 381.6h0.01M357.5 376.3h0.01M359.9 377.2h0.01M361.5 378.6h0.01M362.3 377.7h0.01M363.1 371.7h0.01M363.8 377.0h0.01M364.6 378.8h0.01M365.4 376.6h0.01M366.2 375.7h0.01M367.8 377.3h0.01M368.6 373.6h0.01M369.3 375.8h0.01M370.1 376.3h0.01M370.9 372.4h0.01M371.7 375.4h0.01M372.5 375.9h0.01M374.1 374.7h0.01M374.9 375.1h0.01M375.6 374.8h0.01M376.4 377.8h0.01M377.2 376.0h0.01M378.0 377.3h0.01M379.6 379.7h0.01M381.2 381.5h0.01M381.9 387.0h0.01M382.7 381.9h0.01M383.5 388.1h0.01M384.3 382.7h0.01M385.9 391.3h0.01M386.7 388.9h0.01M388.2 392.3h0.01M389.0 393.9h0.01M391.4 396.5h0.01M393.7 397.0h0.01M394.5 400.8h0.01M395.3 400.4h0.01M396.1 401.2h0.01M396.9 395.5h0.01M397.7 396.1h0.01M398.5 399.1h0.01M399.3 399.2h0.01M401.6 399.5h0.01M403.2 402.5h0.01M404.0 404.5h0.01M405.5 401.1h0.01M406.3 399.9h0.01M407.1 400.5h0.01M407.9 393.8h0.01M409.5 397.1h0.01M411.1 392.8h0.01M411.8 395.2h0.01M412.6 392.2h0.01M413.4 394.2h0.01M415.0 383.2h0.01M415.8 386.3h0.01M416.6 387.9h0.01M418.9 389.6h0.01M419.7 388.4h0.01M421.3 389.1h0.01M422.9 393.1h0.01M423.6 395.2h0.01M425.2 392.5h0.01M426.0 393.0h0.01M426.8 396.1h0.01M427.6 399.9h0.01M428.4 399.3h0.01M429.2 401.7h0.01M429.9 401.2h0.01M430.7 400.5h0.01M431.5 399.5h0.01M432.3 399.2h0.01M433.1 402.6h0.01M434.7 397.7h0.01M435.5 406.5h0.01M436.2 404.5h0.01M437.0 403.6h0.01M437.8 406.6h0.01M438.6 402.4h0.01M439.4 402.0h0.01M440.2 402.4h0.01M441.0 399.0h0.01M441.7 405.0h0.01M442.5 398.6h0.01M443.3 403.8h0.01M446.5 399.1h0.01M447.3 400.4h0.01M448.8 401.2h0.01M449.6 401.0h0.01M452.0 396.0h0.01M452.8 400.5h0.01M453.6 400.4h0.01M454.3 399.6h0.01M455.1 399.8h0.01M455.9 397.3h0.01M456.7 397.4h0.01M457.5 394.6h0.01M458.3 395.2h0.01M459.1 398.7h0.01M459.8 395.9h0.01M460.6 395.1h0.01M461.4 398.9h0.01M462.2 395.0h0.01M463.0 397.4h0.01M463.8 394.7h0.01M465.4 393.2h0.01M466.1 388.2h0.01M466.9 389.2h0.01M467.7 380.6h0.01M469.3 382.6h0.01M470.1 374.3h0.01M472.4 374.4h0.01M475.6 367.1h0.01M476.4 359.2h0.01M477.2 376.2h0.01M477.9 359.8h0.01M478.7 362.5h0.01M479.5 368.4h0.01M480.3 358.6h0.01M481.1 362.5h0.01M481.9 367.1h0.01M482.7 367.1h0.01M483.5 361.1h0.01M484.2 382.5h0.01M485.0 374.7h0.01M485.8 374.1h0.01M486.6 372.5h0.01M487.4 373.4h0.01M488.2 364.3h0.01M489.8 377.1h0.01M491.3 363.2h0.01M492.9 374.0h0.01M493.7 378.7h0.01M494.5 365.4h0.01M496.0 365.9h0.01M496.8 370.9h0.01M497.6 371.5h0.01M498.4 365.1h0.01M499.2 371.2h0.01M500.8 370.7h0.01M501.6 367.6h0.01M502.3 378.8h0.01M503.1 365.7h0.01M503.9 368.7h0.01M504.7 365.2h0.01M506.3 368.5h0.01M507.1 371.9h0.01M507.9 369.3h0.01M508.6 364.0h0.01M509.4 366.5h0.01M510.2 367.0h0.01M512.6 377.3h0.01M513.4 366.3h0.01M514.9 368.5h0.01M516.5 362.3h0.01M517.3 370.1h0.01M518.9 369.8h0.01M520.4 383.8h0.01M522.8 376.1h0.01M523.6 381.2h0.01M524.4 364.2h0.01M525.2 379.8h0.01M526.0 369.2h0.01M527.5 365.5h0.01M529.1 382.1h0.01M529.9 372.0h0.01M530.7 371.7h0.01M531.5 368.2h0.01M532.2 363.4h0.01M533.0 370.2h0.01M534.6 368.8h0.01M535.4 363.5h0.01M536.2 362.6h0.01M537.0 385.6h0.01" stroke="#0000dd" stroke-width="2.5" stroke-linecap="round"/>
<path d="M283.5 394h0.01M343 363h.01M347 377h.01M348.7 390h.01M385 374h.01M388 374h.01" stroke="#0000e0" stroke-width="2.1" stroke-linecap="round"/>
<path d="M58.5 83.3 58.5 84.2 59.8 84.6 61.1 86.5 61.7 86.3 62.4 84.4 63.7 83.5 64.3 82.3 65.0 83.1 66.3 83.2 67.0 83.1 67.6 81.7 68.9 82.1 70.2 80.1 71.0 78.9 71.5 78.6 72.8 79.8 74.1 82.0 74.2 81.5 75.4 80.8 76.3 81.0 76.7 82.0 78.0 82.2 79.3 84.6 80.3 85.0 80.6 85.0 81.9 85.9 83.0 87.7 83.2 88.5 84.5 91.1 85.7 92.2 85.8 91.5 87.1 89.7 88.3 89.0 88.4 88.2 89.7 85.2 91.0 83.8 91.0 83.1 92.3 83.3 93.6 81.0 94.9 81.5 95.0 81.0 96.2 78.6 97.5 74.1 97.7 74.3 98.8 72.3 100.1 72.2 101.4 69.3 101.7 69.8 102.7 67.7 103.5 65.0 104.0 63.9 105.3 63.1 106.6 61.0 107.0 59.7 107.9 57.5 109.2 56.3 109.7 54.3 110.5 52.0 111.5 47.7 111.8 45.8 112.3 41.5 113.1 42.6 114.2 46.3 114.4 46.5 115.7 42.7 116.9 41.0 117.0 40.8 118.3 41.8 119.6 43.4 120.3 45.0 120.9 45.6 122.2 49.5 123.5 50.7 123.8 52.2 124.8 50.4 126.1 46.4 127.0 45.0 127.4 45.8 128.7 45.4 130.0 47.6 131.0 47.7 131.3 47.4 132.6 49.1 133.9 49.9 135.0 49.5 135.2 50.4 136.5 48.9 137.8 50.4 139.0 50.3 139.1 50.0 140.4 50.3 141.7 52.0 143.0 51.4 143.0 51.7 144.3 53.2 145.6 52.9 146.9 53.6 147.0 54.3 148.2 55.7 149.5 55.4 150.8 57.3 151.0 57.0 152.1 56.8 153.4 59.1 154.7 58.6 155.0 59.7 156.0 62.0 157.3 63.4 157.7 65.0 158.6 66.4 159.9 65.8 161.2 68.3 161.7 67.7 162.5 68.9 163.8 68.3 165.1 70.6 165.7 70.3 166.4 70.0 167.7 72.2 169.0 73.4 169.7 73.0 170.3 72.4 171.6 75.0 172.9 75.3 173.7 75.1 174.2 75.0 175.5 75.6 176.8 75.6 177.7 77.0 178.1 77.6 179.4 78.5 180.7 78.6 181.7 78.3 182.0 77.9 183.3 79.6 184.6 78.9 185.7 79.7 185.9 80.6 187.2 79.7 188.5 81.9 189.7 81.5 189.8 81.8 191.1 81.3 192.4 81.3 193.1 82.3 193.7 82.1 195.0 79.2 196.3 78.1 197.6 76.3 197.7 77.0 198.9 78.8 200.2 77.9 201.5 80.0 201.7 79.7 202.8 80.9 204.1 82.0 205.4 82.7 205.7 82.3 206.7 82.2 208.0 82.6 209.3 83.0 210.0 84.2 210.6 85.2 211.9 84.9 213.2 86.8 214.0 86.3 214.5 87.4 215.8 86.5 216.7 87.7 217.1 87.1 218.4 87.8 219.7 86.6 220.7 86.9 221.0 86.2 222.3 86.0 223.6 87.3 224.7 86.3 224.9 86.7 226.2 86.9 226.5 87.5 227.5 84.8 228.3 81.0 228.8 79.4 230.0 77.0 230.1 76.3 231.3 75.7 231.4 76.1 232.7 74.2 234.0 74.3 234.0 75.2 235.3 71.7 236.6 70.5 236.7 70.9 237.9 72.5 239.2 72.2 239.3 73.0 240.5 73.3 241.8 73.5 243.1 72.4 243.3 73.0 244.4 73.7 245.7 74.8 247.0 74.6 247.3 74.3 248.3 73.8 249.6 74.2 250.5 75.1 250.9 75.6 252.2 73.1 253.2 73.0 253.5 73.6 254.8 73.1 256.1 73.5 256.7 74.3 257.4 75.8 258.7 77.0 259.3 77.0 260.0 76.7 261.3 78.5 262.6 78.6 263.3 78.3 263.9 77.9 265.2 79.9 266.5 79.5 267.3 80.2 267.8 80.8 269.1 80.8 270.4 82.6 271.3 82.3 271.7 81.6 273.0 83.8 274.3 82.7 275.3 83.7 275.6 83.4 276.9 83.8 278.2 83.7 279.3 85.0 279.5 84.6 280.8 86.4 282.1 86.8 283.3 86.9 283.4 87.4 284.7 88.0 286.0 87.4 287.3 89.0 287.3 88.1 288.6 90.1 289.9 93.3 290.0 93.0 291.2 94.1 292.1 95.7 292.5 94.0 293.8 91.9 294.0 91.1 295.1 91.5 296.4 89.5 297.7 89.0 298.0 89.5 299.0 90.6 300.3 90.4 301.6 92.1 302.0 91.7 302.9 91.9 304.2 93.5 305.5 93.5 306.0 94.3 306.8 94.1 308.1 95.9 309.4 95.4 310.7 96.9 311.3 96.5 312.0 96.1 313.3 98.0 314.6 97.0 315.9 98.5 316.7 98.3 317.2 97.5 318.5 97.1 319.8 98.6 321.1 97.3 322.0 97.5 322.4 98.4 323.7 96.5 325.0 96.7 326.3 98.0 327.3 97.0 327.6 96.2 328.9 96.3 330.2 96.1 331.5 96.3 332.7 97.0 332.8 97.5 334.1 96.2 335.4 96.4 336.7 97.4 337.5 96.5 338.0 95.5 339.3 96.2 340.1 94.9 340.6 84.5 341.2 74.3 341.9 73.2 343.2 74.3 343.9 73.0 344.5 74.2 345.8 76.3 346.0 75.7 347.1 75.8 348.4 78.5 348.7 77.8 349.7 78.0 350.8 77.0 351.0 77.7 352.3 77.1 352.7 77.8 353.6 79.4 354.9 79.8 355.3 79.7 356.2 80.4 357.5 83.5 358.0 83.7 358.8 83.3 360.1 85.1 360.7 85.0 361.4 84.4 362.7 85.0 364.0 84.3 365.0 83.5 365.3 83.0 366.6 85.3 367.9 84.7 369.2 85.4 369.5 86.5 370.5 86.2 371.8 88.3 373.1 88.6 373.4 88.0 374.4 83.2 375.5 79.0 375.7 75.2 376.4 58.0 377.0 56.4 377.6 56.5 378.3 60.4 379.4 64.0 379.6 65.3 380.9 65.5 381.5 67.0 382.2 69.0 383.5 70.7 383.6 71.5 384.8 72.7 386.1 72.8 387.4 75.0 387.5 74.5 388.7 75.3 390.0 73.7 391.3 74.9 392.0 74.5 392.6 74.4 393.9 76.7 395.0 76.6 395.2 77.3 396.5 77.5 397.8 77.7 399.1 78.4 399.5 77.5 400.4 77.1 401.7 78.2 402.5 77.5 403.0 76.1 404.3 74.2 404.6 73.0 405.6 72.3 406.9 74.2 408.2 74.4 408.5 73.6 409.5 73.3 410.8 75.6 412.1 74.9 413.0 76.0 413.4 77.0 414.7 77.8 416.0 78.4 417.3 79.0 417.5 78.4 418.6 78.9 419.9 79.7 421.2 82.2 421.4 82.0 422.5 81.9 423.5 80.5 423.8 78.4 425.0 71.5 425.1 72.4 426.4 71.4 427.7 72.6 428.0 72.4 429.0 73.2 430.3 77.0 430.4 76.6 431.6 80.5 431.6 79.8 432.9 73.4 433.4 70.0 434.2 71.2 435.5 70.9 436.8 73.4 437.0 73.0 438.1 73.6 439.4 76.8 440.6 77.5 440.7 78.4 442.0 77.2 443.3 79.0 443.6 78.4 444.6 77.3 445.9 77.3 447.2 78.5 447.5 77.5 448.5 78.8 449.8 77.5 451.1 79.4 451.4 79.0 452.4 74.6 453.5 71.5 453.7 71.4 455.0 74.1 455.6 74.5 456.3 75.5 457.6 76.6 458.0 76.0 458.9 75.9 460.2 77.3 461.5 76.7 461.6 77.5 462.8 78.8 464.1 77.7 465.4 78.4 465.5 79.0 466.7 79.8 468.0 79.1 468.5 79.6 469.3 78.8 470.6 75.7 471.5 75.4 471.9 75.2 473.2 74.1 474.5 71.5 474.5 72.2 475.8 63.2 476.6 59.5 477.1 59.9 478.4 58.0 478.4 57.4 479.7 61.4 480.5 62.5 481.0 62.5 482.3 63.7 483.5 65.5 483.6 66.0 484.9 67.0 486.2 66.5 486.5 67.6 487.5 68.1 488.8 68.5 489.5 70.0 490.1 71.0 491.4 70.6 492.7 73.5 494.0 73.6 494.0 74.0 495.3 74.8 496.6 74.6 497.9 76.8 498.5 76.6 499.2 76.4 500.5 77.0 501.8 79.1 503.0 79.6 503.1 80.0 504.4 80.2 505.7 81.7 507.0 81.4 507.5 82.6 508.3 83.9 509.6 83.1 510.9 85.4 512.0 85.0 512.2 84.6 513.5 86.5 514.8 85.4 516.1 87.1 516.5 86.5 517.4 86.5 518.7 87.8 520.0 86.8 521.0 88.0 521.3 89.0 522.6 90.1 523.9 91.1 525.2 90.4 525.5 91.6 526.5 92.9 527.8 93.4 529.1 92.7 530.0 93.4 530.4 92.7 531.7 94.0 533.0 92.1 534.3 92.9 534.5 92.5 535.6 87.8 536.6 85.0 536.9 84.0 537.5 83.0" fill="none" stroke="#0000e8" stroke-width="2.6" stroke-linejoin="round"/>
<path d="M58.5 175.3 58.5 174.0 59.8 180.7 59.8 181.2 61.1 178.5 62.4 178.8 62.5 178.0 63.7 178.8 65.0 182.4 65.1 182.0 66.3 180.0 67.6 178.1 67.8 179.3 68.9 176.5 70.2 176.0 71.0 174.0 71.5 173.1 72.8 173.1 73.1 172.1 74.1 173.9 75.0 178.0 75.4 177.9 76.7 172.8 76.9 172.7 78.0 174.9 79.0 175.9 79.3 173.8 80.6 173.0 81.1 171.3 81.9 173.5 83.2 175.3 83.8 174.8 84.5 176.8 85.8 175.8 86.5 178.0 87.1 179.0 88.4 181.8 89.1 184.7 89.7 183.1 91.0 175.4 91.0 176.7 92.3 173.4 92.9 170.0 93.6 167.4 94.9 165.3 95.0 166.0 96.2 165.0 97.5 162.0 97.7 160.7 98.8 158.5 99.8 158.0 100.1 157.1 100.9 152.7 101.4 152.8 102.5 150.8 102.7 147.6 103.5 131.3 104.0 134.5 105.3 138.1 105.7 140.7 106.6 138.0 107.0 135.3 107.9 136.9 108.3 138.5 109.2 136.9 109.7 134.0 110.5 138.8 111.5 146.0 111.8 134.4 112.3 118.0 113.1 116.9 113.7 117.2 114.4 121.5 115.0 126.0 115.7 126.0 116.3 124.7 117.0 127.4 117.7 132.7 118.3 136.3 119.5 140.7 119.6 141.3 120.9 138.2 121.1 139.3 122.2 148.2 123.0 152.7 123.5 150.2 124.8 147.4 124.9 146.0 126.1 143.7 126.5 144.7 127.4 151.8 128.3 156.7 128.7 155.5 130.0 153.7 130.2 154.0 131.3 157.2 132.3 158.0 132.6 159.2 133.9 166.2 134.5 170.0 135.2 171.3 136.5 170.5 137.7 172.7 137.8 173.0 139.1 166.1 140.3 162.0 140.4 161.1 141.7 164.3 143.0 167.6 143.0 168.7 144.3 168.9 145.6 167.1 146.9 168.2 147.0 167.3 148.2 168.3 149.5 167.4 150.8 169.2 151.0 168.7 152.1 169.7 153.4 168.6 154.7 170.9 155.0 170.0 156.0 169.8 157.3 171.3 158.6 170.1 159.0 171.3 159.9 173.3 161.2 174.2 162.5 172.8 163.0 174.0 163.8 175.3 165.1 173.5 166.4 174.4 167.0 175.3 167.7 176.7 169.0 176.2 170.3 178.1 171.0 178.0 171.6 179.3 172.9 179.3 174.2 181.8 175.0 182.0 175.5 181.3 176.8 183.6 178.1 181.7 179.0 183.3 179.4 182.5 180.7 185.6 181.7 185.5 182.0 184.7 183.3 184.5 184.6 181.5 185.7 180.7 185.9 179.8 187.2 180.8 188.3 178.5 188.5 178.0 189.8 179.0 191.1 182.0 192.3 182.0 192.4 181.2 193.7 180.0 195.0 181.0 196.3 179.3 196.3 178.4 197.6 178.5 198.9 174.9 199.5 174.8 200.2 176.9 201.5 175.8 202.8 179.3 203.0 178.5 204.1 177.8 205.4 178.2 206.7 179.8 207.0 179.3 208.0 178.5 209.3 181.7 210.0 180.7 210.6 179.8 211.9 180.3 212.7 178.5 213.2 177.1 214.5 169.2 214.8 168.7 215.8 169.4 216.7 171.3 217.1 172.0 218.4 171.7 219.3 170.0 219.7 172.2 221.0 173.6 221.2 174.8 222.3 172.3 223.3 168.7 223.6 166.5 224.9 161.9 225.5 160.7 226.2 163.0 227.3 167.9 227.5 168.7 228.8 162.4 229.2 162.0 230.1 161.9 231.3 160.7 231.4 162.2 232.7 161.8 233.5 163.3 234.0 162.7 235.3 158.8 235.3 157.7 236.6 162.7 236.7 162.0 237.9 164.1 238.8 167.3 239.2 165.8 240.5 166.9 241.5 165.2 241.8 166.3 243.1 168.2 244.1 168.7 244.4 170.0 245.7 172.3 246.8 172.7 247.0 172.2 248.3 173.8 249.6 172.6 250.0 174.0 250.9 175.6 252.2 174.7 252.7 175.9 253.5 175.2 254.8 176.7 255.3 178.0 256.1 178.0 257.4 178.9 257.5 180.1 258.7 177.1 259.3 177.5 260.0 178.7 261.2 178.0 261.3 176.3 262.6 168.8 262.8 168.7 263.9 177.3 264.7 182.0 265.2 182.0 266.5 176.1 267.3 175.3 267.8 176.4 269.1 175.4 270.0 174.0 270.4 175.1 271.7 172.0 272.7 172.7 273.0 171.6 274.3 168.9 274.5 169.5 275.6 169.6 276.7 167.3 276.9 166.6 278.2 170.3 278.8 170.5 279.5 169.4 280.8 171.1 281.5 169.5 282.1 171.9 283.3 178.0 283.4 179.5 284.7 180.7 285.2 183.3 286.0 185.0 287.3 184.3 287.9 185.5 288.6 185.8 289.9 183.9 291.2 185.9 291.3 184.7 292.5 182.1 293.2 179.3 293.8 176.4 295.1 173.2 295.3 173.2 296.4 177.0 297.5 179.3 297.7 178.8 299.0 181.8 300.1 182.0 300.3 182.7 301.6 180.3 302.9 181.6 303.3 180.1 304.2 179.7 305.5 182.6 306.0 182.0 306.8 182.9 308.1 183.7 309.4 182.4 310.0 183.9 310.7 184.8 312.0 184.7 313.3 183.6 314.6 185.8 315.3 184.7 315.9 185.9 317.2 184.5 318.5 186.1 319.8 184.4 320.7 186.0 321.1 187.3 322.4 185.5 323.7 186.9 325.0 186.1 326.0 186.8 326.3 187.4 327.6 187.7 328.9 185.0 330.2 185.0 331.3 185.5 331.5 186.1 332.8 184.1 334.1 185.7 335.3 184.7 335.4 185.3 336.7 184.9 338.0 181.9 338.5 182.8 339.3 179.0 340.1 172.7 340.6 162.1 341.2 147.3 341.9 148.9 342.8 154.0 343.2 152.1 343.9 151.9 344.5 153.3 345.5 159.3 345.8 159.7 347.1 169.8 347.3 170.0 348.4 168.0 349.2 167.9 349.7 166.2 350.8 160.7 351.0 161.7 352.3 161.5 352.7 163.3 353.6 170.0 354.5 174.0 354.9 172.2 356.1 168.7 356.2 169.6 357.5 171.9 358.0 171.3 358.8 169.7 359.3 167.3 360.1 171.0 361.4 178.0 361.5 179.3 362.7 171.5 363.3 166.0 364.0 162.6 364.7 160.7 365.3 162.4 366.5 167.3 366.6 169.0 367.5 178.0 367.9 180.2 368.6 186.4 369.2 187.3 370.5 186.1 371.6 187.0 371.8 187.0 373.1 180.2 374.0 178.0 374.4 170.6 375.5 148.0 375.7 149.0 377.0 149.5 377.0 150.1 377.9 133.0 378.3 134.2 379.4 142.0 379.6 145.9 380.6 158.5 380.9 157.9 382.2 159.0 382.4 160.0 383.5 164.2 384.5 166.0 384.8 165.2 386.1 169.3 386.6 169.0 387.4 168.1 388.7 169.1 389.0 170.5 390.0 173.8 391.3 175.8 391.4 176.5 392.6 181.3 393.5 182.5 393.9 181.7 395.2 186.2 395.6 185.5 396.5 185.1 397.8 185.7 398.6 186.4 399.1 186.9 400.4 185.0 401.7 185.5 402.5 184.6 403.0 185.2 404.3 181.5 404.6 182.5 405.6 169.6 406.4 157.6 406.9 157.3 408.2 158.9 408.5 158.5 409.5 158.6 410.6 161.5 410.8 161.2 412.1 167.5 413.0 169.0 413.4 169.1 414.7 173.8 416.0 176.5 416.0 175.9 417.3 177.8 418.6 176.8 419.0 178.0 419.9 177.3 421.2 178.5 421.4 179.5 422.5 177.3 423.5 176.5 423.8 177.0 425.1 172.2 426.4 170.5 426.5 169.6 427.7 171.0 428.6 173.5 429.0 176.5 430.3 182.1 430.4 181.6 431.6 182.6 432.5 184.6 432.9 183.2 434.2 185.7 434.6 184.6 435.5 179.7 436.8 176.2 437.0 174.4 438.1 175.4 439.4 178.0 439.4 179.1 440.7 175.9 441.5 176.5 442.0 176.0 443.3 179.0 443.6 178.0 444.6 184.2 445.4 187.0 445.9 186.6 447.2 187.8 448.5 186.6 449.0 187.6 449.8 188.6 451.1 188.1 452.0 186.4 452.4 184.5 453.7 182.7 454.4 179.5 455.0 181.9 456.3 185.9 456.5 185.5 457.6 185.0 458.9 185.4 459.5 186.4 460.2 186.7 461.5 186.5 462.5 185.5 462.8 185.4 464.1 180.6 465.4 179.2 465.5 178.0 466.7 176.9 467.6 175.0 468.0 174.6 469.3 169.5 470.0 166.0 470.6 161.5 471.9 154.8 472.4 151.0 473.2 149.5 474.5 149.5 474.5 150.4 475.8 145.1 476.6 143.5 477.1 147.4 478.4 154.0 478.4 154.6 479.7 156.6 480.5 160.0 481.0 159.3 482.3 161.9 482.6 161.5 483.6 164.1 484.9 164.5 485.0 166.0 486.2 170.3 487.5 172.8 488.0 175.0 488.8 173.8 490.1 174.8 491.0 173.5 491.4 174.3 492.7 174.7 494.0 176.5 494.0 177.5 495.3 175.8 496.6 177.3 497.9 174.8 498.5 175.6 499.2 174.6 500.5 177.1 501.8 178.2 503.0 177.4 503.1 176.3 504.4 176.6 505.7 176.8 507.0 178.6 507.5 178.0 508.3 177.7 509.6 181.1 510.9 180.6 512.0 182.5 512.2 181.7 513.5 183.6 514.8 182.4 516.1 184.5 516.5 183.4 517.4 181.9 518.7 183.4 520.0 183.5 521.0 182.5 521.3 181.9 522.6 182.9 523.9 182.5 525.2 182.2 525.5 181.0 526.5 181.6 527.8 183.8 529.1 183.9 530.0 185.5 530.4 186.4 531.7 183.8 533.0 185.9 534.3 183.6 534.5 184.6 535.6 179.4 536.9 171.1 537.5 169.0" fill="none" stroke="#0000e8" stroke-width="2.6" stroke-linejoin="round"/>
<path d="M58.5 216.5 58.5 217.3 59.8 219.8 60.3 219.5 61.1 218.6 62.4 219.3 63.0 217.9 63.7 215.8 65.0 212.8 65.1 213.3 66.3 214.2 67.0 216.0 67.6 217.3 68.9 217.6 68.9 218.7 70.2 221.3 71.0 221.3 71.5 221.7 72.8 223.4 73.1 224.8 74.1 224.4 75.4 223.8 75.8 222.7 76.7 224.7 78.0 226.0 78.5 225.3 79.3 224.9 80.6 228.2 81.1 227.5 81.9 226.9 83.2 224.2 83.8 224.0 84.5 222.9 85.8 223.6 86.5 222.7 87.1 218.0 88.3 210.7 88.4 211.0 89.7 202.4 89.7 203.5 91.0 211.8 91.0 210.7 92.3 212.3 93.6 211.0 93.7 211.5 94.9 210.5 96.2 211.0 97.5 211.4 97.7 212.0 98.8 210.6 100.1 211.2 101.4 211.2 101.7 209.9 102.7 209.9 104.0 212.7 104.3 212.5 105.3 212.3 106.6 214.0 107.0 214.7 107.9 215.2 109.2 215.7 110.5 216.4 110.5 215.2 111.8 224.8 112.3 230.1 113.1 229.9 114.4 228.1 115.0 228.0 115.7 228.6 117.0 227.3 118.3 228.7 119.0 227.5 119.6 226.6 120.9 227.7 122.2 229.7 123.0 229.3 123.5 228.5 124.8 230.5 126.1 230.7 127.0 230.1 127.4 229.2 128.7 231.2 130.0 231.7 131.0 231.2 131.3 231.0 132.6 233.0 133.7 232.8 133.9 231.7 135.2 231.2 136.3 229.3 136.5 228.5 137.8 229.7 139.1 229.7 140.3 228.5 140.4 228.1 141.7 229.9 143.0 228.3 144.3 229.9 144.3 229.3 145.6 228.3 146.9 229.3 148.2 227.4 148.3 228.0 149.5 227.5 150.8 228.7 152.1 227.0 152.3 227.5 153.4 227.2 154.7 228.8 156.0 228.0 156.3 228.5 157.3 229.1 158.6 229.2 159.9 229.0 160.3 228.5 161.2 227.5 162.5 227.5 163.8 228.5 164.3 228.0 165.1 227.4 166.4 226.7 167.7 228.2 168.3 227.5 169.0 228.3 170.3 227.8 171.6 226.2 172.3 226.7 172.9 226.2 174.2 227.8 175.5 226.6 176.3 227.5 176.8 226.7 178.1 227.7 179.4 227.0 180.3 225.3 180.7 224.0 182.0 224.2 183.3 223.3 184.3 224.0 184.6 224.6 185.9 222.2 187.0 222.1 187.2 222.7 188.5 222.6 189.7 224.0 189.8 223.7 191.1 223.8 192.3 225.3 192.4 224.0 193.7 222.3 195.0 222.2 195.8 220.0 196.3 219.1 197.6 219.6 198.9 216.8 199.0 217.9 200.2 218.9 201.5 217.6 201.7 218.7 202.8 221.4 204.1 221.9 204.3 222.7 205.4 223.6 206.7 221.3 208.0 221.1 208.3 222.1 209.3 221.7 210.0 222.1 210.6 222.8 211.9 220.4 212.7 220.5 213.2 222.5 214.5 224.0 215.3 226.7 215.8 225.2 217.1 223.0 218.0 220.5 218.4 219.7 219.7 217.7 221.0 218.3 221.2 217.3 222.3 215.8 223.6 216.3 223.9 215.2 224.9 216.9 226.2 221.2 226.5 221.3 227.5 219.8 228.8 219.1 229.2 219.5 230.1 220.3 231.4 219.4 231.9 220.5 232.7 219.2 234.0 218.0 235.3 217.9 235.3 218.6 236.6 218.6 237.9 222.1 238.0 221.3 239.2 221.0 240.5 222.7 241.8 221.3 242.0 222.1 243.1 223.5 244.4 223.4 245.7 224.1 246.0 223.2 247.0 222.7 248.3 224.7 249.6 222.8 250.0 224.0 250.9 223.1 252.2 223.2 253.5 224.9 254.0 224.0 254.8 223.9 256.1 224.6 257.4 226.1 258.0 225.9 258.7 226.7 260.0 225.6 261.3 228.3 262.0 227.5 262.6 225.6 263.9 224.0 265.2 222.7 265.5 222.7 266.5 223.4 267.8 225.7 268.7 227.5 269.1 226.6 270.4 229.2 271.7 228.4 272.7 230.1 273.0 230.8 274.3 230.3 275.6 231.4 276.7 232.8 276.9 233.6 278.2 232.6 279.5 234.5 279.9 233.9 280.8 232.7 282.1 229.8 282.5 228.5 283.4 224.5 284.7 222.0 285.2 219.5 286.0 220.5 287.3 224.0 287.9 225.9 288.6 226.5 289.9 225.6 290.0 224.8 291.2 224.9 292.1 226.7 292.5 225.3 293.8 217.4 294.0 217.3 295.1 213.8 295.3 212.5 296.4 211.3 297.7 213.5 298.0 212.5 299.0 212.2 300.3 215.0 300.7 214.7 301.6 215.0 302.9 217.1 304.2 216.8 304.7 217.9 305.5 219.6 306.8 218.5 308.1 221.7 308.7 221.3 309.4 221.2 310.7 223.2 312.0 226.7 312.7 226.7 313.3 228.6 314.6 231.6 315.9 232.4 316.1 233.3 317.2 232.9 318.5 229.1 319.3 229.3 319.8 227.5 321.1 225.5 322.0 222.7 322.4 221.5 323.7 220.7 324.7 221.3 325.0 221.8 326.3 217.5 326.8 217.3 327.6 218.9 328.7 222.1 328.9 222.9 330.2 219.5 331.3 218.7 331.5 219.7 332.8 218.8 334.0 220.0 334.1 220.7 335.4 218.7 336.7 218.4 338.0 218.7 338.0 219.2 339.3 217.3 340.1 217.9 340.6 210.9 341.2 200.0 341.9 199.5 343.2 198.1 343.3 197.3 344.5 198.3 345.8 196.4 346.5 197.3 347.1 198.9 348.4 198.2 349.2 200.0 349.7 202.0 350.8 209.3 351.0 210.2 352.3 211.8 352.7 213.3 353.6 220.4 354.5 229.3 354.9 227.5 356.1 220.0 356.2 219.1 357.5 220.7 358.0 219.5 358.8 220.0 360.1 221.5 360.7 222.7 361.4 225.2 362.5 226.7 362.7 224.6 364.0 218.2 364.1 216.8 365.3 218.2 365.5 219.0 366.5 233.0 366.6 234.6 367.9 242.8 368.6 246.5 369.2 248.2 370.4 249.5 370.5 248.7 371.6 248.0 371.8 249.3 373.1 261.1 373.4 263.0 374.4 264.7 374.9 264.5 375.7 255.0 376.4 248.0 377.0 229.5 377.6 209.0 378.3 208.5 379.4 210.5 379.6 211.5 380.9 213.3 381.5 215.0 382.2 214.3 383.5 216.3 384.8 215.3 385.4 216.5 386.1 215.7 387.4 217.4 388.7 216.7 389.6 217.4 390.0 218.3 391.3 217.2 392.6 218.0 392.6 217.6 393.9 218.2 395.0 220.4 395.2 221.0 396.5 230.0 396.5 230.8 397.8 222.3 398.6 219.5 399.1 219.3 400.4 216.5 400.4 217.3 401.7 217.4 402.5 219.5 403.0 220.2 404.3 217.4 404.6 218.0 405.6 221.0 406.9 222.4 407.0 223.4 408.2 223.5 409.5 221.2 410.0 221.6 410.8 223.6 412.1 224.3 413.4 226.2 413.6 225.5 414.7 226.1 416.0 228.7 417.3 228.6 417.5 230.0 418.6 231.9 419.9 231.4 421.2 232.0 421.4 233.0 422.5 228.7 423.8 225.2 424.4 224.0 425.1 219.7 426.4 214.1 426.5 214.4 427.7 214.0 428.6 215.0 429.0 217.1 430.3 221.6 430.4 222.5 431.6 225.0 432.5 225.5 432.9 224.4 434.2 225.2 435.5 223.4 435.5 222.6 436.8 217.8 438.1 214.6 438.5 212.0 439.4 212.5 440.7 210.9 442.0 212.0 442.4 211.4 443.3 213.7 444.5 218.0 444.6 217.6 445.9 219.9 447.2 220.2 447.5 221.0 448.5 225.8 449.6 230.0 449.8 230.5 451.1 237.9 452.0 241.4 452.4 240.1 453.7 238.3 454.4 236.0 455.0 232.1 456.3 221.7 456.5 221.0 457.6 221.1 458.9 218.2 459.5 218.0 460.2 219.0 461.5 218.8 461.6 219.5 462.8 215.3 463.4 212.6 464.1 212.7 465.4 212.0 466.4 210.5 466.7 211.3 468.0 210.7 469.3 211.1 469.4 212.0 470.6 217.6 471.5 221.0 471.9 220.3 473.2 223.3 473.6 223.4 474.5 224.3 475.8 227.1 476.0 227.0 477.1 228.8 478.4 233.0 478.4 232.5 479.7 231.7 481.0 230.8 482.0 231.5 482.3 231.3 483.6 233.2 484.9 233.4 485.0 233.0 486.2 230.7 487.5 231.2 488.8 228.3 489.5 228.5 490.1 227.8 491.4 226.9 492.7 226.6 494.0 227.0 494.0 226.3 495.3 226.7 496.6 226.0 497.9 223.9 498.5 224.0 499.2 223.4 500.5 224.0 501.8 225.6 503.0 225.5 503.1 225.9 504.4 224.8 505.7 226.5 507.0 225.2 507.5 226.4 508.3 227.7 509.6 227.7 510.9 228.3 512.0 227.6 512.2 226.8 513.5 227.1 514.8 225.8 516.1 223.9 516.5 224.0 517.4 225.5 518.7 225.1 520.0 227.2 521.0 227.0 521.3 226.6 522.6 228.2 523.9 226.2 524.0 227.0 525.2 225.9 526.5 221.5 527.0 221.6 527.8 221.2 529.1 218.8 530.4 217.3 531.5 216.5 531.7 217.7 533.0 215.4 534.3 217.3 535.4 216.5 535.6 212.9 536.6 201.5 536.9 201.6 537.5 199.0" fill="none" stroke="#0000e8" stroke-width="2.6" stroke-linejoin="round"/>
<path d="M58.5 319.3 58.5 319.7 59.8 320.4 61.1 319.4 61.7 320.2 62.4 319.9 63.7 321.7 64.3 322.9 65.0 320.1 66.2 313.8 66.3 313.5 67.6 316.7 68.3 316.5 68.9 317.4 70.2 316.5 71.0 315.7 71.5 315.1 72.8 315.5 73.7 317.0 74.1 316.4 75.4 317.1 76.3 315.7 76.7 315.6 78.0 317.8 79.0 318.3 79.3 320.3 80.6 322.8 81.1 325.0 81.9 325.3 83.2 327.0 83.8 329.0 84.5 328.7 85.8 325.3 86.5 325.0 87.1 322.9 88.3 317.0 88.4 316.7 89.7 306.3 90.2 303.7 91.0 303.3 92.3 299.9 92.3 300.5 93.6 298.7 94.9 298.4 95.0 297.8 96.2 295.7 97.5 295.5 97.7 294.3 98.8 292.5 99.8 292.5 100.1 291.9 101.4 292.4 101.7 291.7 102.7 290.4 103.5 287.7 104.0 288.9 105.3 295.0 105.7 295.7 106.6 295.2 107.9 295.6 108.3 297.0 109.2 297.5 110.5 301.6 110.5 301.0 111.8 312.6 112.3 315.7 113.1 317.3 114.2 322.3 114.4 323.6 115.7 324.0 116.9 326.3 117.0 326.7 118.3 324.6 119.6 325.6 120.3 325.0 120.9 324.2 122.2 323.4 123.0 323.7 123.5 325.0 124.8 327.4 125.7 328.2 126.1 328.0 127.4 329.6 128.7 329.3 129.7 330.3 130.0 331.2 131.3 330.0 132.6 332.7 133.7 332.5 133.9 333.2 135.2 333.4 136.5 332.1 137.7 333.0 137.8 333.8 139.1 332.8 140.4 334.0 141.7 336.3 141.7 335.7 143.0 335.0 144.3 336.4 145.6 334.7 145.7 335.1 146.9 336.0 148.2 338.1 148.3 338.9 149.5 337.7 150.8 337.2 152.1 338.3 152.3 337.8 153.4 337.2 154.7 337.8 156.0 340.5 156.3 339.7 157.3 340.6 158.6 340.5 159.9 338.8 160.3 339.7 161.2 340.2 162.5 338.6 163.8 338.5 164.3 337.0 165.1 336.6 166.4 336.5 167.7 336.1 168.3 337.0 169.0 337.4 170.3 335.8 171.6 335.2 172.3 336.2 172.9 336.4 174.2 336.0 175.5 335.8 176.3 335.1 176.8 336.0 178.1 335.6 179.4 335.0 180.3 334.3 180.7 333.5 182.0 332.7 183.3 334.1 184.3 333.0 184.6 332.5 185.9 333.3 187.2 332.9 188.3 331.7 188.5 331.2 189.8 332.5 191.1 335.7 191.5 335.1 192.4 334.1 193.7 330.9 195.0 328.9 195.8 328.2 196.3 329.5 197.6 330.6 198.9 330.7 199.0 331.7 200.2 330.9 201.5 332.8 202.8 332.1 203.0 331.7 204.1 331.7 205.4 329.5 206.7 331.0 207.0 329.8 208.0 328.2 209.3 329.1 210.0 328.2 210.6 327.2 211.9 328.2 213.2 326.3 213.2 326.7 214.5 326.5 215.8 329.3 216.7 329.0 217.1 328.9 218.4 331.4 219.7 330.4 220.1 331.7 221.0 327.7 222.3 324.9 222.8 322.3 223.6 317.3 224.7 313.0 224.9 314.2 226.2 312.4 227.3 313.8 227.5 312.6 228.8 312.1 229.2 311.1 230.1 314.3 231.3 317.0 231.4 316.7 232.7 319.6 234.0 321.0 234.0 321.5 235.3 324.2 236.6 325.4 236.7 326.3 237.9 329.2 239.2 330.3 239.3 331.7 240.5 333.1 241.8 332.1 242.5 333.0 243.1 333.9 244.4 335.8 245.7 337.0 246.0 336.2 247.0 335.5 248.3 332.7 248.7 333.0 249.6 334.0 250.9 333.9 252.2 331.7 252.7 332.5 253.5 333.2 254.8 330.6 256.1 332.3 256.7 330.9 257.4 330.4 258.7 330.9 260.0 333.0 260.1 332.5 261.3 331.3 262.6 330.8 263.3 331.7 263.9 332.4 265.2 332.3 266.5 331.3 267.8 332.5 268.7 331.7 269.1 330.8 270.4 332.6 271.7 330.8 273.0 332.2 274.0 330.9 274.3 332.1 275.6 330.6 276.9 332.1 278.0 331.7 278.2 330.7 279.5 331.5 280.8 333.7 281.5 333.5 282.1 333.8 283.4 339.1 284.1 339.7 284.7 335.5 286.0 329.0 286.0 328.4 287.3 328.6 287.9 327.7 288.6 330.1 289.9 336.3 290.0 336.2 291.2 336.5 292.1 338.9 292.5 338.3 293.8 332.7 294.0 330.9 295.1 324.7 295.3 325.0 296.4 324.2 297.7 326.4 298.0 325.5 299.0 326.1 300.3 324.6 300.7 325.0 301.6 324.4 302.8 325.5 302.9 326.6 304.2 334.5 304.7 337.0 305.5 335.0 306.8 333.5 307.3 333.5 308.1 334.2 309.4 332.4 310.7 334.7 310.8 333.5 312.0 333.8 313.3 334.2 314.0 335.7 314.6 337.0 315.9 336.3 317.2 338.3 317.2 339.4 318.5 340.3 319.8 341.6 319.9 340.5 321.1 337.4 322.0 337.0 322.4 335.7 323.7 336.2 324.7 334.3 325.0 334.8 326.3 332.4 327.3 333.0 327.6 333.1 328.9 330.9 329.5 330.9 330.2 331.6 331.3 335.1 331.5 336.4 332.8 335.5 334.0 337.0 334.1 335.9 335.4 336.3 336.7 337.8 336.7 338.7 338.0 335.9 339.3 335.7 339.3 335.0 340.6 323.9 341.2 317.0 341.9 305.7 342.8 293.0 343.2 301.0 344.1 317.0 344.5 318.5 345.5 323.7 345.8 318.2 346.5 309.0 347.1 312.0 348.1 315.7 348.4 312.0 349.2 298.3 349.7 304.0 350.3 311.7 351.0 294.0 351.3 287.7 352.3 283.2 353.5 277.0 353.6 277.7 354.9 280.6 355.3 282.3 356.2 287.9 357.2 291.7 357.5 294.8 358.8 302.1 359.3 306.3 360.1 305.2 361.4 301.3 361.5 302.3 362.7 312.3 364.0 326.3 364.1 326.3 365.0 324.5 365.3 321.6 366.5 305.0 366.6 304.2 367.9 302.5 368.6 299.6 369.2 300.7 370.5 301.8 371.6 302.0 371.8 301.3 373.1 305.7 374.0 306.5 374.4 306.5 375.5 309.5 375.7 304.7 376.4 285.5 377.0 285.9 377.6 288.5 378.3 294.7 379.4 302.0 379.6 304.1 380.6 321.5 380.9 322.9 382.2 325.7 382.4 327.5 383.5 331.0 384.5 332.0 384.8 331.9 386.1 334.7 387.4 336.0 387.5 335.6 388.7 334.1 390.0 335.8 390.5 334.4 391.3 332.1 392.6 331.7 393.5 329.0 393.9 327.7 395.2 329.1 396.5 327.5 396.5 326.5 397.8 328.7 399.1 328.2 399.5 329.0 400.4 328.9 401.6 326.0 401.7 324.7 403.0 316.6 403.4 314.6 404.3 316.5 405.5 316.4 405.6 317.8 406.9 323.0 407.0 323.0 408.2 327.0 409.4 329.0 409.5 328.0 410.8 330.9 412.1 330.9 413.0 332.6 413.4 333.6 414.7 332.5 416.0 333.2 417.3 335.4 417.5 335.0 418.6 334.9 419.9 336.4 421.2 335.8 421.4 336.5 422.5 337.9 423.8 338.0 425.0 338.0 425.1 335.2 426.4 315.4 426.5 313.4 427.7 312.8 429.0 313.3 429.5 314.6 430.3 314.2 431.6 312.5 431.6 311.5 432.9 315.1 434.0 316.4 434.2 315.6 435.5 316.7 436.8 315.2 437.0 315.5 438.1 315.4 439.4 318.0 440.6 318.5 440.7 317.3 442.0 312.1 443.3 306.9 443.6 306.5 444.6 305.9 445.9 302.2 446.6 302.0 447.2 300.5 448.5 299.6 449.6 296.6 449.8 296.5 451.1 299.2 451.4 299.0 452.4 291.2 453.5 284.0 453.7 285.2 455.0 288.4 455.6 291.5 456.3 294.9 457.6 298.3 458.0 299.0 458.9 299.5 460.2 303.0 460.4 302.6 461.5 301.2 462.5 299.0 462.8 299.3 464.1 302.3 464.6 304.4 465.4 306.6 466.7 310.6 467.0 312.5 468.0 315.4 469.3 317.2 469.4 317.0 470.6 314.2 471.9 308.2 472.4 307.4 473.2 309.8 474.5 312.5 474.5 311.4 475.8 321.6 476.6 326.0 477.1 327.1 478.4 333.5 478.4 332.4 479.7 335.3 481.0 334.9 482.0 336.5 482.3 335.8 483.6 339.3 484.9 339.6 485.0 340.4 486.2 340.1 487.5 339.9 488.8 340.9 489.5 341.6 490.1 340.3 491.4 340.7 492.7 341.4 494.0 340.4 494.0 339.7 495.3 341.5 496.6 339.9 497.9 341.7 498.5 341.0 499.2 340.5 500.5 341.2 501.8 339.6 503.0 340.4 503.1 341.0 504.4 339.0 505.7 340.2 507.0 337.6 507.5 338.6 508.3 340.3 509.6 339.7 510.9 342.2 512.0 342.5 512.2 343.2 513.5 340.9 514.8 341.1 516.1 338.9 516.5 339.5 517.4 339.7 518.7 337.5 520.0 336.2 521.0 336.5 521.3 335.6 522.6 338.7 523.9 338.8 525.2 341.3 525.5 341.0 526.5 340.6 527.8 342.4 529.1 341.6 530.0 342.5 530.4 340.7 531.7 340.2 533.0 336.5 533.0 336.1 534.3 334.5 535.4 333.5 535.6 329.7 536.9 296.2 537.5 282.5" fill="none" stroke="#0000e8" stroke-width="2.6" stroke-linejoin="round"/>
<path d="M58.5 719.9 58.5 720.3 60.0 717.2 60.3 717.1 61.5 721.7 61.7 723.0 63.0 732.0 63.5 735.0 64.5 742.1 65.1 745.7 66.0 741.4 66.7 737.7 67.5 737.9 68.3 738.5 69.0 743.8 69.7 748.3 70.5 750.8 71.5 754.5 72.0 753.0 73.1 748.3 73.5 747.4 75.0 743.2 75.0 743.0 76.5 740.7 76.9 740.3 78.0 743.2 79.0 744.9 79.5 745.2 81.0 746.4 81.1 747.0 82.5 746.5 83.0 745.7 84.0 744.3 84.9 743.8 85.5 742.0 86.5 737.7 87.0 735.7 88.3 732.3 88.5 733.0 89.7 739.0 90.0 740.9 91.0 746.5 91.5 745.8 93.0 744.9 93.7 743.8 94.5 743.4 96.0 744.1 96.3 743.8 97.5 745.0 99.0 745.4 99.0 745.7 100.5 746.6 102.0 747.8 102.5 748.3 103.5 748.7 105.0 750.8 105.7 751.0 106.5 750.1 108.0 749.5 108.3 749.1 109.5 750.0 111.0 752.7 111.0 752.3 112.5 752.5 114.0 751.6 114.2 751.8 115.5 752.6 117.0 752.3 117.7 752.9 118.5 752.4 120.0 753.4 121.5 752.6 121.7 752.9 123.0 754.0 124.5 753.8 124.9 754.5 126.0 753.6 127.5 751.6 128.3 751.0 129.0 751.1 130.5 750.1 132.0 750.4 132.3 750.2 133.5 750.8 135.0 750.5 136.3 751.0 136.5 751.4 138.0 750.7 139.5 751.5 140.3 751.0 141.0 750.8 142.5 751.2 144.0 751.3 144.3 751.8 145.5 752.0 147.0 751.0 148.3 751.0 148.5 751.5 150.0 751.0 151.5 751.2 152.3 751.8 153.0 751.7 154.5 752.8 156.0 752.6 156.3 752.9 157.5 752.1 159.0 750.2 160.3 749.7 160.5 749.1 162.0 747.9 163.5 745.6 164.3 744.9 165.0 744.4 166.5 745.3 168.0 745.3 168.3 744.9 169.5 745.0 171.0 746.4 172.3 746.5 172.5 746.1 174.0 745.8 175.5 746.3 176.3 745.7 177.0 745.5 178.5 746.5 180.0 746.1 180.3 746.5 181.5 746.7 183.0 745.5 184.3 745.7 184.5 746.4 186.0 748.7 187.0 749.7 187.5 748.5 189.0 746.3 189.7 745.7 190.5 745.1 192.0 745.6 193.5 744.5 193.7 744.9 195.0 743.4 195.8 743.0 196.5 744.2 198.0 745.6 199.0 746.5 199.5 746.7 201.0 745.4 202.5 745.5 203.0 744.9 204.0 744.9 205.5 746.1 207.0 746.1 207.0 746.5 208.5 746.5 210.0 745.5 210.0 745.7 211.5 747.1 213.0 747.9 213.2 748.3 214.5 748.8 216.0 748.8 216.7 749.1 217.5 748.5 219.0 746.3 220.5 745.6 220.7 744.9 222.0 746.0 223.5 748.2 223.9 748.3 225.0 749.3 226.0 751.0 226.5 750.5 228.0 748.3 229.2 747.0 229.5 747.5 231.0 748.2 232.5 749.7 232.7 750.2 234.0 750.1 235.5 751.0 236.7 751.0 237.0 750.6 238.5 750.2 240.0 750.6 240.7 750.2 241.5 750.4 243.0 749.9 244.5 750.4 244.7 750.2 246.0 749.4 247.5 749.7 248.7 749.1 249.0 748.7 250.5 747.7 252.0 746.6 252.1 747.0 253.5 746.8 255.0 746.3 255.9 745.7 256.5 745.2 258.0 744.5 259.3 744.3 259.5 744.5 261.0 742.6 262.0 742.2 262.5 742.4 264.0 742.4 265.5 741.4 266.0 741.7 267.0 741.2 268.5 739.4 268.7 739.0 270.0 735.5 270.8 733.7 271.5 732.0 272.7 729.7 273.0 730.2 274.5 730.2 275.3 731.0 276.0 729.8 277.2 728.3 277.5 726.5 279.0 719.5 279.3 717.7 280.5 728.3 281.5 737.7 282.0 740.5 283.5 748.1 283.9 749.7 285.0 731.3 286.0 715.0 286.5 715.4 288.0 714.9 288.1 714.5 289.5 719.9 289.5 720.3 290.8 715.0 291.0 716.1 292.5 721.4 292.7 721.7 294.0 722.0 294.8 723.0 295.5 725.2 296.7 728.3 297.0 731.0 298.0 739.0 298.5 740.5 300.0 747.1 300.1 747.0 301.5 745.2 302.0 744.9 303.0 743.6 303.9 741.7 304.5 744.2 306.0 749.4 306.0 749.7 307.5 750.7 308.7 751.0 309.0 750.5 310.5 749.9 311.3 749.7 312.0 750.5 313.5 751.2 315.0 751.2 315.3 751.8 316.5 751.6 318.0 752.4 319.3 752.9 319.5 752.6 321.0 753.0 322.0 752.3 322.5 750.7 324.0 744.8 324.1 744.9 325.5 742.7 327.0 739.3 327.3 739.0 328.5 739.0 330.0 738.3 330.5 738.5 331.5 737.1 333.0 734.1 333.2 734.2 334.5 736.2 335.3 737.7 336.0 738.2 337.5 738.0 338.0 738.5 339.0 739.9 340.5 743.1 340.7 743.0 342.0 743.6 343.3 744.9 343.5 744.2 345.0 734.8 345.5 732.3 346.5 734.9 347.3 736.3 348.0 734.1 349.2 731.5 349.5 734.6 350.8 747.0 351.0 746.5 352.5 744.9 352.7 744.9 354.0 744.9 355.3 745.7 355.5 745.9 357.0 743.8 357.2 743.8 358.5 748.5 359.3 751.0 360.0 751.0 361.5 749.5 362.0 749.7 363.0 750.9 364.5 751.4 364.7 751.8 366.0 746.8 366.8 744.3 367.5 746.9 369.0 752.3 369.5 753.6 370.5 753.1 372.0 751.6 372.5 751.5 373.5 753.2 374.6 754.5 375.0 751.7 376.5 742.8 377.0 739.5 378.0 737.8 379.4 734.4 379.5 734.8 381.0 736.3 381.5 736.5 382.5 739.7 383.6 744.0 384.0 744.5 385.5 747.7 386.0 748.5 387.0 747.5 388.4 746.4 388.5 746.1 390.0 746.6 391.4 747.0 391.5 747.3 393.0 744.9 393.5 744.6 394.5 744.1 396.0 742.6 396.5 742.5 397.5 741.8 398.6 740.4 399.0 741.9 400.4 746.4 400.5 746.0 402.0 744.8 402.5 744.0 403.5 745.1 404.6 747.0 405.0 747.7 406.5 747.7 407.0 748.5 408.0 748.4 409.5 746.8 410.0 747.0 411.0 747.2 412.5 746.2 413.6 746.4 414.0 746.1 415.5 746.0 416.6 745.5 417.0 744.7 418.5 742.9 419.0 741.6 420.0 744.2 421.4 748.5 421.5 748.5 423.0 744.3 423.5 742.5 424.5 741.6 426.0 741.2 426.5 740.4 427.5 740.8 429.0 742.0 429.5 742.5 430.5 743.9 432.0 744.8 432.5 745.5 433.5 745.7 435.0 744.5 435.5 744.6 436.5 738.1 437.6 730.5 438.0 728.5 439.4 720.0 439.5 720.7 441.0 727.8 441.5 730.5 442.5 734.2 443.6 738.0 444.0 736.2 445.4 731.4 445.5 731.7 447.0 733.7 447.5 735.0 448.5 740.3 449.6 745.5 450.0 746.2 451.5 750.5 452.0 751.5 453.0 752.0 454.4 753.6 454.5 752.9 456.0 748.3 456.5 747.0 457.5 743.8 458.6 739.5 459.0 737.2 460.4 730.5 460.5 730.8 461.6 729.6 462.0 732.6 463.4 741.0 463.5 741.0 465.0 745.3 465.5 747.0 466.5 750.4 467.6 753.6 468.0 751.7 469.5 746.2 470.0 744.6 471.0 745.2 472.4 745.5 472.5 745.2 474.0 744.7 474.5 744.0 475.5 744.3 477.0 745.1 477.5 745.5 478.5 746.5 480.0 747.1 480.5 747.6 481.5 747.5 483.0 746.9 483.5 746.4 484.5 746.6 486.0 746.3 487.5 745.2 488.0 745.5 489.0 746.2 490.5 746.4 492.0 745.9 492.5 746.4 493.5 746.4 495.0 745.7 496.5 746.0 497.0 745.5 498.0 745.7 499.5 746.0 501.0 747.0 501.5 747.0 502.5 747.2 504.0 747.8 504.5 748.5 505.5 747.4 507.0 745.0 507.5 744.6 508.5 743.8 510.0 741.7 510.5 741.6 511.5 743.3 512.6 745.5 513.0 744.9 514.5 741.8 515.0 740.4 516.0 743.0 517.4 745.5 517.5 745.4 519.0 747.6 520.4 750.0 520.5 750.2 522.0 748.1 523.4 745.5 523.5 745.2 525.0 748.0 525.5 748.5 526.5 747.5 528.0 744.8 528.5 744.6 529.5 740.6 530.0 738.0 531.0 738.5 532.4 740.4 532.5 740.9 534.0 745.2 534.5 747.0 535.5 739.3 536.0 735.0 537.0 731.2 537.5 729.0" fill="none" stroke="#0000e8" stroke-width="2.6" stroke-linejoin="round"/>
<line x1="353.3" y1="28" x2="353.3" y2="757" stroke="#d81414" stroke-width="2.4"/>
<line x1="378.5" y1="30" x2="378.5" y2="757" stroke="#d81414" stroke-width="2.4" stroke-dasharray="7.2 7.2"/>
<line x1="394.0" y1="28" x2="394.0" y2="757" stroke="#d81414" stroke-width="2.4"/>
<line x1="405.9" y1="30" x2="405.9" y2="757" stroke="#d81414" stroke-width="2.4" stroke-dasharray="7.2 7.2"/>
<line x1="433.3" y1="28" x2="433.3" y2="757" stroke="#d81414" stroke-width="2.4"/>
<line x1="467.0" y1="30" x2="467.0" y2="757" stroke="#d81414" stroke-width="2.4" stroke-dasharray="7.2 7.2"/>
<path d="M56.6 27.5H539.7M56.6 109.0H539.7M56.6 190.0H539.7M56.6 271.3H539.7M56.6 352.2H539.7M56.6 433.0H539.7M56.6 514.5H539.7M56.6 595.7H539.7M56.6 677.0H539.7M56.6 758.2H539.7M57.8 27.5V758.2M538.5 27.5V758.2M93.0 27.5V23.0M155.5 27.5V23.0M218.5 27.5V23.0M281.2 27.5V23.0M343.8 27.5V23.0M406.4 27.5V23.0M469.0 27.5V23.0M531.3 27.5V23.0M93.0 109.0V113.5M155.5 109.0V113.5M218.5 109.0V113.5M281.2 109.0V113.5M343.8 109.0V113.5M406.4 109.0V113.5M469.0 109.0V113.5M531.3 109.0V113.5M93.0 190.0V194.5M155.5 190.0V194.5M218.5 190.0V194.5M281.2 190.0V194.5M343.8 190.0V194.5M406.4 190.0V194.5M469.0 190.0V194.5M531.3 190.0V194.5M93.0 271.3V275.8M155.5 271.3V275.8M218.5 271.3V275.8M281.2 271.3V275.8M343.8 271.3V275.8M406.4 271.3V275.8M469.0 271.3V275.8M531.3 271.3V275.8M93.0 352.2V356.7M155.5 352.2V356.7M218.5 352.2V356.7M281.2 352.2V356.7M343.8 352.2V356.7M406.4 352.2V356.7M469.0 352.2V356.7M531.3 352.2V356.7M93.0 433.0V437.5M155.5 433.0V437.5M218.5 433.0V437.5M281.2 433.0V437.5M343.8 433.0V437.5M406.4 433.0V437.5M469.0 433.0V437.5M531.3 433.0V437.5M93.0 514.5V519.0M155.5 514.5V519.0M218.5 514.5V519.0M281.2 514.5V519.0M343.8 514.5V519.0M406.4 514.5V519.0M469.0 514.5V519.0M531.3 514.5V519.0M93.0 595.7V600.2M155.5 595.7V600.2M218.5 595.7V600.2M281.2 595.7V600.2M343.8 595.7V600.2M406.4 595.7V600.2M469.0 595.7V600.2M531.3 595.7V600.2M93.0 677.0V681.5M155.5 677.0V681.5M218.5 677.0V681.5M281.2 677.0V681.5M343.8 677.0V681.5M406.4 677.0V681.5M469.0 677.0V681.5M531.3 677.0V681.5M68.0 677.0V679.5M80.5 677.0V679.5M105.5 677.0V679.5M118.0 677.0V679.5M130.6 677.0V679.5M143.1 677.0V679.5M168.1 677.0V679.5M180.6 677.0V679.5M193.2 677.0V679.5M205.7 677.0V679.5M230.7 677.0V679.5M243.2 677.0V679.5M255.8 677.0V679.5M268.3 677.0V679.5M293.3 677.0V679.5M305.8 677.0V679.5M318.4 677.0V679.5M330.9 677.0V679.5M355.9 677.0V679.5M368.4 677.0V679.5M381.0 677.0V679.5M393.5 677.0V679.5M418.5 677.0V679.5M431.0 677.0V679.5M443.6 677.0V679.5M456.1 677.0V679.5M481.1 677.0V679.5M493.6 677.0V679.5M506.2 677.0V679.5M518.7 677.0V679.5M126.5 758.2V763.0M212.4 758.2V763.0M298.2 758.2V763.0M384.1 758.2V763.0M469.9 758.2V763.0M57.8 55.0H53.0M538.5 55.0H543.3M57.8 81.5H53.0M538.5 81.5H543.3M57.8 117.0H53.0M538.5 117.0H543.3M57.8 154.0H53.0M538.5 154.0H543.3M57.8 244.0H53.0M538.5 244.0H543.3M57.8 284.7H53.0M538.5 284.7H543.3M57.8 318.3H53.0M538.5 318.3H543.3M57.8 385.2H53.0M538.5 385.2H543.3M57.8 417.7H53.0M538.5 417.7H543.3M57.8 442.4H53.0M538.5 442.4H543.3M57.8 487.5H53.0M538.5 487.5H543.3M57.8 528.4H53.0M538.5 528.4H543.3M57.8 555.2H53.0M538.5 555.2H543.3M57.8 582.0H53.0M538.5 582.0H543.3M57.8 615.8H53.0M538.5 615.8H543.3M57.8 657.0H53.0M538.5 657.0H543.3M57.8 707.5H53.0M538.5 707.5H543.3M57.8 758.2H53.0M538.5 758.2H543.3M57.8 27.5H53.0M538.5 27.5H543.3M57.8 109.0H53.0M538.5 109.0H543.3M57.8 190.0H53.0M538.5 190.0H543.3M57.8 352.2H53.0M538.5 352.2H543.3" fill="none" stroke="#000" stroke-width="2.4"/>
<defs><linearGradient id="jetg" x1="0" y1="1" x2="0" y2="0"><stop offset="0" stop-color="#000080"/><stop offset="0.125" stop-color="#0000ff"/><stop offset="0.375" stop-color="#00ffff"/><stop offset="0.625" stop-color="#ffff00"/><stop offset="0.875" stop-color="#ff0000"/><stop offset="1" stop-color="#800000"/></linearGradient></defs><rect x="558.0" y="433.8" width="11.8" height="83.8" fill="url(#jetg)" stroke="#000" stroke-width="0.8"/>
<path d="M558.0 443.7h1.8M569.8 443.7h-1.8" stroke="#000" stroke-width="0.8"/>
<path d="M558.0 467.9h1.8M569.8 467.9h-1.8" stroke="#000" stroke-width="0.8"/>
<path d="M558.0 493.4h1.8M569.8 493.4h-1.8" stroke="#000" stroke-width="0.8"/><rect x="33.3" y="517.4" width="11.1" height="82.0" fill="url(#jetg)" stroke="#000" stroke-width="0.8"/>
<path d="M33.3 531.8h1.8M44.4 531.8h-1.8" stroke="#000" stroke-width="0.8"/>
<path d="M33.3 548.8h1.8M44.4 548.8h-1.8" stroke="#000" stroke-width="0.8"/>
<path d="M33.3 565.8h1.8M44.4 565.8h-1.8" stroke="#000" stroke-width="0.8"/>
<path d="M33.3 582.8h1.8M44.4 582.8h-1.8" stroke="#000" stroke-width="0.8"/><rect x="558.0" y="594.5" width="11.6" height="84.3" fill="url(#jetg)" stroke="#000" stroke-width="0.8"/>
<path d="M558.0 596.6h1.8M569.6 596.6h-1.8" stroke="#000" stroke-width="0.8"/>
<path d="M558.0 638.9h1.8M569.6 638.9h-1.8" stroke="#000" stroke-width="0.8"/>
<g style='font-family:"Liberation Sans",sans-serif;font-weight:bold' fill="#000"><text x="298.5" y="14.6" font-size="17.0" text-anchor="middle" >ACE CR1987</text><text x="74.0" y="44.1" font-size="17" text-anchor="middle">(a)</text><text x="73.0" y="126.1" font-size="17" text-anchor="middle">(b)</text><text x="72.5" y="208.8" font-size="17" text-anchor="middle">(c)</text><text x="73.5" y="298.5" font-size="17" text-anchor="middle">(d)</text><text x="72.5" y="368.3" font-size="17" text-anchor="middle">(e)</text><text x="74.8" y="446.4" font-size="17" text-anchor="middle">(f)</text><text x="74.5" y="580.1" font-size="17" text-anchor="middle">(g)</text><text x="78.2" y="665.5" font-size="17" text-anchor="middle">(h)</text><text x="75.8" y="702.9" font-size="17" text-anchor="middle">(i)</text><text x="547.0" y="34.8" font-size="17.0" text-anchor="start" >800</text><text x="547.0" y="61.6" font-size="17.0" text-anchor="start" >600</text><text x="547.0" y="88.1" font-size="17.0" text-anchor="start" >400</text><text x="547.0" y="115.8" font-size="17.0" text-anchor="start" >200</text><text x="49.5" y="124.0" font-size="17.0" text-anchor="end" >4</text><text x="49.5" y="161.0" font-size="17.0" text-anchor="end" >2</text><text x="49.5" y="197.3" font-size="17.0" text-anchor="end" >0</text><text x="547.0" y="195.5" font-size="17">10<tspan font-size="12" dy="-6.5">2</tspan></text><text x="547.0" y="249.5" font-size="17">10<tspan font-size="12" dy="-6.5">0</tspan></text><text x="49.5" y="291.7" font-size="17.0" text-anchor="end" >20</text><text x="49.5" y="325.3" font-size="17.0" text-anchor="end" >10</text><text x="49.5" y="359.5" font-size="17.0" text-anchor="end" >0</text><text x="547.0" y="359.3" font-size="17.0" text-anchor="start" >400</text><text x="547.0" y="392.9" font-size="17.0" text-anchor="start" >200</text><text x="547.0" y="424.7" font-size="17.0" text-anchor="start" >0</text><text x="49.5" y="449.4" font-size="17.0" text-anchor="end" >20</text><text x="49.5" y="494.5" font-size="17.0" text-anchor="end" >10</text><text x="547.0" y="536.3" font-size="17.0" text-anchor="start" >8</text><text x="547.0" y="562.8" font-size="17.0" text-anchor="start" >6</text><text x="547.0" y="589.2" font-size="17.0" text-anchor="start" >4</text><text x="49.5" y="622.8" font-size="17.0" text-anchor="end" >6</text><text x="49.5" y="664.0" font-size="17.0" text-anchor="end" >4</text><text x="547.0" y="714.6" font-size="17.0" text-anchor="start" >0.5</text><text x="547.0" y="764.6" font-size="17.0" text-anchor="start" >0</text><text x="573.5" y="449.2" font-size="17.0" text-anchor="start" >0.6</text><text x="573.5" y="473.4" font-size="17.0" text-anchor="start" >0.4</text><text x="573.5" y="498.9" font-size="17.0" text-anchor="start" >0.2</text><text x="29.5" y="537.3" font-size="17.0" text-anchor="end" >0.8</text><text x="29.5" y="554.3" font-size="17.0" text-anchor="end" >0.6</text><text x="29.5" y="571.3" font-size="17.0" text-anchor="end" >0.4</text><text x="29.5" y="588.3" font-size="17.0" text-anchor="end" >0.2</text><text x="574.5" y="602.1" font-size="17.0" text-anchor="start" >1</text><text x="574.5" y="644.4" font-size="17.0" text-anchor="start" >0.5</text><text x="126.5" y="783.8" font-size="17.0" text-anchor="middle" >65</text><text x="212.4" y="783.8" font-size="17.0" text-anchor="middle" >70</text><text x="298.2" y="783.8" font-size="17.0" text-anchor="middle" >75</text><text x="384.1" y="783.8" font-size="17.0" text-anchor="middle" >80</text><text x="469.9" y="783.8" font-size="17.0" text-anchor="middle" >85</text><text x="298.5" y="800.5" font-size="17.0" text-anchor="middle" >DOY in 2002</text><text transform="translate(588 104.6) rotate(-90)" font-size="17">V<tspan font-size="12.5" dy="8.3">p</tspan><tspan dy="-8.3"> (km/s)</tspan></text><text transform="translate(23.2 186.7) rotate(-90)" font-size="17">T<tspan font-size="12.5" dy="8.3">p</tspan><tspan dy="-8.3"> (10</tspan><tspan font-size="12" dy="-6.5">5</tspan><tspan dy="6.5"> K)</tspan></text><text transform="translate(586 267.6) rotate(-90)" font-size="17">N<tspan font-size="12.5" dy="7">p</tspan><tspan dy="-7"> (cm</tspan><tspan font-size="12" dy="-6.5">&#8722;3</tspan><tspan dy="6.5">)</tspan></text><text transform="translate(22 312) rotate(-90)" font-size="17" text-anchor="middle">&lt;|B|&gt; (nT)</text><text transform="translate(591.5 393.5) rotate(-90)" font-size="17.5" text-anchor="middle" font-family="Liberation Serif" font-weight="normal">&#955;, &#948;</text><text transform="translate(15 488.5) rotate(-90)" font-size="17" font-weight="normal">Q<tspan font-size="12" dy="8">Fe</tspan></text><text transform="translate(570.5 566) rotate(-90)" font-size="17" font-weight="normal">Q<tspan font-size="12.5" dy="8">O</tspan></text><text transform="translate(24 647.5) rotate(-90)" font-size="17" font-weight="normal">Q<tspan font-size="13.5" dy="8.5">C</tspan></text><text transform="translate(587.5 717.6) rotate(-90)" font-size="17" text-anchor="middle">Fe/O</text></g>
</svg>
</body></html>
